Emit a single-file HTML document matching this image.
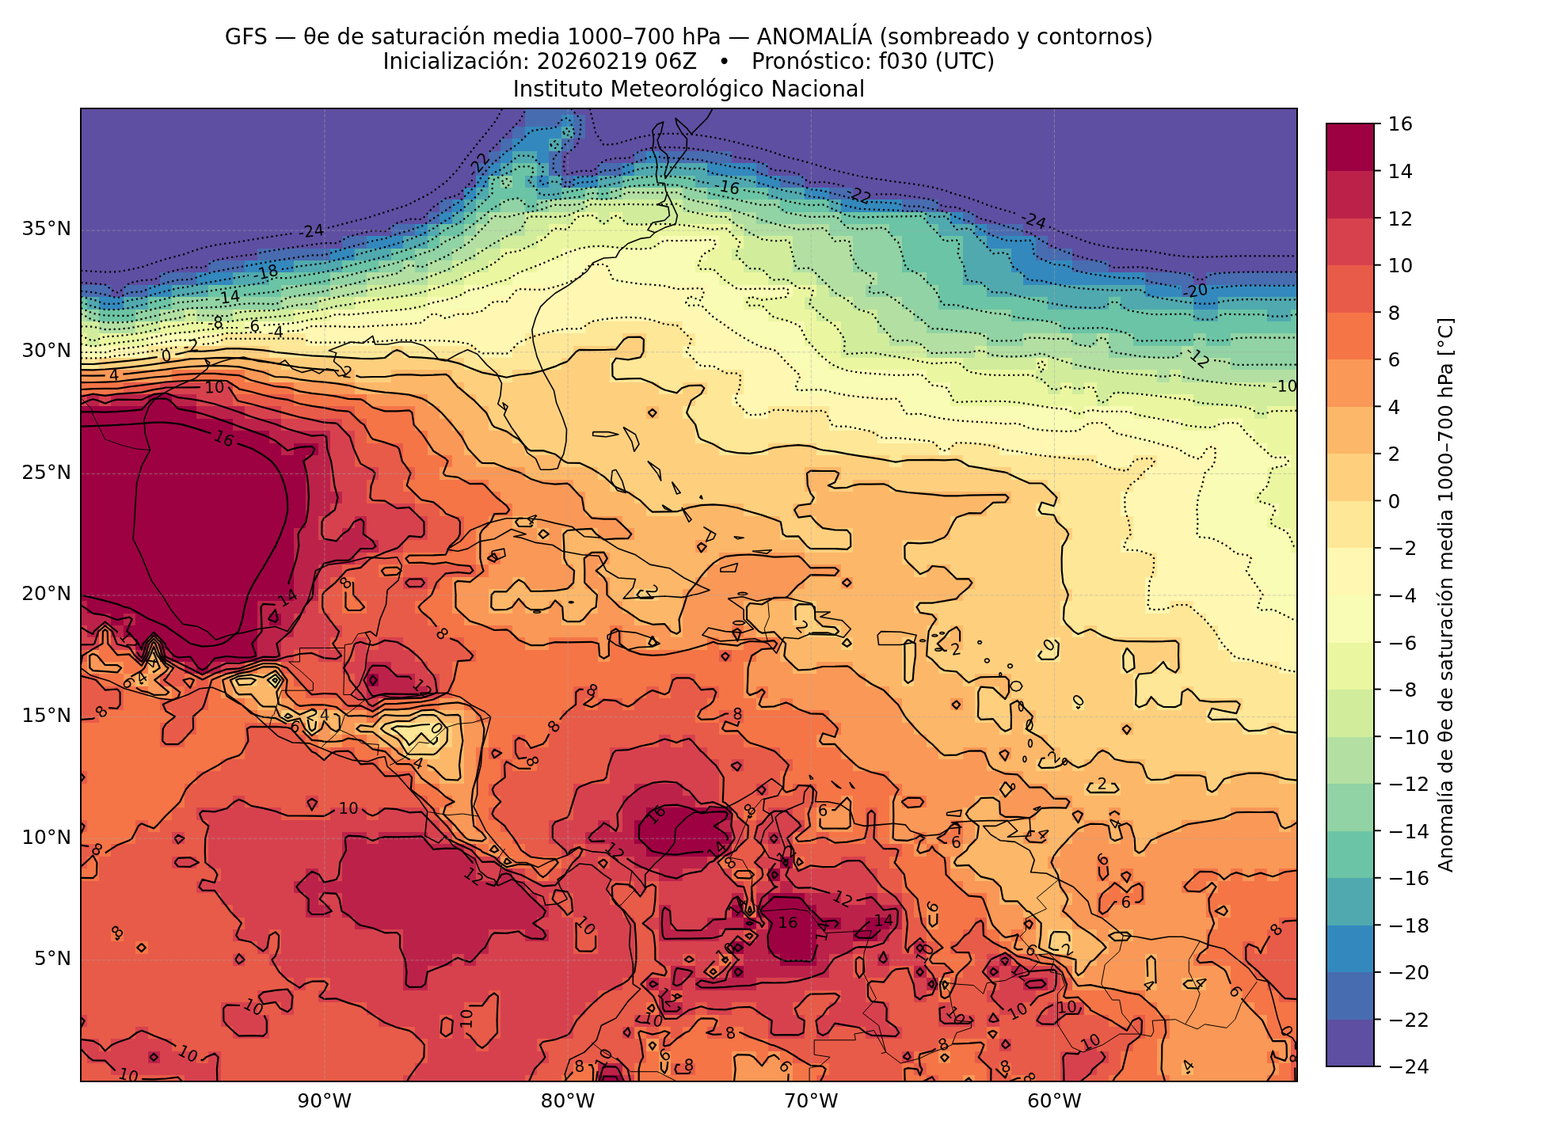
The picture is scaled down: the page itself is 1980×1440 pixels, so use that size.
<!DOCTYPE html>
<html lang="es"><head><meta charset="utf-8"><title>GFS — θe de saturación media 1000–700 hPa — ANOMALÍA</title>
<style>html,body{margin:0;padding:0;background:#fff}svg{display:block}</style></head>
<body>
<svg xmlns="http://www.w3.org/2000/svg" width="1980" height="1440" viewBox="0 0 1980 1440" font-family="'DejaVu Sans','Liberation Sans',sans-serif" fill="#000">
<rect width="1980" height="1440" fill="#fff"/>
<defs><clipPath id="ax"><rect x="102.0" y="137.0" width="1536.0" height="1229.0"/></clipPath></defs>
<g shape-rendering="crispEdges"><path fill="#5e4fa2" d="M724.1 137H1638V144.7H724.1ZM102 137H662.6V160H102ZM102 160H647.3V175.4H102ZM739.4 144.7H1638V175.4H739.4ZM102 175.4H631.9V190.8H102ZM724.1 175.4H1638V190.8H724.1ZM102 190.8H616.6V206.1H102ZM708.7 190.8H800.9V206.1H708.7ZM923.8 190.8H1638V206.1H923.8ZM708.7 206.1H754.8V221.5H708.7ZM969.8 206.1H1638V221.5H969.8ZM102 206.1H601.2V236.9H102ZM1015.9 221.5H1638V236.9H1015.9ZM102 236.9H585.8V252.2H102ZM1077.4 236.9H1638V252.2H1077.4ZM102 252.2H555.1V267.6H102ZM1184.9 252.2H1638V267.6H1184.9ZM102 267.6H539.8V282.9H102ZM1231 267.6H1638V282.9H1231ZM102 282.9H493.7V298.3H102ZM1292.4 282.9H1638V298.3H1292.4ZM102 298.3H432.2V313.7H102ZM1323.1 298.3H1638V313.7H1323.1ZM102 313.7H324.7V329H102ZM1353.8 313.7H1638V329H1353.8ZM102 329H263.3V344.4H102ZM1399.9 329H1638V344.4H1399.9ZM102 344.4H201.8V359.8H102ZM1507.4 344.4H1522.8V359.8H1507.4ZM140.4 359.8H155.8V375.1H140.4Z"/>
<path fill="#486cb0" d="M662.6 137H724.1V144.7H662.6ZM662.6 144.7H708.7V160H662.6ZM647.3 160H662.6V175.4H647.3ZM724.1 144.7H739.4V175.4H724.1ZM631.9 175.4H647.3V190.8H631.9ZM708.7 175.4H724.1V190.8H708.7ZM616.6 190.8H631.9V206.1H616.6ZM800.9 190.8H816.2V206.1H800.9ZM831.6 190.8H923.8V206.1H831.6ZM601.2 206.1H616.6V221.5H601.2ZM693.4 190.8H708.7V221.5H693.4ZM754.8 206.1H785.5V221.5H754.8ZM954.5 206.1H969.8V221.5H954.5ZM708.7 221.5H724.1V236.9H708.7ZM985.2 221.5H1015.9V236.9H985.2ZM1046.6 236.9H1077.4V252.2H1046.6ZM555.1 252.2H570.5V267.6H555.1ZM1138.8 252.2H1184.9V267.6H1138.8ZM539.8 267.6H555.1V282.9H539.8ZM1215.6 267.6H1231V282.9H1215.6ZM493.7 282.9H524.4V298.3H493.7ZM1246.3 282.9H1292.4V298.3H1246.3ZM432.2 298.3H463V313.7H432.2ZM1307.8 298.3H1323.1V313.7H1307.8ZM324.7 313.7H416.9V329H324.7ZM1307.8 313.7H1353.8V329H1307.8ZM263.3 329H309.4V344.4H263.3ZM1353.8 329H1399.9V344.4H1353.8ZM201.8 344.4H247.9V359.8H201.8ZM1446 344.4H1507.4V359.8H1446ZM1522.8 344.4H1638V359.8H1522.8ZM102 359.8H140.4V375.1H102ZM155.8 359.8H186.5V375.1H155.8ZM1492.1 359.8H1507.4V375.1H1492.1Z"/>
<path fill="#3389bd" d="M708.7 144.7H724.1V160H708.7ZM662.6 160H708.7V175.4H662.6ZM647.3 175.4H693.4V190.8H647.3ZM631.9 190.8H647.3V206.1H631.9ZM678 190.8H693.4V206.1H678ZM816.2 190.8H831.6V206.1H816.2ZM616.6 206.1H631.9V221.5H616.6ZM785.5 206.1H800.9V221.5H785.5ZM893 206.1H954.5V221.5H893ZM601.2 221.5H616.6V236.9H601.2ZM678 221.5H693.4V236.9H678ZM724.1 221.5H754.8V236.9H724.1ZM954.5 221.5H985.2V236.9H954.5ZM585.8 236.9H601.2V252.2H585.8ZM1015.9 236.9H1046.6V252.2H1015.9ZM570.5 252.2H585.8V267.6H570.5ZM1062 252.2H1138.8V267.6H1062ZM555.1 267.6H570.5V282.9H555.1ZM1200.2 267.6H1215.6V282.9H1200.2ZM524.4 282.9H539.8V298.3H524.4ZM1231 282.9H1246.3V298.3H1231ZM463 298.3H509V313.7H463ZM1246.3 298.3H1307.8V313.7H1246.3ZM416.9 313.7H447.6V329H416.9ZM1277 313.7H1307.8V329H1277ZM309.4 329H370.8V344.4H309.4ZM1277 329H1353.8V344.4H1277ZM247.9 344.4H294V359.8H247.9ZM1292.4 344.4H1446V359.8H1292.4ZM186.5 359.8H217.2V375.1H186.5ZM1446 359.8H1492.1V375.1H1446ZM1507.4 359.8H1638V375.1H1507.4ZM125 375.1H155.8V390.5H125ZM1507.4 375.1H1538.2V390.5H1507.4Z"/>
<path fill="#50a9af" d="M708.7 160H724.1V175.4H708.7ZM693.4 175.4H708.7V190.8H693.4ZM647.3 190.8H678V206.1H647.3ZM631.9 206.1H647.3V221.5H631.9ZM678 206.1H693.4V221.5H678ZM800.9 206.1H893V221.5H800.9ZM662.6 221.5H678V236.9H662.6ZM693.4 221.5H708.7V236.9H693.4ZM754.8 221.5H785.5V236.9H754.8ZM877.7 221.5H954.5V236.9H877.7ZM601.2 236.9H616.6V252.2H601.2ZM678 236.9H708.7V252.2H678ZM969.8 236.9H1015.9V252.2H969.8ZM585.8 252.2H601.2V267.6H585.8ZM1046.6 252.2H1062V267.6H1046.6ZM570.5 267.6H585.8V282.9H570.5ZM1169.5 267.6H1200.2V282.9H1169.5ZM539.8 282.9H555.1V298.3H539.8ZM1184.9 282.9H1231V298.3H1184.9ZM509 298.3H539.8V313.7H509ZM1215.6 298.3H1246.3V313.7H1215.6ZM447.6 313.7H493.7V329H447.6ZM370.8 329H432.2V344.4H370.8ZM1215.6 313.7H1277V344.4H1215.6ZM294 344.4H340.1V359.8H294ZM1215.6 344.4H1292.4V359.8H1215.6ZM217.2 359.8H263.3V375.1H217.2ZM1246.3 359.8H1446V375.1H1246.3ZM109.7 375.1H125V390.5H109.7ZM155.8 375.1H186.5V390.5H155.8ZM1323.1 375.1H1399.9V390.5H1323.1ZM1415.3 375.1H1507.4V390.5H1415.3ZM1538.2 375.1H1638V390.5H1538.2ZM1507.4 390.5H1538.2V405.8H1507.4ZM1599.6 390.5H1630.3V405.8H1599.6Z"/>
<path fill="#6bc4a5" d="M647.3 206.1H678V221.5H647.3ZM616.6 221.5H631.9V236.9H616.6ZM647.3 221.5H662.6V236.9H647.3ZM785.5 221.5H877.7V236.9H785.5ZM616.6 236.9H678V252.2H616.6ZM708.7 236.9H739.4V252.2H708.7ZM754.8 236.9H770.2V252.2H754.8ZM893 236.9H969.8V252.2H893ZM601.2 252.2H631.9V267.6H601.2ZM662.6 252.2H678V267.6H662.6ZM985.2 252.2H1046.6V267.6H985.2ZM585.8 267.6H601.2V282.9H585.8ZM1062 267.6H1169.5V282.9H1062ZM555.1 282.9H585.8V298.3H555.1ZM1123.4 282.9H1184.9V298.3H1123.4ZM539.8 298.3H555.1V313.7H539.8ZM493.7 313.7H524.4V329H493.7ZM432.2 329H478.3V344.4H432.2ZM1138.8 298.3H1215.6V344.4H1138.8ZM340.1 344.4H416.9V359.8H340.1ZM1169.5 344.4H1215.6V359.8H1169.5ZM263.3 359.8H355.4V375.1H263.3ZM1184.9 359.8H1246.3V375.1H1184.9ZM102 375.1H109.7V390.5H102ZM186.5 375.1H217.2V390.5H186.5ZM1184.9 375.1H1323.1V390.5H1184.9ZM1399.9 375.1H1415.3V390.5H1399.9ZM125 390.5H171.1V405.8H125ZM1277 390.5H1507.4V405.8H1277ZM1538.2 390.5H1599.6V405.8H1538.2ZM1630.3 390.5H1638V405.8H1630.3ZM1338.5 405.8H1638V421.2H1338.5ZM1430.6 421.2H1507.4V436.6H1430.6ZM1522.8 421.2H1553.5V436.6H1522.8Z"/>
<path fill="#91d3a4" d="M631.9 221.5H647.3V236.9H631.9ZM739.4 236.9H754.8V252.2H739.4ZM770.2 236.9H785.5V252.2H770.2ZM862.3 236.9H893V252.2H862.3ZM631.9 252.2H662.6V267.6H631.9ZM678 252.2H693.4V267.6H678ZM908.4 252.2H985.2V267.6H908.4ZM601.2 267.6H616.6V282.9H601.2ZM954.5 267.6H1062V282.9H954.5ZM585.8 282.9H601.2V298.3H585.8ZM1046.6 282.9H1123.4V298.3H1046.6ZM555.1 298.3H585.8V313.7H555.1ZM524.4 313.7H570.5V329H524.4ZM478.3 329H509V344.4H478.3ZM524.4 329H539.8V344.4H524.4ZM1077.4 298.3H1138.8V344.4H1077.4ZM416.9 344.4H463V359.8H416.9ZM1108.1 344.4H1169.5V359.8H1108.1ZM355.4 359.8H416.9V375.1H355.4ZM1092.7 359.8H1184.9V375.1H1092.7ZM217.2 375.1H355.4V390.5H217.2ZM1138.8 375.1H1184.9V390.5H1138.8ZM109.7 390.5H125V405.8H109.7ZM171.1 390.5H201.8V405.8H171.1ZM1154.2 390.5H1277V405.8H1154.2ZM1169.5 405.8H1338.5V421.2H1169.5ZM1246.3 421.2H1292.4V436.6H1246.3ZM1353.8 421.2H1384.6V436.6H1353.8ZM1399.9 421.2H1430.6V436.6H1399.9ZM1507.4 421.2H1522.8V436.6H1507.4ZM1553.5 421.2H1638V436.6H1553.5ZM1399.9 436.6H1492.1V451.9H1399.9ZM1507.4 436.6H1638V451.9H1507.4ZM1553.5 451.9H1638V467.3H1553.5Z"/>
<path fill="#b3e0a2" d="M785.5 236.9H862.3V252.2H785.5ZM693.4 252.2H739.4V267.6H693.4ZM862.3 252.2H908.4V267.6H862.3ZM616.6 267.6H662.6V282.9H616.6ZM923.8 267.6H954.5V282.9H923.8ZM601.2 282.9H662.6V298.3H601.2ZM939.1 282.9H1046.6V298.3H939.1ZM585.8 298.3H631.9V313.7H585.8ZM570.5 313.7H601.2V329H570.5ZM509 329H524.4V344.4H509ZM539.8 329H570.5V344.4H539.8ZM1000.6 298.3H1077.4V344.4H1000.6ZM463 344.4H539.8V359.8H463ZM1031.3 344.4H1108.1V359.8H1031.3ZM416.9 359.8H463V375.1H416.9ZM1046.6 359.8H1092.7V375.1H1046.6ZM355.4 375.1H401.5V390.5H355.4ZM1077.4 375.1H1138.8V390.5H1077.4ZM102 390.5H109.7V405.8H102ZM201.8 390.5H232.6V405.8H201.8ZM247.9 390.5H294V405.8H247.9ZM1108.1 390.5H1154.2V405.8H1108.1ZM125 405.8H171.1V421.2H125ZM1108.1 405.8H1169.5V421.2H1108.1ZM1123.4 421.2H1246.3V436.6H1123.4ZM1292.4 421.2H1353.8V436.6H1292.4ZM1384.6 421.2H1399.9V436.6H1384.6ZM1169.5 436.6H1231V451.9H1169.5ZM1246.3 436.6H1399.9V451.9H1246.3ZM1492.1 436.6H1507.4V451.9H1492.1ZM1353.8 451.9H1553.5V467.3H1353.8ZM1461.4 467.3H1476.7V482.7H1461.4ZM1492.1 467.3H1638V482.7H1492.1Z"/>
<path fill="#d1ed9c" d="M739.4 252.2H862.3V267.6H739.4ZM662.6 267.6H724.1V282.9H662.6ZM754.8 267.6H770.2V282.9H754.8ZM785.5 267.6H923.8V282.9H785.5ZM662.6 282.9H693.4V298.3H662.6ZM923.8 282.9H939.1V298.3H923.8ZM631.9 298.3H678V313.7H631.9ZM939.1 298.3H1000.6V313.7H939.1ZM601.2 313.7H631.9V329H601.2ZM923.8 313.7H1000.6V329H923.8ZM570.5 329H616.6V344.4H570.5ZM939.1 329H1000.6V344.4H939.1ZM539.8 344.4H585.8V359.8H539.8ZM969.8 344.4H1031.3V359.8H969.8ZM463 359.8H539.8V375.1H463ZM1031.3 359.8H1046.6V375.1H1031.3ZM401.5 375.1H447.6V390.5H401.5ZM1015.9 375.1H1077.4V390.5H1015.9ZM232.6 390.5H247.9V405.8H232.6ZM294 390.5H370.8V405.8H294ZM1031.3 390.5H1108.1V405.8H1031.3ZM102 405.8H125V421.2H102ZM171.1 405.8H201.8V421.2H171.1ZM1062 405.8H1108.1V421.2H1062ZM109.7 421.2H125V436.6H109.7ZM1062 421.2H1123.4V436.6H1062ZM1062 436.6H1169.5V451.9H1062ZM1231 436.6H1246.3V451.9H1231ZM1215.6 451.9H1307.8V467.3H1215.6ZM1323.1 451.9H1353.8V467.3H1323.1ZM1307.8 467.3H1461.4V482.7H1307.8ZM1476.7 467.3H1492.1V482.7H1476.7ZM1323.1 482.7H1338.5V498H1323.1ZM1353.8 482.7H1369.2V498H1353.8ZM1384.6 482.7H1638V498H1384.6ZM1384.6 498H1399.9V513.4H1384.6ZM1507.4 498H1638V513.4H1507.4ZM1584.2 513.4H1599.6V528.7H1584.2Z"/>
<path fill="#ebf7a0" d="M724.1 267.6H754.8V282.9H724.1ZM770.2 267.6H785.5V282.9H770.2ZM693.4 282.9H923.8V298.3H693.4ZM678 298.3H831.6V313.7H678ZM908.4 298.3H939.1V313.7H908.4ZM631.9 313.7H708.7V329H631.9ZM893 313.7H923.8V329H893ZM616.6 329H678V344.4H616.6ZM877.7 329H939.1V344.4H877.7ZM585.8 344.4H647.3V359.8H585.8ZM908.4 344.4H969.8V359.8H908.4ZM539.8 359.8H585.8V375.1H539.8ZM1000.6 359.8H1031.3V375.1H1000.6ZM447.6 375.1H539.8V390.5H447.6ZM939.1 375.1H1015.9V390.5H939.1ZM370.8 390.5H416.9V405.8H370.8ZM969.8 390.5H1031.3V405.8H969.8ZM201.8 405.8H309.4V421.2H201.8ZM102 421.2H109.7V436.6H102ZM125 421.2H186.5V436.6H125ZM1015.9 405.8H1062V436.6H1015.9ZM1031.3 436.6H1062V451.9H1031.3ZM1046.6 451.9H1215.6V467.3H1046.6ZM1307.8 451.9H1323.1V467.3H1307.8ZM1169.5 467.3H1307.8V482.7H1169.5ZM1200.2 482.7H1323.1V498H1200.2ZM1338.5 482.7H1353.8V498H1338.5ZM1369.2 482.7H1384.6V498H1369.2ZM1200.2 498H1384.6V513.4H1200.2ZM1399.9 498H1507.4V513.4H1399.9ZM1353.8 513.4H1369.2V528.7H1353.8ZM1430.6 513.4H1584.2V528.7H1430.6ZM1599.6 513.4H1638V528.7H1599.6ZM1492.1 528.7H1538.2V544.1H1492.1ZM1568.9 528.7H1638V544.1H1568.9ZM1584.2 544.1H1638V559.5H1584.2ZM1599.6 559.5H1638V574.8H1599.6ZM1630.3 574.8H1638V590.2H1630.3ZM1599.6 590.2H1638V620.9H1599.6ZM1584.2 620.9H1638V636.3H1584.2ZM1615 636.3H1638V651.6H1615ZM1599.6 651.6H1638V667H1599.6ZM1630.3 667H1638V697.7H1630.3Z"/>
<path fill="#f8fcb4" d="M831.6 298.3H908.4V313.7H831.6ZM708.7 313.7H893V329H708.7ZM678 329H739.4V344.4H678ZM770.2 329H877.7V344.4H770.2ZM647.3 344.4H724.1V359.8H647.3ZM770.2 344.4H908.4V359.8H770.2ZM585.8 359.8H647.3V375.1H585.8ZM893 359.8H1000.6V375.1H893ZM539.8 375.1H616.6V390.5H539.8ZM862.3 375.1H939.1V390.5H862.3ZM416.9 390.5H539.8V405.8H416.9ZM555.1 390.5H570.5V405.8H555.1ZM893 390.5H969.8V405.8H893ZM309.4 405.8H386.2V421.2H309.4ZM923.8 405.8H1015.9V421.2H923.8ZM186.5 421.2H247.9V436.6H186.5ZM939.1 421.2H1015.9V436.6H939.1ZM102 436.6H140.4V451.9H102ZM985.2 436.6H1031.3V451.9H985.2ZM1000.6 451.9H1046.6V467.3H1000.6ZM1015.9 467.3H1169.5V482.7H1015.9ZM1000.6 482.7H1200.2V498H1000.6ZM1138.8 498H1200.2V513.4H1138.8ZM1138.8 513.4H1353.8V528.7H1138.8ZM1369.2 513.4H1430.6V528.7H1369.2ZM1292.4 528.7H1369.2V544.1H1292.4ZM1399.9 528.7H1492.1V544.1H1399.9ZM1538.2 528.7H1568.9V544.1H1538.2ZM1430.6 544.1H1584.2V559.5H1430.6ZM1492.1 559.5H1522.8V574.8H1492.1ZM1538.2 559.5H1599.6V574.8H1538.2ZM1538.2 574.8H1630.3V590.2H1538.2ZM1522.8 590.2H1599.6V620.9H1522.8ZM1507.4 620.9H1584.2V636.3H1507.4ZM1507.4 636.3H1615V651.6H1507.4ZM1507.4 651.6H1599.6V667H1507.4ZM1507.4 667H1630.3V682.4H1507.4ZM1553.5 682.4H1630.3V697.7H1553.5ZM1584.2 697.7H1638V713.1H1584.2ZM1568.9 713.1H1638V728.5H1568.9ZM1584.2 728.5H1638V743.8H1584.2ZM1599.6 743.8H1638V759.2H1599.6ZM1584.2 759.2H1638V774.5H1584.2ZM1630.3 774.5H1638V789.9H1630.3Z"/>
<path fill="#fff7b2" d="M739.4 329H770.2V344.4H739.4ZM724.1 344.4H770.2V359.8H724.1ZM647.3 359.8H893V375.1H647.3ZM616.6 375.1H862.3V390.5H616.6ZM539.8 390.5H555.1V405.8H539.8ZM570.5 390.5H893V405.8H570.5ZM386.2 405.8H739.4V421.2H386.2ZM862.3 405.8H923.8V421.2H862.3ZM247.9 421.2H278.6V436.6H247.9ZM386.2 421.2H662.6V436.6H386.2ZM877.7 421.2H939.1V436.6H877.7ZM140.4 436.6H186.5V451.9H140.4ZM601.2 436.6H647.3V451.9H601.2ZM862.3 436.6H985.2V451.9H862.3ZM877.7 451.9H1000.6V467.3H877.7ZM939.1 467.3H1015.9V482.7H939.1ZM939.1 482.7H1000.6V498H939.1ZM923.8 498H1138.8V513.4H923.8ZM939.1 513.4H969.8V528.7H939.1ZM1046.6 513.4H1138.8V528.7H1046.6ZM1046.6 528.7H1292.4V544.1H1046.6ZM1369.2 528.7H1399.9V544.1H1369.2ZM1108.1 544.1H1430.6V559.5H1108.1ZM1184.9 559.5H1200.2V574.8H1184.9ZM1261.7 559.5H1492.1V574.8H1261.7ZM1522.8 559.5H1538.2V574.8H1522.8ZM1384.6 574.8H1430.6V590.2H1384.6ZM1461.4 574.8H1538.2V590.2H1461.4ZM1446 590.2H1522.8V605.6H1446ZM1430.6 605.6H1522.8V620.9H1430.6ZM1415.3 620.9H1507.4V651.6H1415.3ZM1430.6 651.6H1507.4V682.4H1430.6ZM1415.3 682.4H1553.5V697.7H1415.3ZM1461.4 697.7H1584.2V713.1H1461.4ZM1461.4 713.1H1568.9V728.5H1461.4ZM1446 728.5H1584.2V743.8H1446ZM1446 743.8H1599.6V759.2H1446ZM1446 759.2H1476.7V774.5H1446ZM1507.4 759.2H1584.2V774.5H1507.4ZM1522.8 774.5H1630.3V789.9H1522.8ZM1538.2 789.9H1638V820.6H1538.2ZM1553.5 820.6H1638V836H1553.5ZM1615 836H1638V851.4H1615Z"/>
<path fill="#fee797" d="M739.4 405.8H862.3V421.2H739.4ZM278.6 421.2H386.2V436.6H278.6ZM662.6 421.2H785.5V436.6H662.6ZM816.2 421.2H877.7V436.6H816.2ZM186.5 436.6H232.6V451.9H186.5ZM340.1 436.6H493.7V451.9H340.1ZM509 436.6H601.2V451.9H509ZM647.3 436.6H724.1V451.9H647.3ZM816.2 436.6H862.3V451.9H816.2ZM102 451.9H125V467.3H102ZM585.8 451.9H708.7V467.3H585.8ZM770.2 451.9H877.7V467.3H770.2ZM631.9 467.3H647.3V482.7H631.9ZM770.2 467.3H939.1V482.7H770.2ZM831.6 482.7H862.3V498H831.6ZM893 482.7H939.1V498H893ZM877.7 498H923.8V513.4H877.7ZM862.3 513.4H939.1V528.7H862.3ZM969.8 513.4H1046.6V528.7H969.8ZM877.7 528.7H1046.6V544.1H877.7ZM877.7 544.1H1108.1V559.5H877.7ZM908.4 559.5H969.8V574.8H908.4ZM1031.3 559.5H1184.9V574.8H1031.3ZM1200.2 559.5H1261.7V574.8H1200.2ZM1123.4 574.8H1138.8V590.2H1123.4ZM1215.6 574.8H1384.6V590.2H1215.6ZM1430.6 574.8H1461.4V590.2H1430.6ZM1277 590.2H1446V605.6H1277ZM1323.1 605.6H1430.6V620.9H1323.1ZM1338.5 620.9H1415.3V636.3H1338.5ZM1307.8 636.3H1415.3V651.6H1307.8ZM1338.5 651.6H1430.6V667H1338.5ZM1353.8 667H1430.6V682.4H1353.8ZM1338.5 682.4H1415.3V697.7H1338.5ZM1338.5 697.7H1461.4V728.5H1338.5ZM1338.5 728.5H1446V743.8H1338.5ZM1353.8 743.8H1446V759.2H1353.8ZM1338.5 759.2H1446V774.5H1338.5ZM1476.7 759.2H1507.4V774.5H1476.7ZM1338.5 774.5H1522.8V789.9H1338.5ZM1353.8 789.9H1369.2V805.3H1353.8ZM1384.6 789.9H1538.2V805.3H1384.6ZM1323.1 805.3H1338.5V820.6H1323.1ZM1492.1 805.3H1538.2V820.6H1492.1ZM1307.8 820.6H1338.5V836H1307.8ZM1492.1 820.6H1553.5V836H1492.1ZM1415.3 820.6H1430.6V851.4H1415.3ZM1461.4 836H1476.7V851.4H1461.4ZM1492.1 836H1615V851.4H1492.1ZM340.1 851.4H355.4V866.7H340.1ZM1430.6 851.4H1638V866.7H1430.6ZM1430.6 866.7H1492.1V882.1H1430.6ZM1507.4 866.7H1638V882.1H1507.4ZM1353.8 882.1H1369.2V897.4H1353.8ZM1430.6 882.1H1446V897.4H1430.6ZM1461.4 882.1H1492.1V897.4H1461.4ZM1568.9 882.1H1638V897.4H1568.9ZM1522.8 897.4H1638V912.8H1522.8ZM493.7 912.8H555.1V928.2H493.7ZM1568.9 912.8H1599.6V928.2H1568.9ZM1615 912.8H1638V928.2H1615ZM509 928.2H524.4V943.5H509ZM539.8 928.2H555.1V943.5H539.8Z"/>
<path fill="#fed07e" d="M785.5 421.2H816.2V436.6H785.5ZM232.6 436.6H340.1V451.9H232.6ZM493.7 436.6H509V451.9H493.7ZM724.1 436.6H816.2V451.9H724.1ZM125 451.9H201.8V467.3H125ZM355.4 451.9H585.8V467.3H355.4ZM708.7 451.9H770.2V467.3H708.7ZM447.6 467.3H493.7V482.7H447.6ZM570.5 467.3H631.9V482.7H570.5ZM647.3 467.3H770.2V482.7H647.3ZM585.8 482.7H831.6V498H585.8ZM862.3 482.7H893V498H862.3ZM601.2 498H877.7V513.4H601.2ZM616.6 513.4H816.2V528.7H616.6ZM831.6 513.4H862.3V528.7H831.6ZM616.6 528.7H877.7V544.1H616.6ZM647.3 544.1H877.7V559.5H647.3ZM662.6 559.5H908.4V574.8H662.6ZM969.8 559.5H1031.3V574.8H969.8ZM708.7 574.8H1123.4V590.2H708.7ZM1138.8 574.8H1215.6V590.2H1138.8ZM754.8 590.2H1015.9V605.6H754.8ZM1062 590.2H1277V605.6H1062ZM770.2 605.6H1015.9V620.9H770.2ZM1046.6 605.6H1077.4V620.9H1046.6ZM1123.4 605.6H1323.1V620.9H1123.4ZM800.9 620.9H1031.3V636.3H800.9ZM1277 620.9H1338.5V636.3H1277ZM816.2 636.3H862.3V651.6H816.2ZM939.1 636.3H1000.6V651.6H939.1ZM1246.3 636.3H1307.8V651.6H1246.3ZM985.2 651.6H1031.3V667H985.2ZM1200.2 651.6H1338.5V667H1200.2ZM985.2 667H1077.4V682.4H985.2ZM1200.2 667H1353.8V682.4H1200.2ZM1015.9 682.4H1077.4V697.7H1015.9ZM1138.8 682.4H1338.5V713.1H1138.8ZM1154.2 713.1H1169.5V728.5H1154.2ZM1200.2 713.1H1338.5V728.5H1200.2ZM1231 728.5H1338.5V743.8H1231ZM800.9 743.8H831.6V759.2H800.9ZM1215.6 743.8H1353.8V759.2H1215.6ZM1154.2 759.2H1338.5V774.5H1154.2ZM1000.6 759.2H1031.3V789.9H1000.6ZM1184.9 774.5H1338.5V789.9H1184.9ZM1015.9 789.9H1062V805.3H1015.9ZM1169.5 789.9H1200.2V805.3H1169.5ZM1215.6 789.9H1353.8V805.3H1215.6ZM1369.2 789.9H1384.6V805.3H1369.2ZM1062 805.3H1077.4V820.6H1062ZM1169.5 805.3H1184.9V820.6H1169.5ZM1215.6 805.3H1323.1V820.6H1215.6ZM1338.5 805.3H1492.1V820.6H1338.5ZM1169.5 820.6H1307.8V836H1169.5ZM1338.5 820.6H1415.3V836H1338.5ZM1430.6 820.6H1492.1V836H1430.6ZM1184.9 836H1415.3V851.4H1184.9ZM1430.6 836H1461.4V851.4H1430.6ZM1476.7 836H1492.1V851.4H1476.7ZM294 851.4H324.7V866.7H294ZM1138.8 805.3H1154.2V866.7H1138.8ZM1215.6 851.4H1231V866.7H1215.6ZM1231 866.7H1261.7V882.1H1231ZM1277 851.4H1430.6V882.1H1277ZM1492.1 866.7H1507.4V882.1H1492.1ZM1292.4 882.1H1353.8V897.4H1292.4ZM1369.2 882.1H1430.6V897.4H1369.2ZM1446 882.1H1461.4V897.4H1446ZM1492.1 882.1H1568.9V897.4H1492.1ZM355.4 897.4H370.8V912.8H355.4ZM524.4 897.4H555.1V912.8H524.4ZM1231 882.1H1277V912.8H1231ZM1307.8 897.4H1522.8V912.8H1307.8ZM386.2 897.4H401.5V928.2H386.2ZM478.3 912.8H493.7V928.2H478.3ZM1261.7 912.8H1277V928.2H1261.7ZM1292.4 912.8H1415.3V928.2H1292.4ZM1430.6 912.8H1568.9V928.2H1430.6ZM1599.6 912.8H1615V928.2H1599.6ZM524.4 928.2H539.8V943.5H524.4ZM555.1 912.8H570.5V943.5H555.1ZM1323.1 928.2H1638V943.5H1323.1ZM509 943.5H555.1V958.9H509ZM1338.5 943.5H1384.6V958.9H1338.5ZM1399.9 943.5H1638V958.9H1399.9ZM1307.8 958.9H1338.5V974.3H1307.8ZM1353.8 958.9H1369.2V974.3H1353.8ZM1446 958.9H1638V974.3H1446ZM1446 974.3H1476.7V989.6H1446ZM1522.8 974.3H1553.5V989.6H1522.8ZM1615 974.3H1638V989.6H1615ZM1369.2 989.6H1415.3V1005H1369.2ZM1522.8 989.6H1538.2V1005H1522.8ZM1323.1 1174H1353.8V1204.7H1323.1Z"/>
<path fill="#fdb768" d="M201.8 451.9H355.4V467.3H201.8ZM340.1 467.3H447.6V482.7H340.1ZM493.7 467.3H570.5V482.7H493.7ZM447.6 482.7H585.8V498H447.6ZM539.8 498H601.2V513.4H539.8ZM555.1 513.4H616.6V528.7H555.1ZM816.2 513.4H831.6V528.7H816.2ZM570.5 528.7H616.6V544.1H570.5ZM585.8 544.1H647.3V559.5H585.8ZM585.8 559.5H662.6V574.8H585.8ZM601.2 574.8H708.7V590.2H601.2ZM662.6 590.2H754.8V605.6H662.6ZM1015.9 590.2H1062V605.6H1015.9ZM724.1 605.6H770.2V620.9H724.1ZM1015.9 605.6H1046.6V620.9H1015.9ZM1077.4 605.6H1123.4V620.9H1077.4ZM739.4 620.9H800.9V636.3H739.4ZM1031.3 620.9H1277V636.3H1031.3ZM739.4 636.3H816.2V651.6H739.4ZM862.3 636.3H939.1V651.6H862.3ZM1000.6 636.3H1246.3V651.6H1000.6ZM647.3 651.6H678V667H647.3ZM785.5 651.6H985.2V667H785.5ZM1031.3 651.6H1200.2V667H1031.3ZM678 667H693.4V682.4H678ZM708.7 667H754.8V682.4H708.7ZM800.9 667H985.2V682.4H800.9ZM1077.4 667H1200.2V682.4H1077.4ZM708.7 682.4H877.7V697.7H708.7ZM893 682.4H1015.9V697.7H893ZM1077.4 682.4H1138.8V697.7H1077.4ZM708.7 697.7H739.4V713.1H708.7ZM770.2 697.7H908.4V713.1H770.2ZM1015.9 697.7H1138.8V713.1H1015.9ZM754.8 713.1H893V728.5H754.8ZM1062 713.1H1154.2V728.5H1062ZM1169.5 713.1H1200.2V728.5H1169.5ZM647.3 728.5H662.6V743.8H647.3ZM724.1 713.1H739.4V743.8H724.1ZM770.2 728.5H877.7V743.8H770.2ZM1015.9 728.5H1062V743.8H1015.9ZM1077.4 728.5H1231V743.8H1077.4ZM616.6 743.8H754.8V759.2H616.6ZM770.2 743.8H800.9V759.2H770.2ZM831.6 743.8H862.3V759.2H831.6ZM1000.6 743.8H1215.6V759.2H1000.6ZM616.6 759.2H647.3V774.5H616.6ZM662.6 759.2H693.4V774.5H662.6ZM708.7 759.2H754.8V774.5H708.7ZM785.5 759.2H862.3V774.5H785.5ZM1031.3 759.2H1154.2V774.5H1031.3ZM708.7 774.5H739.4V789.9H708.7ZM800.9 774.5H862.3V789.9H800.9ZM939.1 759.2H1000.6V789.9H939.1ZM1031.3 774.5H1184.9V789.9H1031.3ZM847 789.9H862.3V805.3H847ZM954.5 789.9H1015.9V805.3H954.5ZM1062 789.9H1169.5V805.3H1062ZM1200.2 789.9H1215.6V805.3H1200.2ZM816.2 805.3H831.6V820.6H816.2ZM985.2 805.3H1062V820.6H985.2ZM1077.4 805.3H1138.8V820.6H1077.4ZM1184.9 805.3H1215.6V820.6H1184.9ZM985.2 820.6H1138.8V836H985.2ZM1154.2 805.3H1169.5V836H1154.2ZM186.5 820.6H201.8V851.4H186.5ZM1000.6 836H1031.3V851.4H1000.6ZM1077.4 836H1138.8V851.4H1077.4ZM1154.2 836H1184.9V851.4H1154.2ZM171.1 851.4H186.5V866.7H171.1ZM324.7 851.4H340.1V866.7H324.7ZM1092.7 851.4H1138.8V866.7H1092.7ZM1154.2 851.4H1215.6V866.7H1154.2ZM1231 851.4H1277V866.7H1231ZM294 866.7H355.4V882.1H294ZM1123.4 866.7H1231V882.1H1123.4ZM1261.7 866.7H1277V882.1H1261.7ZM324.7 882.1H355.4V897.4H324.7ZM1138.8 882.1H1200.2V897.4H1138.8ZM1215.6 882.1H1231V897.4H1215.6ZM1277 882.1H1292.4V897.4H1277ZM370.8 897.4H386.2V912.8H370.8ZM401.5 897.4H432.2V912.8H401.5ZM478.3 897.4H524.4V912.8H478.3ZM555.1 897.4H585.8V912.8H555.1ZM1138.8 897.4H1231V912.8H1138.8ZM1277 897.4H1307.8V912.8H1277ZM416.9 912.8H432.2V928.2H416.9ZM447.6 912.8H478.3V928.2H447.6ZM1154.2 912.8H1261.7V928.2H1154.2ZM1277 912.8H1292.4V928.2H1277ZM1415.3 912.8H1430.6V928.2H1415.3ZM478.3 928.2H509V943.5H478.3ZM570.5 912.8H585.8V943.5H570.5ZM1169.5 928.2H1323.1V943.5H1169.5ZM555.1 943.5H585.8V958.9H555.1ZM1184.9 943.5H1215.6V958.9H1184.9ZM1246.3 943.5H1261.7V958.9H1246.3ZM1277 943.5H1338.5V958.9H1277ZM1384.6 943.5H1399.9V958.9H1384.6ZM539.8 958.9H585.8V974.3H539.8ZM1246.3 958.9H1307.8V974.3H1246.3ZM1338.5 958.9H1353.8V974.3H1338.5ZM1369.2 958.9H1446V974.3H1369.2ZM555.1 974.3H585.8V989.6H555.1ZM1292.4 974.3H1446V989.6H1292.4ZM1476.7 974.3H1522.8V989.6H1476.7ZM1553.5 974.3H1615V989.6H1553.5ZM1261.7 989.6H1277V1005H1261.7ZM1323.1 989.6H1369.2V1005H1323.1ZM1415.3 989.6H1522.8V1005H1415.3ZM1538.2 989.6H1638V1005H1538.2ZM1231 1005H1261.7V1020.3H1231ZM1353.8 1005H1638V1020.3H1353.8ZM1215.6 1020.3H1261.7V1035.7H1215.6ZM1307.8 1020.3H1353.8V1035.7H1307.8ZM1369.2 1020.3H1399.9V1035.7H1369.2ZM1415.3 1020.3H1553.5V1035.7H1415.3ZM1615 1020.3H1638V1035.7H1615ZM1231 1035.7H1369.2V1051.1H1231ZM1430.6 1035.7H1492.1V1051.1H1430.6ZM1615 1035.7H1630.3V1051.1H1615ZM1231 1051.1H1292.4V1066.4H1231ZM1323.1 1051.1H1353.8V1066.4H1323.1ZM1399.9 1035.7H1415.3V1066.4H1399.9ZM1430.6 1051.1H1461.4V1066.4H1430.6ZM1215.6 1066.4H1338.5V1081.8H1215.6ZM1430.6 1066.4H1446V1081.8H1430.6ZM1200.2 1081.8H1323.1V1097.2H1200.2ZM1231 1097.2H1338.5V1112.5H1231ZM1261.7 1112.5H1338.5V1127.9H1261.7ZM1261.7 1127.9H1353.8V1143.2H1261.7ZM1292.4 1143.2H1338.5V1158.6H1292.4ZM1307.8 1158.6H1353.8V1174H1307.8ZM1353.8 1174H1384.6V1189.3H1353.8ZM1399.9 1174H1430.6V1189.3H1399.9ZM1307.8 1174H1323.1V1204.7H1307.8ZM1353.8 1189.3H1399.9V1204.7H1353.8ZM1353.8 1204.7H1384.6V1220.1H1353.8ZM1353.8 1220.1H1369.2V1235.4H1353.8ZM1446 1204.7H1461.4V1250.8H1446ZM1492.1 1235.4H1522.8V1250.8H1492.1ZM1492.1 1343H1507.4V1358.3H1492.1Z"/>
<path fill="#fa9857" d="M102 467.3H217.2V482.7H102ZM309.4 467.3H340.1V482.7H309.4ZM370.8 482.7H447.6V498H370.8ZM463 498H539.8V513.4H463ZM524.4 513.4H555.1V528.7H524.4ZM524.4 528.7H570.5V544.1H524.4ZM539.8 544.1H585.8V574.8H539.8ZM570.5 574.8H601.2V590.2H570.5ZM555.1 590.2H662.6V605.6H555.1ZM616.6 605.6H724.1V620.9H616.6ZM631.9 620.9H739.4V636.3H631.9ZM647.3 636.3H739.4V651.6H647.3ZM616.6 651.6H647.3V667H616.6ZM678 651.6H785.5V667H678ZM601.2 667H678V682.4H601.2ZM693.4 667H708.7V682.4H693.4ZM754.8 667H800.9V682.4H754.8ZM601.2 682.4H708.7V697.7H601.2ZM877.7 682.4H893V697.7H877.7ZM601.2 697.7H616.6V713.1H601.2ZM631.9 697.7H708.7V713.1H631.9ZM739.4 697.7H770.2V713.1H739.4ZM908.4 697.7H1015.9V713.1H908.4ZM616.6 713.1H724.1V728.5H616.6ZM739.4 713.1H754.8V728.5H739.4ZM893 713.1H1062V728.5H893ZM570.5 728.5H647.3V743.8H570.5ZM662.6 728.5H724.1V743.8H662.6ZM739.4 728.5H770.2V743.8H739.4ZM877.7 728.5H1015.9V743.8H877.7ZM1062 728.5H1077.4V743.8H1062ZM754.8 743.8H770.2V759.2H754.8ZM862.3 743.8H1000.6V759.2H862.3ZM570.5 743.8H616.6V774.5H570.5ZM647.3 759.2H662.6V774.5H647.3ZM693.4 759.2H708.7V774.5H693.4ZM754.8 759.2H785.5V774.5H754.8ZM585.8 774.5H708.7V789.9H585.8ZM739.4 774.5H800.9V789.9H739.4ZM862.3 759.2H939.1V789.9H862.3ZM647.3 789.9H770.2V805.3H647.3ZM785.5 789.9H847V805.3H785.5ZM862.3 789.9H923.8V805.3H862.3ZM939.1 789.9H954.5V805.3H939.1ZM662.6 805.3H693.4V820.6H662.6ZM785.5 805.3H816.2V820.6H785.5ZM831.6 805.3H893V820.6H831.6ZM908.4 805.3H939.1V820.6H908.4ZM109.7 820.6H125V836H109.7ZM754.8 805.3H770.2V836H754.8ZM954.5 820.6H985.2V836H954.5ZM109.7 836H155.8V851.4H109.7ZM201.8 836H217.2V851.4H201.8ZM324.7 836H355.4V851.4H324.7ZM939.1 836H1000.6V851.4H939.1ZM1031.3 836H1077.4V851.4H1031.3ZM155.8 851.4H171.1V866.7H155.8ZM186.5 851.4H201.8V866.7H186.5ZM939.1 851.4H1092.7V866.7H939.1ZM186.5 866.7H217.2V882.1H186.5ZM278.6 851.4H294V882.1H278.6ZM939.1 866.7H954.5V882.1H939.1ZM969.8 866.7H1123.4V882.1H969.8ZM309.4 882.1H324.7V897.4H309.4ZM355.4 882.1H370.8V897.4H355.4ZM555.1 882.1H585.8V897.4H555.1ZM954.5 882.1H985.2V897.4H954.5ZM1000.6 882.1H1138.8V897.4H1000.6ZM1200.2 882.1H1215.6V897.4H1200.2ZM324.7 897.4H355.4V912.8H324.7ZM432.2 897.4H463V912.8H432.2ZM585.8 897.4H601.2V912.8H585.8ZM1046.6 897.4H1138.8V912.8H1046.6ZM401.5 912.8H416.9V928.2H401.5ZM432.2 912.8H447.6V928.2H432.2ZM1062 912.8H1154.2V928.2H1062ZM401.5 928.2H432.2V943.5H401.5ZM463 928.2H478.3V943.5H463ZM585.8 912.8H616.6V943.5H585.8ZM1031.3 928.2H1169.5V943.5H1031.3ZM493.7 943.5H509V958.9H493.7ZM1062 943.5H1184.9V958.9H1062ZM1215.6 943.5H1246.3V958.9H1215.6ZM1261.7 943.5H1277V958.9H1261.7ZM524.4 958.9H539.8V974.3H524.4ZM1077.4 958.9H1246.3V974.3H1077.4ZM524.4 974.3H555.1V989.6H524.4ZM585.8 943.5H601.2V989.6H585.8ZM1123.4 974.3H1292.4V989.6H1123.4ZM555.1 989.6H601.2V1005H555.1ZM1138.8 989.6H1261.7V1005H1138.8ZM1277 989.6H1323.1V1005H1277ZM570.5 1005H601.2V1020.3H570.5ZM1062 1005H1077.4V1020.3H1062ZM1123.4 1005H1138.8V1020.3H1123.4ZM1169.5 1005H1231V1020.3H1169.5ZM1261.7 1005H1353.8V1020.3H1261.7ZM555.1 1020.3H601.2V1035.7H555.1ZM1123.4 1020.3H1215.6V1035.7H1123.4ZM1261.7 1020.3H1307.8V1035.7H1261.7ZM1353.8 1020.3H1369.2V1035.7H1353.8ZM1399.9 1020.3H1415.3V1035.7H1399.9ZM1553.5 1020.3H1615V1035.7H1553.5ZM570.5 1035.7H601.2V1051.1H570.5ZM1031.3 1020.3H1077.4V1051.1H1031.3ZM1123.4 1035.7H1200.2V1051.1H1123.4ZM1369.2 1035.7H1399.9V1051.1H1369.2ZM1492.1 1035.7H1615V1051.1H1492.1ZM1630.3 1035.7H1638V1051.1H1630.3ZM585.8 1051.1H616.6V1066.4H585.8ZM1123.4 1051.1H1154.2V1066.4H1123.4ZM1169.5 1051.1H1184.9V1066.4H1169.5ZM1215.6 1035.7H1231V1066.4H1215.6ZM1292.4 1051.1H1323.1V1066.4H1292.4ZM1353.8 1051.1H1399.9V1066.4H1353.8ZM1415.3 1035.7H1430.6V1066.4H1415.3ZM1461.4 1051.1H1638V1066.4H1461.4ZM616.6 1066.4H631.9V1081.8H616.6ZM1154.2 1066.4H1169.5V1081.8H1154.2ZM1184.9 1066.4H1215.6V1081.8H1184.9ZM1338.5 1066.4H1430.6V1081.8H1338.5ZM1446 1066.4H1638V1081.8H1446ZM631.9 1081.8H647.3V1097.2H631.9ZM1323.1 1081.8H1384.6V1097.2H1323.1ZM1399.9 1081.8H1638V1097.2H1399.9ZM1200.2 1097.2H1231V1112.5H1200.2ZM1338.5 1097.2H1384.6V1112.5H1338.5ZM1399.9 1097.2H1415.3V1112.5H1399.9ZM1430.6 1097.2H1507.4V1112.5H1430.6ZM1538.2 1097.2H1553.5V1112.5H1538.2ZM1568.9 1097.2H1584.2V1112.5H1568.9ZM1599.6 1097.2H1615V1112.5H1599.6ZM1215.6 1112.5H1261.7V1127.9H1215.6ZM1338.5 1112.5H1399.9V1127.9H1338.5ZM1415.3 1112.5H1430.6V1127.9H1415.3ZM1446 1112.5H1492.1V1127.9H1446ZM1522.8 1112.5H1538.2V1127.9H1522.8ZM1246.3 1127.9H1261.7V1143.2H1246.3ZM1353.8 1127.9H1384.6V1143.2H1353.8ZM1446 1127.9H1522.8V1143.2H1446ZM1338.5 1143.2H1384.6V1158.6H1338.5ZM1399.9 1143.2H1522.8V1158.6H1399.9ZM1538.2 1143.2H1553.5V1158.6H1538.2ZM1169.5 1143.2H1184.9V1174H1169.5ZM1246.3 1143.2H1292.4V1174H1246.3ZM1353.8 1158.6H1538.2V1174H1353.8ZM1261.7 1174H1277V1189.3H1261.7ZM1292.4 1174H1307.8V1189.3H1292.4ZM1384.6 1174H1399.9V1189.3H1384.6ZM1430.6 1174H1522.8V1189.3H1430.6ZM1277 1189.3H1307.8V1204.7H1277ZM1399.9 1189.3H1522.8V1204.7H1399.9ZM1338.5 1204.7H1353.8V1220.1H1338.5ZM1384.6 1204.7H1446V1220.1H1384.6ZM1461.4 1204.7H1507.4V1220.1H1461.4ZM1369.2 1220.1H1446V1235.4H1369.2ZM1461.4 1220.1H1553.5V1235.4H1461.4ZM1184.9 1235.4H1200.2V1250.8H1184.9ZM1353.8 1235.4H1446V1250.8H1353.8ZM1461.4 1235.4H1492.1V1250.8H1461.4ZM1522.8 1235.4H1553.5V1250.8H1522.8ZM1446 1250.8H1568.9V1266.1H1446ZM1461.4 1266.1H1584.2V1281.5H1461.4ZM1476.7 1281.5H1599.6V1312.2H1476.7ZM816.2 1312.2H831.6V1327.6H816.2ZM1461.4 1312.2H1630.3V1327.6H1461.4ZM923.8 1327.6H954.5V1343H923.8ZM969.8 1327.6H985.2V1343H969.8ZM1184.9 1327.6H1200.2V1343H1184.9ZM1461.4 1327.6H1599.6V1343H1461.4ZM1615 1327.6H1630.3V1343H1615ZM831.6 1327.6H847V1358.3H831.6ZM1461.4 1343H1492.1V1358.3H1461.4ZM1507.4 1343H1615V1358.3H1507.4ZM923.8 1343H1000.6V1366H923.8ZM1215.6 1358.3H1231V1366H1215.6ZM1476.7 1358.3H1599.6V1366H1476.7Z"/>
<path fill="#f57547" d="M217.2 467.3H309.4V482.7H217.2ZM102 482.7H155.8V498H102ZM294 482.7H370.8V498H294ZM370.8 498H463V513.4H370.8ZM447.6 513.4H524.4V528.7H447.6ZM463 528.7H524.4V544.1H463ZM463 544.1H539.8V559.5H463ZM509 559.5H539.8V574.8H509ZM509 574.8H570.5V590.2H509ZM524.4 590.2H555.1V605.6H524.4ZM509 605.6H616.6V620.9H509ZM524.4 620.9H631.9V636.3H524.4ZM555.1 636.3H647.3V651.6H555.1ZM585.8 651.6H616.6V667H585.8ZM585.8 667H601.2V682.4H585.8ZM570.5 682.4H601.2V697.7H570.5ZM509 697.7H601.2V713.1H509ZM616.6 697.7H631.9V713.1H616.6ZM478.3 713.1H509V728.5H478.3ZM601.2 713.1H616.6V728.5H601.2ZM555.1 728.5H570.5V743.8H555.1ZM432.2 728.5H447.6V759.2H432.2ZM539.8 743.8H570.5V759.2H539.8ZM432.2 759.2H463V774.5H432.2ZM524.4 759.2H570.5V774.5H524.4ZM539.8 774.5H585.8V789.9H539.8ZM555.1 789.9H647.3V805.3H555.1ZM923.8 789.9H939.1V805.3H923.8ZM125 789.9H140.4V820.6H125ZM186.5 805.3H201.8V820.6H186.5ZM585.8 805.3H662.6V820.6H585.8ZM693.4 805.3H754.8V820.6H693.4ZM770.2 789.9H785.5V820.6H770.2ZM893 805.3H908.4V820.6H893ZM939.1 805.3H985.2V820.6H939.1ZM125 820.6H171.1V836H125ZM601.2 820.6H754.8V836H601.2ZM770.2 820.6H908.4V836H770.2ZM923.8 820.6H954.5V836H923.8ZM102 836H109.7V851.4H102ZM155.8 836H186.5V851.4H155.8ZM309.4 836H324.7V851.4H309.4ZM570.5 836H939.1V851.4H570.5ZM125 851.4H155.8V866.7H125ZM232.6 851.4H247.9V866.7H232.6ZM355.4 851.4H370.8V866.7H355.4ZM570.5 851.4H847V866.7H570.5ZM877.7 851.4H939.1V866.7H877.7ZM155.8 866.7H186.5V882.1H155.8ZM217.2 866.7H232.6V882.1H217.2ZM263.3 851.4H278.6V882.1H263.3ZM355.4 866.7H386.2V882.1H355.4ZM570.5 866.7H724.1V882.1H570.5ZM754.8 866.7H816.2V882.1H754.8ZM831.6 866.7H847V882.1H831.6ZM908.4 866.7H939.1V882.1H908.4ZM954.5 866.7H969.8V882.1H954.5ZM155.8 882.1H201.8V897.4H155.8ZM263.3 882.1H309.4V897.4H263.3ZM370.8 882.1H432.2V897.4H370.8ZM478.3 882.1H555.1V897.4H478.3ZM585.8 882.1H724.1V897.4H585.8ZM739.4 882.1H754.8V897.4H739.4ZM785.5 882.1H800.9V897.4H785.5ZM893 882.1H954.5V897.4H893ZM985.2 882.1H1000.6V897.4H985.2ZM125 897.4H217.2V912.8H125ZM247.9 897.4H324.7V912.8H247.9ZM463 897.4H478.3V912.8H463ZM601.2 897.4H708.7V912.8H601.2ZM877.7 897.4H908.4V912.8H877.7ZM939.1 897.4H1046.6V912.8H939.1ZM247.9 912.8H309.4V928.2H247.9ZM370.8 912.8H386.2V928.2H370.8ZM616.6 912.8H693.4V928.2H616.6ZM908.4 912.8H1062V928.2H908.4ZM102 912.8H201.8V943.5H102ZM232.6 928.2H309.4V943.5H232.6ZM386.2 928.2H401.5V943.5H386.2ZM432.2 928.2H463V943.5H432.2ZM616.6 928.2H647.3V943.5H616.6ZM662.6 928.2H693.4V943.5H662.6ZM939.1 928.2H1031.3V943.5H939.1ZM102 943.5H309.4V958.9H102ZM401.5 943.5H416.9V958.9H401.5ZM447.6 943.5H493.7V958.9H447.6ZM601.2 943.5H616.6V958.9H601.2ZM631.9 943.5H647.3V958.9H631.9ZM985.2 943.5H1062V958.9H985.2ZM102 958.9H278.6V974.3H102ZM478.3 958.9H524.4V974.3H478.3ZM647.3 958.9H678V974.3H647.3ZM1000.6 958.9H1077.4V974.3H1000.6ZM109.7 974.3H247.9V989.6H109.7ZM601.2 958.9H631.9V989.6H601.2ZM985.2 974.3H1123.4V989.6H985.2ZM524.4 989.6H555.1V1005H524.4ZM601.2 989.6H616.6V1005H601.2ZM985.2 989.6H1000.6V1005H985.2ZM1031.3 989.6H1138.8V1005H1031.3ZM102 989.6H232.6V1020.3H102ZM539.8 1005H570.5V1020.3H539.8ZM601.2 1005H631.9V1020.3H601.2ZM1031.3 1005H1062V1020.3H1031.3ZM1077.4 1005H1123.4V1020.3H1077.4ZM1138.8 1005H1169.5V1020.3H1138.8ZM102 1020.3H217.2V1035.7H102ZM601.2 1020.3H616.6V1035.7H601.2ZM939.1 1020.3H954.5V1035.7H939.1ZM109.7 1035.7H171.1V1051.1H109.7ZM186.5 1035.7H201.8V1051.1H186.5ZM601.2 1035.7H631.9V1051.1H601.2ZM1015.9 1020.3H1031.3V1051.1H1015.9ZM1077.4 1020.3H1092.7V1051.1H1077.4ZM1200.2 1035.7H1215.6V1051.1H1200.2ZM102 1051.1H171.1V1066.4H102ZM570.5 1051.1H585.8V1066.4H570.5ZM616.6 1051.1H647.3V1066.4H616.6ZM1000.6 1051.1H1031.3V1066.4H1000.6ZM1046.6 1051.1H1092.7V1066.4H1046.6ZM1108.1 1020.3H1123.4V1066.4H1108.1ZM1154.2 1051.1H1169.5V1066.4H1154.2ZM1184.9 1051.1H1215.6V1066.4H1184.9ZM125 1066.4H140.4V1081.8H125ZM601.2 1066.4H616.6V1081.8H601.2ZM631.9 1066.4H662.6V1081.8H631.9ZM1138.8 1066.4H1154.2V1081.8H1138.8ZM1169.5 1066.4H1184.9V1081.8H1169.5ZM109.7 1081.8H125V1097.2H109.7ZM647.3 1081.8H708.7V1097.2H647.3ZM908.4 1081.8H923.8V1097.2H908.4ZM1000.6 1081.8H1015.9V1097.2H1000.6ZM1123.4 1081.8H1200.2V1097.2H1123.4ZM102 1097.2H125V1112.5H102ZM678 1097.2H693.4V1112.5H678ZM923.8 1097.2H954.5V1112.5H923.8ZM1138.8 1097.2H1200.2V1112.5H1138.8ZM1384.6 1081.8H1399.9V1112.5H1384.6ZM1415.3 1097.2H1430.6V1112.5H1415.3ZM1507.4 1097.2H1538.2V1112.5H1507.4ZM1553.5 1097.2H1568.9V1112.5H1553.5ZM1584.2 1097.2H1599.6V1112.5H1584.2ZM1615 1097.2H1638V1112.5H1615ZM1138.8 1112.5H1215.6V1127.9H1138.8ZM1399.9 1112.5H1415.3V1127.9H1399.9ZM1430.6 1112.5H1446V1127.9H1430.6ZM1492.1 1112.5H1522.8V1127.9H1492.1ZM1538.2 1112.5H1638V1127.9H1538.2ZM1154.2 1127.9H1246.3V1143.2H1154.2ZM1384.6 1127.9H1446V1143.2H1384.6ZM1522.8 1127.9H1638V1143.2H1522.8ZM939.1 1143.2H954.5V1158.6H939.1ZM1154.2 1143.2H1169.5V1158.6H1154.2ZM1184.9 1143.2H1246.3V1158.6H1184.9ZM1384.6 1143.2H1399.9V1158.6H1384.6ZM1522.8 1143.2H1538.2V1158.6H1522.8ZM1553.5 1143.2H1638V1158.6H1553.5ZM1184.9 1158.6H1231V1174H1184.9ZM1292.4 1158.6H1307.8V1174H1292.4ZM1538.2 1158.6H1615V1174H1538.2ZM140.4 1174H155.8V1189.3H140.4ZM1169.5 1174H1215.6V1189.3H1169.5ZM1246.3 1174H1261.7V1189.3H1246.3ZM1277 1174H1292.4V1189.3H1277ZM1522.8 1174H1599.6V1189.3H1522.8ZM171.1 1189.3H186.5V1204.7H171.1ZM1184.9 1189.3H1200.2V1204.7H1184.9ZM1261.7 1189.3H1277V1204.7H1261.7ZM1522.8 1189.3H1568.9V1204.7H1522.8ZM1584.2 1189.3H1599.6V1204.7H1584.2ZM908.4 1204.7H923.8V1220.1H908.4ZM1169.5 1204.7H1231V1220.1H1169.5ZM1307.8 1204.7H1338.5V1220.1H1307.8ZM1507.4 1204.7H1568.9V1220.1H1507.4ZM893 1220.1H908.4V1235.4H893ZM1200.2 1220.1H1215.6V1235.4H1200.2ZM1338.5 1220.1H1353.8V1235.4H1338.5ZM1553.5 1220.1H1584.2V1235.4H1553.5ZM1553.5 1235.4H1599.6V1250.8H1553.5ZM1184.9 1250.8H1200.2V1266.1H1184.9ZM1338.5 1250.8H1446V1266.1H1338.5ZM1568.9 1250.8H1615V1266.1H1568.9ZM816.2 1266.1H831.6V1281.5H816.2ZM1369.2 1266.1H1461.4V1281.5H1369.2ZM1584.2 1266.1H1638V1281.5H1584.2ZM877.7 1281.5H908.4V1296.9H877.7ZM1399.9 1281.5H1430.6V1296.9H1399.9ZM800.9 1296.9H816.2V1312.2H800.9ZM831.6 1296.9H847V1312.2H831.6ZM862.3 1296.9H893V1312.2H862.3ZM923.8 1296.9H939.1V1312.2H923.8ZM1246.3 1296.9H1261.7V1312.2H1246.3ZM1446 1281.5H1476.7V1312.2H1446ZM1599.6 1281.5H1638V1312.2H1599.6ZM847 1312.2H969.8V1327.6H847ZM1184.9 1312.2H1246.3V1327.6H1184.9ZM1430.6 1312.2H1461.4V1327.6H1430.6ZM816.2 1327.6H831.6V1343H816.2ZM847 1327.6H923.8V1343H847ZM954.5 1327.6H969.8V1343H954.5ZM985.2 1327.6H1000.6V1343H985.2ZM1154.2 1327.6H1184.9V1343H1154.2ZM1200.2 1327.6H1231V1343H1200.2ZM1599.6 1327.6H1615V1343H1599.6ZM724.1 1343H754.8V1358.3H724.1ZM800.9 1343H831.6V1358.3H800.9ZM877.7 1343H923.8V1358.3H877.7ZM1000.6 1343H1046.6V1358.3H1000.6ZM1138.8 1343H1154.2V1358.3H1138.8ZM1169.5 1343H1246.3V1358.3H1169.5ZM1261.7 1343H1277V1358.3H1261.7ZM1415.3 1327.6H1461.4V1358.3H1415.3ZM1615 1343H1630.3V1358.3H1615ZM708.7 1358.3H754.8V1366H708.7ZM800.9 1358.3H923.8V1366H800.9ZM1000.6 1358.3H1031.3V1366H1000.6ZM1138.8 1358.3H1169.5V1366H1138.8ZM1184.9 1358.3H1215.6V1366H1184.9ZM1231 1358.3H1246.3V1366H1231ZM1277 1358.3H1307.8V1366H1277ZM1399.9 1358.3H1476.7V1366H1399.9ZM1599.6 1358.3H1630.3V1366H1599.6Z"/>
<path fill="#e85b48" d="M155.8 482.7H201.8V498H155.8ZM294 498H370.8V513.4H294ZM355.4 513.4H447.6V528.7H355.4ZM432.2 528.7H463V544.1H432.2ZM447.6 544.1H463V559.5H447.6ZM447.6 559.5H509V590.2H447.6ZM478.3 590.2H524.4V605.6H478.3ZM463 605.6H509V620.9H463ZM463 620.9H524.4V636.3H463ZM524.4 636.3H555.1V651.6H524.4ZM539.8 651.6H585.8V682.4H539.8ZM509 682.4H570.5V697.7H509ZM463 697.7H509V713.1H463ZM432.2 713.1H478.3V728.5H432.2ZM509 713.1H601.2V728.5H509ZM416.9 728.5H432.2V743.8H416.9ZM447.6 728.5H509V743.8H447.6ZM539.8 728.5H555.1V743.8H539.8ZM447.6 743.8H539.8V759.2H447.6ZM401.5 743.8H432.2V774.5H401.5ZM463 759.2H524.4V774.5H463ZM416.9 774.5H539.8V789.9H416.9ZM432.2 789.9H555.1V805.3H432.2ZM416.9 805.3H447.6V820.6H416.9ZM463 805.3H478.3V820.6H463ZM509 805.3H585.8V820.6H509ZM102 820.6H109.7V836H102ZM370.8 820.6H401.5V836H370.8ZM432.2 820.6H447.6V836H432.2ZM524.4 820.6H601.2V836H524.4ZM908.4 820.6H923.8V836H908.4ZM217.2 836H232.6V851.4H217.2ZM355.4 836H432.2V851.4H355.4ZM539.8 836H570.5V851.4H539.8ZM102 851.4H125V866.7H102ZM201.8 851.4H232.6V866.7H201.8ZM247.9 851.4H263.3V866.7H247.9ZM370.8 851.4H447.6V866.7H370.8ZM847 851.4H877.7V866.7H847ZM232.6 866.7H263.3V882.1H232.6ZM386.2 866.7H447.6V882.1H386.2ZM555.1 851.4H570.5V882.1H555.1ZM724.1 866.7H754.8V882.1H724.1ZM816.2 866.7H831.6V882.1H816.2ZM847 866.7H908.4V882.1H847ZM102 866.7H155.8V897.4H102ZM201.8 882.1H263.3V897.4H201.8ZM432.2 882.1H463V897.4H432.2ZM724.1 882.1H739.4V897.4H724.1ZM754.8 882.1H785.5V897.4H754.8ZM800.9 882.1H893V897.4H800.9ZM102 897.4H125V912.8H102ZM217.2 897.4H247.9V912.8H217.2ZM708.7 897.4H877.7V912.8H708.7ZM908.4 897.4H939.1V912.8H908.4ZM201.8 912.8H247.9V928.2H201.8ZM309.4 912.8H370.8V928.2H309.4ZM693.4 912.8H908.4V928.2H693.4ZM201.8 928.2H232.6V943.5H201.8ZM309.4 928.2H386.2V943.5H309.4ZM647.3 928.2H662.6V943.5H647.3ZM693.4 928.2H831.6V943.5H693.4ZM847 928.2H862.3V943.5H847ZM877.7 928.2H939.1V943.5H877.7ZM309.4 943.5H401.5V958.9H309.4ZM416.9 943.5H447.6V958.9H416.9ZM616.6 943.5H631.9V958.9H616.6ZM647.3 943.5H770.2V958.9H647.3ZM893 943.5H985.2V958.9H893ZM278.6 958.9H478.3V974.3H278.6ZM631.9 958.9H647.3V974.3H631.9ZM678 958.9H770.2V974.3H678ZM908.4 958.9H923.8V974.3H908.4ZM939.1 958.9H1000.6V974.3H939.1ZM102 974.3H109.7V989.6H102ZM247.9 974.3H524.4V989.6H247.9ZM631.9 974.3H770.2V989.6H631.9ZM908.4 974.3H985.2V989.6H908.4ZM232.6 989.6H524.4V1005H232.6ZM616.6 989.6H724.1V1005H616.6ZM908.4 989.6H954.5V1005H908.4ZM969.8 989.6H985.2V1005H969.8ZM1000.6 989.6H1031.3V1005H1000.6ZM232.6 1005H294V1020.3H232.6ZM309.4 1005H386.2V1020.3H309.4ZM401.5 1005H539.8V1020.3H401.5ZM631.9 1005H724.1V1020.3H631.9ZM908.4 1005H1031.3V1020.3H908.4ZM217.2 1020.3H247.9V1035.7H217.2ZM355.4 1020.3H416.9V1035.7H355.4ZM463 1020.3H478.3V1035.7H463ZM539.8 1020.3H555.1V1035.7H539.8ZM616.6 1020.3H724.1V1035.7H616.6ZM923.8 1020.3H939.1V1035.7H923.8ZM954.5 1020.3H969.8V1035.7H954.5ZM1000.6 1020.3H1015.9V1035.7H1000.6ZM102 1035.7H109.7V1051.1H102ZM171.1 1035.7H186.5V1051.1H171.1ZM201.8 1035.7H263.3V1051.1H201.8ZM555.1 1035.7H570.5V1051.1H555.1ZM631.9 1035.7H693.4V1051.1H631.9ZM171.1 1051.1H217.2V1066.4H171.1ZM232.6 1051.1H263.3V1066.4H232.6ZM647.3 1051.1H693.4V1066.4H647.3ZM939.1 1035.7H954.5V1066.4H939.1ZM1031.3 1051.1H1046.6V1066.4H1031.3ZM1092.7 1020.3H1108.1V1066.4H1092.7ZM102 1066.4H125V1081.8H102ZM140.4 1066.4H263.3V1081.8H140.4ZM662.6 1066.4H708.7V1081.8H662.6ZM724.1 1066.4H739.4V1081.8H724.1ZM923.8 1066.4H969.8V1081.8H923.8ZM1000.6 1066.4H1138.8V1081.8H1000.6ZM102 1081.8H109.7V1097.2H102ZM125 1081.8H217.2V1097.2H125ZM247.9 1081.8H263.3V1097.2H247.9ZM708.7 1081.8H724.1V1097.2H708.7ZM754.8 1081.8H770.2V1097.2H754.8ZM923.8 1081.8H954.5V1097.2H923.8ZM1015.9 1081.8H1062V1097.2H1015.9ZM1092.7 1081.8H1123.4V1097.2H1092.7ZM125 1097.2H278.6V1112.5H125ZM662.6 1097.2H678V1112.5H662.6ZM693.4 1097.2H708.7V1112.5H693.4ZM954.5 1097.2H969.8V1112.5H954.5ZM102 1112.5H247.9V1127.9H102ZM770.2 1112.5H800.9V1127.9H770.2ZM816.2 1112.5H831.6V1127.9H816.2ZM1108.1 1097.2H1138.8V1127.9H1108.1ZM102 1127.9H278.6V1143.2H102ZM693.4 1127.9H724.1V1143.2H693.4ZM770.2 1127.9H831.6V1143.2H770.2ZM939.1 1112.5H954.5V1143.2H939.1ZM102 1143.2H294V1158.6H102ZM708.7 1143.2H724.1V1158.6H708.7ZM785.5 1143.2H831.6V1158.6H785.5ZM1138.8 1127.9H1154.2V1158.6H1138.8ZM102 1158.6H309.4V1174H102ZM724.1 1158.6H739.4V1174H724.1ZM800.9 1158.6H816.2V1174H800.9ZM1231 1158.6H1246.3V1174H1231ZM1615 1158.6H1638V1174H1615ZM102 1174H140.4V1189.3H102ZM155.8 1174H294V1189.3H155.8ZM939.1 1174H954.5V1189.3H939.1ZM1138.8 1158.6H1169.5V1189.3H1138.8ZM1215.6 1174H1246.3V1189.3H1215.6ZM102 1189.3H171.1V1204.7H102ZM186.5 1189.3H324.7V1204.7H186.5ZM340.1 1174H355.4V1204.7H340.1ZM724.1 1174H754.8V1204.7H724.1ZM1138.8 1189.3H1154.2V1204.7H1138.8ZM1169.5 1189.3H1184.9V1204.7H1169.5ZM1200.2 1189.3H1261.7V1204.7H1200.2ZM1568.9 1189.3H1584.2V1204.7H1568.9ZM1599.6 1174H1638V1204.7H1599.6ZM102 1204.7H294V1220.1H102ZM309.4 1204.7H340.1V1220.1H309.4ZM800.9 1174H831.6V1220.1H800.9ZM862.3 1204.7H877.7V1220.1H862.3ZM1231 1204.7H1246.3V1220.1H1231ZM1277 1204.7H1307.8V1220.1H1277ZM1568.9 1204.7H1638V1220.1H1568.9ZM102 1220.1H355.4V1235.4H102ZM800.9 1220.1H847V1235.4H800.9ZM1077.4 1204.7H1092.7V1235.4H1077.4ZM1123.4 1220.1H1154.2V1235.4H1123.4ZM1169.5 1220.1H1200.2V1235.4H1169.5ZM1215.6 1220.1H1246.3V1235.4H1215.6ZM1584.2 1220.1H1638V1235.4H1584.2ZM102 1235.4H370.8V1250.8H102ZM386.2 1235.4H416.9V1250.8H386.2ZM785.5 1235.4H816.2V1250.8H785.5ZM1200.2 1235.4H1261.7V1250.8H1200.2ZM1338.5 1235.4H1353.8V1250.8H1338.5ZM1599.6 1235.4H1638V1250.8H1599.6ZM102 1250.8H324.7V1266.1H102ZM370.8 1250.8H401.5V1266.1H370.8ZM616.6 1250.8H631.9V1266.1H616.6ZM754.8 1250.8H831.6V1266.1H754.8ZM847 1250.8H862.3V1266.1H847ZM1015.9 1250.8H1062V1266.1H1015.9ZM1092.7 1235.4H1154.2V1266.1H1092.7ZM1169.5 1250.8H1184.9V1266.1H1169.5ZM1200.2 1250.8H1246.3V1266.1H1200.2ZM1307.8 1250.8H1338.5V1266.1H1307.8ZM1615 1250.8H1638V1266.1H1615ZM102 1266.1H278.6V1281.5H102ZM324.7 1266.1H355.4V1281.5H324.7ZM370.8 1266.1H463V1281.5H370.8ZM739.4 1266.1H816.2V1281.5H739.4ZM877.7 1266.1H893V1281.5H877.7ZM923.8 1266.1H954.5V1281.5H923.8ZM1000.6 1266.1H1046.6V1281.5H1000.6ZM1200.2 1266.1H1261.7V1281.5H1200.2ZM1292.4 1266.1H1323.1V1281.5H1292.4ZM109.7 1281.5H278.6V1296.9H109.7ZM340.1 1281.5H478.3V1296.9H340.1ZM724.1 1281.5H800.9V1296.9H724.1ZM831.6 1281.5H877.7V1296.9H831.6ZM908.4 1281.5H969.8V1296.9H908.4ZM1123.4 1266.1H1184.9V1296.9H1123.4ZM1231 1281.5H1246.3V1296.9H1231ZM1261.7 1281.5H1307.8V1296.9H1261.7ZM1338.5 1281.5H1399.9V1296.9H1338.5ZM1430.6 1281.5H1446V1296.9H1430.6ZM102 1296.9H171.1V1312.2H102ZM186.5 1296.9H294V1312.2H186.5ZM340.1 1296.9H524.4V1312.2H340.1ZM555.1 1281.5H570.5V1312.2H555.1ZM585.8 1266.1H631.9V1312.2H585.8ZM724.1 1296.9H785.5V1312.2H724.1ZM816.2 1296.9H831.6V1312.2H816.2ZM847 1296.9H862.3V1312.2H847ZM893 1296.9H923.8V1312.2H893ZM939.1 1296.9H969.8V1312.2H939.1ZM1015.9 1281.5H1031.3V1312.2H1015.9ZM1046.6 1296.9H1092.7V1312.2H1046.6ZM1138.8 1296.9H1246.3V1312.2H1138.8ZM1261.7 1296.9H1446V1312.2H1261.7ZM125 1312.2H140.4V1327.6H125ZM217.2 1312.2H539.8V1327.6H217.2ZM601.2 1312.2H616.6V1327.6H601.2ZM678 1312.2H816.2V1327.6H678ZM831.6 1312.2H847V1327.6H831.6ZM969.8 1312.2H1184.9V1327.6H969.8ZM1246.3 1312.2H1261.7V1327.6H1246.3ZM1277 1312.2H1369.2V1327.6H1277ZM1384.6 1312.2H1430.6V1327.6H1384.6ZM102 1327.6H109.7V1343H102ZM247.9 1327.6H263.3V1343H247.9ZM278.6 1327.6H539.8V1343H278.6ZM693.4 1327.6H816.2V1343H693.4ZM1000.6 1327.6H1138.8V1343H1000.6ZM1231 1327.6H1338.5V1343H1231ZM1399.9 1327.6H1415.3V1343H1399.9ZM102 1343H140.4V1358.3H102ZM278.6 1343H524.4V1358.3H278.6ZM678 1343H724.1V1358.3H678ZM785.5 1343H800.9V1358.3H785.5ZM847 1343H877.7V1358.3H847ZM1046.6 1343H1138.8V1358.3H1046.6ZM1154.2 1343H1169.5V1358.3H1154.2ZM1246.3 1343H1261.7V1358.3H1246.3ZM1277 1343H1338.5V1358.3H1277ZM1384.6 1343H1415.3V1358.3H1384.6ZM102 1358.3H232.6V1366H102ZM278.6 1358.3H509V1366H278.6ZM662.6 1358.3H708.7V1366H662.6ZM1031.3 1358.3H1138.8V1366H1031.3ZM1169.5 1358.3H1184.9V1366H1169.5ZM1246.3 1358.3H1277V1366H1246.3ZM1307.8 1358.3H1338.5V1366H1307.8ZM1369.2 1358.3H1399.9V1366H1369.2ZM1630.3 1312.2H1638V1366H1630.3Z"/>
<path fill="#d7414e" d="M201.8 482.7H294V498H201.8ZM102 498H109.7V513.4H102ZM125 498H140.4V513.4H125ZM247.9 498H294V513.4H247.9ZM309.4 513.4H355.4V528.7H309.4ZM355.4 528.7H432.2V544.1H355.4ZM416.9 544.1H447.6V590.2H416.9ZM416.9 590.2H478.3V605.6H416.9ZM416.9 605.6H463V620.9H416.9ZM432.2 620.9H463V636.3H432.2ZM416.9 636.3H524.4V651.6H416.9ZM401.5 651.6H447.6V667H401.5ZM401.5 667H432.2V682.4H401.5ZM463 651.6H539.8V682.4H463ZM478.3 682.4H509V697.7H478.3ZM447.6 697.7H463V713.1H447.6ZM401.5 713.1H432.2V728.5H401.5ZM401.5 728.5H416.9V743.8H401.5ZM509 728.5H539.8V743.8H509ZM386.2 759.2H401.5V774.5H386.2ZM370.8 774.5H416.9V789.9H370.8ZM102 789.9H109.7V805.3H102ZM370.8 789.9H432.2V805.3H370.8ZM102 805.3H125V820.6H102ZM140.4 805.3H171.1V820.6H140.4ZM355.4 805.3H416.9V820.6H355.4ZM447.6 805.3H463V820.6H447.6ZM478.3 805.3H509V820.6H478.3ZM355.4 820.6H370.8V836H355.4ZM401.5 820.6H432.2V836H401.5ZM447.6 820.6H524.4V836H447.6ZM278.6 836H309.4V851.4H278.6ZM432.2 836H463V851.4H432.2ZM493.7 836H539.8V851.4H493.7ZM524.4 851.4H555.1V866.7H524.4ZM447.6 851.4H463V882.1H447.6ZM539.8 866.7H555.1V882.1H539.8ZM463 882.1H478.3V897.4H463ZM831.6 928.2H847V943.5H831.6ZM862.3 928.2H877.7V943.5H862.3ZM770.2 943.5H893V958.9H770.2ZM923.8 958.9H939.1V974.3H923.8ZM770.2 958.9H908.4V989.6H770.2ZM724.1 989.6H800.9V1005H724.1ZM862.3 989.6H908.4V1005H862.3ZM954.5 989.6H969.8V1005H954.5ZM294 1005H309.4V1020.3H294ZM386.2 1005H401.5V1020.3H386.2ZM877.7 1005H908.4V1020.3H877.7ZM247.9 1020.3H355.4V1035.7H247.9ZM416.9 1020.3H463V1035.7H416.9ZM478.3 1020.3H539.8V1035.7H478.3ZM724.1 1005H785.5V1035.7H724.1ZM969.8 1020.3H1000.6V1035.7H969.8ZM263.3 1035.7H555.1V1051.1H263.3ZM693.4 1035.7H754.8V1051.1H693.4ZM770.2 1035.7H785.5V1051.1H770.2ZM954.5 1035.7H1015.9V1051.1H954.5ZM217.2 1051.1H232.6V1066.4H217.2ZM463 1051.1H478.3V1066.4H463ZM539.8 1051.1H570.5V1066.4H539.8ZM693.4 1051.1H739.4V1066.4H693.4ZM923.8 1035.7H939.1V1066.4H923.8ZM954.5 1051.1H969.8V1066.4H954.5ZM985.2 1051.1H1000.6V1066.4H985.2ZM585.8 1066.4H601.2V1081.8H585.8ZM708.7 1066.4H724.1V1081.8H708.7ZM739.4 1066.4H770.2V1081.8H739.4ZM969.8 1066.4H1000.6V1081.8H969.8ZM217.2 1081.8H247.9V1097.2H217.2ZM263.3 1051.1H432.2V1097.2H263.3ZM724.1 1081.8H754.8V1097.2H724.1ZM770.2 1081.8H800.9V1097.2H770.2ZM893 1081.8H908.4V1097.2H893ZM954.5 1081.8H985.2V1097.2H954.5ZM1062 1081.8H1092.7V1097.2H1062ZM278.6 1097.2H386.2V1112.5H278.6ZM401.5 1097.2H432.2V1112.5H401.5ZM601.2 1081.8H631.9V1112.5H601.2ZM647.3 1097.2H662.6V1112.5H647.3ZM708.7 1097.2H831.6V1112.5H708.7ZM862.3 1097.2H923.8V1112.5H862.3ZM985.2 1097.2H1108.1V1112.5H985.2ZM247.9 1112.5H370.8V1127.9H247.9ZM662.6 1112.5H770.2V1127.9H662.6ZM800.9 1112.5H816.2V1127.9H800.9ZM831.6 1112.5H939.1V1127.9H831.6ZM954.5 1112.5H985.2V1127.9H954.5ZM1000.6 1112.5H1108.1V1127.9H1000.6ZM278.6 1127.9H386.2V1143.2H278.6ZM401.5 1127.9H432.2V1143.2H401.5ZM678 1127.9H693.4V1143.2H678ZM724.1 1127.9H770.2V1143.2H724.1ZM831.6 1127.9H923.8V1143.2H831.6ZM1062 1127.9H1092.7V1143.2H1062ZM1108.1 1127.9H1138.8V1143.2H1108.1ZM294 1143.2H386.2V1158.6H294ZM416.9 1143.2H432.2V1158.6H416.9ZM693.4 1143.2H708.7V1158.6H693.4ZM724.1 1143.2H785.5V1158.6H724.1ZM847 1143.2H923.8V1158.6H847ZM309.4 1158.6H447.6V1174H309.4ZM678 1158.6H724.1V1174H678ZM739.4 1158.6H800.9V1174H739.4ZM816.2 1158.6H831.6V1174H816.2ZM847 1158.6H893V1174H847ZM954.5 1158.6H969.8V1174H954.5ZM294 1174H340.1V1189.3H294ZM616.6 1174H662.6V1189.3H616.6ZM693.4 1174H724.1V1189.3H693.4ZM908.4 1174H939.1V1189.3H908.4ZM1123.4 1174H1138.8V1189.3H1123.4ZM324.7 1189.3H340.1V1204.7H324.7ZM355.4 1174H509V1204.7H355.4ZM616.6 1189.3H724.1V1204.7H616.6ZM754.8 1174H800.9V1204.7H754.8ZM831.6 1189.3H923.8V1204.7H831.6ZM1077.4 1189.3H1138.8V1204.7H1077.4ZM294 1204.7H309.4V1220.1H294ZM340.1 1204.7H509V1220.1H340.1ZM570.5 1204.7H585.8V1220.1H570.5ZM601.2 1204.7H800.9V1220.1H601.2ZM831.6 1204.7H862.3V1220.1H831.6ZM877.7 1204.7H908.4V1220.1H877.7ZM923.8 1204.7H939.1V1220.1H923.8ZM1092.7 1204.7H1108.1V1220.1H1092.7ZM1123.4 1204.7H1169.5V1220.1H1123.4ZM1246.3 1204.7H1261.7V1220.1H1246.3ZM355.4 1220.1H509V1235.4H355.4ZM539.8 1220.1H800.9V1235.4H539.8ZM877.7 1220.1H893V1235.4H877.7ZM908.4 1220.1H923.8V1235.4H908.4ZM1046.6 1204.7H1077.4V1235.4H1046.6ZM1092.7 1220.1H1123.4V1235.4H1092.7ZM1261.7 1220.1H1277V1235.4H1261.7ZM1292.4 1220.1H1338.5V1235.4H1292.4ZM370.8 1235.4H386.2V1250.8H370.8ZM416.9 1235.4H509V1250.8H416.9ZM539.8 1235.4H785.5V1250.8H539.8ZM831.6 1235.4H847V1250.8H831.6ZM862.3 1235.4H877.7V1250.8H862.3ZM954.5 1235.4H1092.7V1250.8H954.5ZM1261.7 1235.4H1292.4V1250.8H1261.7ZM1323.1 1235.4H1338.5V1250.8H1323.1ZM324.7 1250.8H370.8V1266.1H324.7ZM401.5 1250.8H616.6V1266.1H401.5ZM631.9 1250.8H754.8V1266.1H631.9ZM862.3 1250.8H1015.9V1266.1H862.3ZM1062 1250.8H1092.7V1266.1H1062ZM1154.2 1235.4H1169.5V1266.1H1154.2ZM1246.3 1250.8H1307.8V1266.1H1246.3ZM278.6 1266.1H324.7V1281.5H278.6ZM355.4 1266.1H370.8V1281.5H355.4ZM463 1266.1H585.8V1281.5H463ZM631.9 1266.1H739.4V1281.5H631.9ZM862.3 1266.1H877.7V1281.5H862.3ZM893 1266.1H923.8V1281.5H893ZM954.5 1266.1H1000.6V1281.5H954.5ZM1046.6 1266.1H1123.4V1281.5H1046.6ZM1184.9 1266.1H1200.2V1281.5H1184.9ZM1261.7 1266.1H1292.4V1281.5H1261.7ZM1323.1 1266.1H1369.2V1281.5H1323.1ZM102 1281.5H109.7V1296.9H102ZM278.6 1281.5H340.1V1296.9H278.6ZM478.3 1281.5H555.1V1296.9H478.3ZM800.9 1281.5H831.6V1296.9H800.9ZM1031.3 1281.5H1123.4V1296.9H1031.3ZM1184.9 1281.5H1231V1296.9H1184.9ZM1246.3 1281.5H1261.7V1296.9H1246.3ZM1307.8 1281.5H1338.5V1296.9H1307.8ZM171.1 1296.9H186.5V1312.2H171.1ZM294 1296.9H340.1V1312.2H294ZM524.4 1296.9H555.1V1312.2H524.4ZM570.5 1281.5H585.8V1312.2H570.5ZM631.9 1281.5H724.1V1312.2H631.9ZM785.5 1296.9H800.9V1312.2H785.5ZM969.8 1281.5H1015.9V1312.2H969.8ZM1031.3 1296.9H1046.6V1312.2H1031.3ZM1092.7 1296.9H1138.8V1312.2H1092.7ZM102 1312.2H125V1327.6H102ZM140.4 1312.2H217.2V1327.6H140.4ZM539.8 1312.2H601.2V1327.6H539.8ZM616.6 1312.2H678V1327.6H616.6ZM1261.7 1312.2H1277V1327.6H1261.7ZM1369.2 1312.2H1384.6V1327.6H1369.2ZM109.7 1327.6H186.5V1343H109.7ZM201.8 1327.6H247.9V1343H201.8ZM263.3 1327.6H278.6V1343H263.3ZM539.8 1327.6H693.4V1343H539.8ZM1138.8 1327.6H1154.2V1343H1138.8ZM1338.5 1327.6H1399.9V1343H1338.5ZM140.4 1343H278.6V1358.3H140.4ZM524.4 1343H678V1358.3H524.4ZM1338.5 1343H1384.6V1358.3H1338.5ZM232.6 1358.3H278.6V1366H232.6ZM509 1358.3H662.6V1366H509ZM785.5 1358.3H800.9V1366H785.5ZM1338.5 1358.3H1369.2V1366H1338.5Z"/>
<path fill="#bc2249" d="M109.7 498H125V513.4H109.7ZM140.4 498H186.5V513.4H140.4ZM217.2 498H247.9V513.4H217.2ZM247.9 513.4H309.4V528.7H247.9ZM294 528.7H355.4V544.1H294ZM340.1 544.1H416.9V559.5H340.1ZM355.4 559.5H370.8V574.8H355.4ZM401.5 559.5H416.9V574.8H401.5ZM386.2 574.8H416.9V620.9H386.2ZM386.2 620.9H432.2V636.3H386.2ZM386.2 636.3H416.9V651.6H386.2ZM386.2 651.6H401.5V667H386.2ZM447.6 651.6H463V667H447.6ZM370.8 667H401.5V682.4H370.8ZM432.2 667H463V682.4H432.2ZM370.8 682.4H478.3V697.7H370.8ZM370.8 697.7H447.6V713.1H370.8ZM370.8 713.1H401.5V759.2H370.8ZM102 759.2H109.7V774.5H102ZM324.7 759.2H386.2V774.5H324.7ZM102 774.5H140.4V789.9H102ZM155.8 774.5H171.1V789.9H155.8ZM324.7 774.5H340.1V789.9H324.7ZM355.4 774.5H370.8V789.9H355.4ZM109.7 789.9H125V805.3H109.7ZM140.4 789.9H155.8V805.3H140.4ZM324.7 789.9H370.8V805.3H324.7ZM171.1 820.6H186.5V836H171.1ZM201.8 820.6H217.2V836H201.8ZM324.7 805.3H355.4V836H324.7ZM232.6 836H247.9V851.4H232.6ZM263.3 836H278.6V851.4H263.3ZM463 836H493.7V851.4H463ZM478.3 851.4H524.4V866.7H478.3ZM463 866.7H539.8V882.1H463ZM800.9 989.6H862.3V1005H800.9ZM785.5 1005H877.7V1020.3H785.5ZM785.5 1020.3H816.2V1035.7H785.5ZM754.8 1035.7H770.2V1051.1H754.8ZM785.5 1035.7H800.9V1051.1H785.5ZM908.4 1035.7H923.8V1051.1H908.4ZM432.2 1051.1H463V1066.4H432.2ZM478.3 1051.1H539.8V1066.4H478.3ZM739.4 1051.1H800.9V1066.4H739.4ZM969.8 1051.1H985.2V1066.4H969.8ZM432.2 1066.4H585.8V1081.8H432.2ZM770.2 1066.4H816.2V1081.8H770.2ZM908.4 1066.4H923.8V1081.8H908.4ZM800.9 1081.8H893V1097.2H800.9ZM386.2 1097.2H401.5V1112.5H386.2ZM432.2 1081.8H601.2V1112.5H432.2ZM631.9 1097.2H647.3V1112.5H631.9ZM831.6 1097.2H862.3V1112.5H831.6ZM370.8 1112.5H662.6V1127.9H370.8ZM985.2 1112.5H1000.6V1127.9H985.2ZM386.2 1127.9H401.5V1143.2H386.2ZM432.2 1127.9H678V1143.2H432.2ZM923.8 1127.9H939.1V1143.2H923.8ZM954.5 1127.9H969.8V1143.2H954.5ZM1015.9 1127.9H1062V1143.2H1015.9ZM1092.7 1127.9H1108.1V1143.2H1092.7ZM386.2 1143.2H416.9V1158.6H386.2ZM432.2 1143.2H693.4V1158.6H432.2ZM1031.3 1143.2H1138.8V1158.6H1031.3ZM447.6 1158.6H678V1174H447.6ZM831.6 1143.2H847V1174H831.6ZM893 1158.6H939.1V1174H893ZM1062 1158.6H1092.7V1174H1062ZM1123.4 1158.6H1138.8V1174H1123.4ZM662.6 1174H693.4V1189.3H662.6ZM831.6 1174H908.4V1189.3H831.6ZM954.5 1174H969.8V1189.3H954.5ZM1108.1 1174H1123.4V1189.3H1108.1ZM509 1174H616.6V1204.7H509ZM939.1 1189.3H969.8V1204.7H939.1ZM1031.3 1174H1077.4V1204.7H1031.3ZM1154.2 1189.3H1169.5V1204.7H1154.2ZM509 1204.7H570.5V1220.1H509ZM585.8 1204.7H601.2V1220.1H585.8ZM939.1 1204.7H985.2V1220.1H939.1ZM1031.3 1204.7H1046.6V1220.1H1031.3ZM1108.1 1204.7H1123.4V1220.1H1108.1ZM1261.7 1204.7H1277V1220.1H1261.7ZM847 1220.1H877.7V1235.4H847ZM939.1 1220.1H1046.6V1235.4H939.1ZM1154.2 1220.1H1169.5V1235.4H1154.2ZM1246.3 1220.1H1261.7V1235.4H1246.3ZM1277 1220.1H1292.4V1235.4H1277ZM509 1220.1H539.8V1250.8H509ZM816.2 1235.4H831.6V1250.8H816.2ZM847 1235.4H862.3V1250.8H847ZM877.7 1235.4H954.5V1250.8H877.7ZM1169.5 1235.4H1184.9V1250.8H1169.5ZM1292.4 1235.4H1323.1V1250.8H1292.4ZM831.6 1250.8H847V1266.1H831.6ZM831.6 1266.1H862.3V1281.5H831.6ZM186.5 1327.6H201.8V1343H186.5ZM754.8 1343H785.5V1358.3H754.8Z"/>
<path fill="#9e0142" d="M186.5 498H217.2V513.4H186.5ZM102 513.4H247.9V528.7H102ZM102 528.7H294V544.1H102ZM102 544.1H340.1V559.5H102ZM102 559.5H355.4V574.8H102ZM370.8 559.5H401.5V574.8H370.8ZM102 574.8H386.2V667H102ZM102 667H370.8V759.2H102ZM109.7 759.2H324.7V774.5H109.7ZM140.4 774.5H155.8V789.9H140.4ZM171.1 774.5H324.7V789.9H171.1ZM340.1 774.5H355.4V789.9H340.1ZM155.8 789.9H324.7V805.3H155.8ZM171.1 805.3H186.5V820.6H171.1ZM201.8 805.3H324.7V820.6H201.8ZM217.2 820.6H324.7V836H217.2ZM247.9 836H263.3V851.4H247.9ZM463 851.4H478.3V866.7H463ZM816.2 1020.3H923.8V1035.7H816.2ZM800.9 1035.7H908.4V1051.1H800.9ZM800.9 1051.1H923.8V1066.4H800.9ZM816.2 1066.4H908.4V1081.8H816.2ZM985.2 1081.8H1000.6V1097.2H985.2ZM969.8 1097.2H985.2V1112.5H969.8ZM969.8 1127.9H1015.9V1143.2H969.8ZM923.8 1143.2H939.1V1158.6H923.8ZM954.5 1143.2H1031.3V1158.6H954.5ZM939.1 1158.6H954.5V1174H939.1ZM969.8 1158.6H1062V1174H969.8ZM1092.7 1158.6H1123.4V1174H1092.7ZM1077.4 1174H1108.1V1189.3H1077.4ZM923.8 1189.3H939.1V1204.7H923.8ZM969.8 1174H1031.3V1204.7H969.8ZM985.2 1204.7H1031.3V1220.1H985.2ZM923.8 1220.1H939.1V1235.4H923.8ZM754.8 1358.3H785.5V1366H754.8Z"/></g>
<g clip-path="url(#ax)">
<path d="M744.8 137L747.1 147.1L748.7 152.4L752.1 167.7L762.4 183.1L762.5 183.1L763.2 183.1L777.8 181.9L793.2 177.2L808.6 173L823.9 170.2L839.3 168.9L854.6 168.8L870 169.5L885.4 171.1L900.7 173.6L916.1 176.6L931.4 180.2L941.1 183.1L946.8 184.2L962.2 188L977.5 192.8L992.9 198.1L993.8 198.4L1008.2 201.9L1023.6 206.1L1039 210.9L1047.7 213.8L1054.3 215.3L1069.7 218.9L1085 222.5L1100.4 225.1L1115.8 227.2L1127.4 229.2L1131.1 229.5L1146.5 231.5L1161.8 233.7L1177.2 236.5L1192.6 240.5L1203.6 244.5L1207.9 245.6L1223.3 250.1L1238.6 255.5L1249.5 259.9L1254 261.3L1269.4 265.7L1284.7 270.3L1285.4 270.5M1324.9 286.4L1330.8 289.3L1333.6 290.6L1346.2 295.5L1361.5 301.3L1373.7 306L1376.9 306.9L1392.2 310.5L1407.6 313.4L1423 315L1438.3 315.9L1453.7 317.5L1469 320.2L1474.7 321.4L1484.4 322.7L1499.8 324.2L1515.1 324.8L1530.5 324.5L1545.8 323.9L1561.2 323.5L1576.6 323.4L1591.9 323.3L1607.3 323.3L1622.6 323.3L1638 323.3M102 341.8L117.4 342.7L132.7 343.6L148.1 343.3L163.4 340.7L178.8 337.3L181.2 336.7L194.2 331.9L209.5 327.2L224.9 323.1L231.7 321.4L240.2 318.1L255.6 313.2L271 309.7L286.3 307.4L299 306L301.7 305.5L317 302.9L332.4 300.4L347.8 298.1L363.1 295.8L371.8 294.5M413.9 287.8L424.6 285.2L439.9 281.1L455.3 277.3L464.1 275.3L470.6 273L486 268L501.4 263.2L512 259.9L516.7 257.8L532.1 250.1L542.6 244.5L547.4 241.2L562.8 230L563.7 229.2L578.2 213.8L589.2 198.4L593.5 193.2L601.4 183.1L608.9 174L614.1 167.7L624.2 154.8L626.2 152.4L634.3 137M721 137L731.8 149.2L733.4 152.4L732.8 167.7L731.8 172.2L728.9 183.1L716.4 194L713.1 198.4L711.3 213.8L716.4 220L731.8 215.9L747.1 215.9L751.3 213.8L762.5 202.8L777.8 199.9L793.2 199.8L796.3 198.4L808.6 190.2L823.9 186.5L839.3 186.1L854.6 186.3L870 187.3L885.4 189.2L900.7 191.9L916.1 195L928.9 198.4L931.4 199L946.8 201.1L962.2 206.1L974.7 213.8L977.5 215L992.9 215.8L1008.2 219.8L1020.1 229.2L1023.6 230.8L1039 229.8L1054.3 232.2L1066.4 235.3M1105.9 245.5L1115.8 245.3L1131.1 245.3L1146.5 247.6L1161.8 249.5L1177.2 252.5L1189.6 259.9L1192.6 260.8L1207.9 262L1223.3 267.8L1236.8 275.3L1238.6 276.2L1254 280.4L1269.4 285.6L1284.7 289.9L1286.5 290.6L1300.1 293.6L1315.4 304.1L1319.1 306L1330.8 312.2L1346.2 318.4L1354.3 321.4L1361.5 323.7L1376.9 327.9L1392.2 331.2L1403.5 336.7L1407.6 338.1L1423 337.7L1438.3 337.3L1453.7 339L1469 341.6L1484.4 344.1L1499.8 346.3L1509.9 352.1L1515.1 353.9L1520.2 352.1L1530.5 346.1L1545.8 344.7L1561.2 343.9L1576.6 343.6L1591.9 343.5L1607.3 343.6L1622.6 343.6L1638 343.5M102 356.9L117.4 358.1L132.7 359.6L143 367.4L148.1 369.6L152.4 367.4L163.4 357.5L178.8 354.2L194.2 353.2L197 352.1L209.5 344.7L224.9 340.7L240.2 337.4L255.6 338.1L259.1 336.7L271 328.9L286.3 325.9L301.7 323.5L317 321.9L320 321.4L332.4 318.4L347.8 315.8L363.1 313.5L378.5 311.2L393.8 309.1L409.2 307L424.6 307.2L427.6 306L439.9 299.1L455.3 294.9L470.6 291.2L486 292.1L489.1 290.6L501.4 281.7L516.7 276.7L532.1 277L534.7 275.3L547.4 261.2L549.6 259.9L562.8 250.6L578.2 246.5L580.2 244.5L593.5 231.4L595.5 229.2L596 227M618.1 191.8L624.2 185.2L626.6 183.1L639.6 169.6L641.8 167.7L655 153.5L656.2 152.4L664.7 137M102 367.7L117.4 369.2L132.7 372.1L148.1 376.6L163.4 369.5L178.8 368.3L181.2 367.4L194.2 362.4L209.5 357.1L224.9 353.6L240.2 353.1L243.3 352.1L255.6 347.8L271 343.1L286.3 340.2L301.7 337.5L306.4 336.7L317 334.8L332.4 331.9L347.8 329.3L363.1 326.9L378.5 324.6L393.8 322.5L409.2 322.3L412.1 321.4L424.6 317.4L439.9 312.5L455.3 308.4L464.6 306L470.6 304.3L486 301.5L501.4 295.5L516.7 291.2L518 290.6L532.1 285.9L547.4 275.8L548.3 275.3L562.8 265.7L570.9 259.9L578.2 256.2L590.7 244.5L593.5 241.7L604.8 229.2L608.9 221.2L615.4 213.8L624.2 204.4L631.7 198.4L639.6 191.3L652 183.1L655 180.6L668.1 167.7L670.3 165.5L685.7 162.9L701 161.4L707.5 152.4L716.4 148.8L719.7 152.4L725.8 167.7L716.4 179.9L713.1 183.1L701 197.5L699.1 198.4L698.7 213.8L701 216.2L712.1 229.2L716.4 231.4L721.3 229.2L731.8 223.1L747.1 222.8L762.5 215.5L777.8 214.8L780.5 213.8L793.2 208.5L808.6 202.7L820.6 198.4L823.9 197.3L833.2 198.4L839.3 199.3L854.6 199.7L870 201L885.4 202.2L900.7 206L916.1 209L931.4 212L946.8 212.7L949.5 213.8L962.2 219.9L977.5 225.5L991.3 229.2L992.9 229.7L1008.2 232.9L1023.6 239.2L1039 240.9L1052.6 244.5L1054.3 245L1069.7 248.9L1085 254.4L1100.4 255.1L1115.8 255.7L1131.1 256.8L1142.8 259.9L1146.5 260.5L1161.8 260.7L1177.2 264.2L1192.6 267.1L1207.9 274.6L1209.3 275.3L1223.3 279.6L1238.6 290L1240.2 290.6L1254 297.7L1269.4 303.6L1284.7 304.4L1300.1 303.4L1303.5 306L1305.8 321.4L1315.4 327.3L1330.8 334L1346.2 335.3L1349.4 336.7L1361.5 342.9L1376.9 345.9L1392.2 348.2L1407.6 350.4L1423 351.5L1438.3 351L1442 352.1L1453.7 356.3L1469 359.2L1484.4 362.1L1489 364.3M1530.3 364.2L1530.5 364.2L1545.8 362.4L1561.2 361.1L1576.6 360.6L1591.9 360.7L1607.3 360.8L1622.6 360.8L1638 360.7M710.8 167.7L716.4 161.6L719.5 167.7L716.4 171.8L710.8 167.7M694.7 183.1L701 178.2L704.5 183.1L701 187.2L694.7 183.1M102 374.8L117.4 378.3L129.3 382.8L132.7 383.9L148.1 383.7L151.8 382.8L163.4 379.3L178.8 376.7L194.2 371.7L209.5 367.8L211.2 367.4L224.9 364L240.2 361.9L255.6 358.1L271 355.4L286.3 352.7L290.2 352.1L301.7 350.1L314 347.9M355.9 340L363.1 339.2L375.7 336.7L378.5 336.2L393.8 334.5L409.2 332.4L424.6 328.4L439.9 324.5L451.5 321.4L455.3 320.3L470.6 316.2L486 312.1L501.4 307.7L506.5 306L516.7 302.7L532.1 296.4L543.4 290.6L547.4 288.5L562.8 278.5L568.5 275.3L578.2 268.4L588.7 259.9L593.5 255.6L604.6 244.5L608.9 239.4L613.5 229.2L624.2 217.8L633.8 213.8L639.6 209.2L652.6 198.4L655 196.7L670.3 196.8L673.1 198.4L685.7 211.6L686.4 213.8L685.7 216.6L682.3 229.2L685.7 232.9L698.2 229.2L701 228.5L701.6 229.2L716.4 237L731.8 230.5L747.1 229.7L749.7 229.2L762.5 225.4L777.8 223L793.2 217.8L806.7 213.8L808.6 213.2L823.9 211.1L839.3 210.9L854.6 211.6L870 213.3L885.4 212.6L888.7 213.8L900.7 219.1L916.1 222.2L931.4 225L946.8 228.2L949.4 229.2L962.2 232.3L977.5 237.1L992.9 241.3L1008.2 243.9L1010.5 244.5L1023.6 248.4L1039 250.1L1054.3 256.1L1068.1 259.9L1069.7 260.4L1085 263.6L1100.4 264.6L1115.8 265.1L1131.1 265.6L1146.5 266.9L1161.8 266.7L1177.2 274.2L1192.6 273.4L1196.2 275.3L1207.9 290L1223.3 288.4L1226.5 290.6L1238.6 304.3L1241.3 306L1254 320.3L1269.4 319.1L1272.7 321.4L1278.9 336.7L1284.7 340.5L1296.9 352.1L1300.1 353.8L1315.4 354.7L1330.8 358.5L1346.2 361.6L1361.5 363.9L1376.9 365.2L1392.2 366L1407.6 366.8L1423 366.5L1438.3 365.6L1442.3 367.4L1453.7 374.4L1469 377.2L1484.4 379.7L1499.8 382.1L1508.3 382.8L1515.1 383.6L1530.5 383.7L1534.7 382.8L1545.8 380.4L1561.2 378.7L1576.6 378.1L1591.9 378.3L1607.3 378.7L1622.6 378.7L1638 378.4M102 381.8L105.3 382.8L117.4 387.2L132.7 391.2L148.1 391.2L163.4 389.1L178.8 385.3L188.6 382.8L194.2 381.3L209.5 377.3L224.9 373.4L240.2 371.1L255.6 368.8L265.7 367.4L271 366.6L286.3 364.3L301.7 362L317 359.7L332.4 357.1L344.4 352.1L347.8 350.9L363.1 351.3L378.5 348.7L393.8 346.4L409.2 343.5L424.6 340L437.4 336.7L439.9 336.1L455.3 332L470.6 328L486 323.9L494.7 321.4L501.4 319.4L516.7 314.6L532.1 308.7L538.3 306L547.4 301.6L561.1 290.6L562.8 289.5L578.2 282.6L587.7 275.3L593.5 270.7L606 259.9L608.9 257L621.5 244.5L621.8 229.2L624.2 226.6L639.6 218.9L651.3 213.8L655 210.6L670.3 210.1L674 213.8L670.3 226.2L666.2 229.2L670.3 230.8L681.6 244.5L685.7 246.3L701 245.6L706.1 244.5L716.4 242.7L731.8 239.5L747.1 236.7L762.5 235.3L777.8 231.5L787.6 229.2L793.2 227.8L808.6 224.4L823.9 222.8L839.3 222.4L854.6 223.3L870 225.5L882.9 229.2L885.4 229.9L897.1 231.6M939 240L946.8 241.7L962.2 243.7L964.6 244.5L977.5 248.5L992.9 253.9L1008.2 257.1L1023.6 259.3L1039 258.4L1042.2 259.9L1054.3 265.2L1069.7 272.4L1085 274.6L1100.4 274.1L1115.8 273.8L1131.1 273.5L1146.5 273.4L1161.8 272.8L1166.6 275.3L1177.2 288.3L1180.4 290.6L1192.6 304.7L1207.9 303.4L1211.1 306L1209.7 321.4L1217.4 336.7L1220.2 352.1L1223.3 354.8L1238.6 356.8L1250.2 367.4L1254 369.3L1269.4 369.4L1284.7 373.8L1300.1 377.5L1315.4 380.8L1325.4 382.8L1330.8 383.8L1346.2 386.5L1361.5 388.3L1376.9 388.8L1392.2 388.7L1401.5 382.8L1407.6 380.7L1412.5 382.8L1423 391.5L1438.3 394.5L1453.7 397L1469 397.1L1484.4 396.8L1499.8 396.5L1504.9 398.2L1515.1 403.7L1530.5 403.5L1541.1 398.2L1545.8 396.6L1561.2 397.1L1576.6 397.3L1591.9 397.2L1599.3 398.2L1607.3 399.6L1622.6 399.6L1630.4 398.2L1638 397.1M633.5 229.2L639.6 225.9L645.2 229.2L639.6 238L633.5 229.2M102 389.1L117.4 395.9L130.6 398.2L132.7 398.5L148.1 398.8L163.4 398.8L165.9 398.2L178.8 394.2L194.2 390.4L209.5 386.6L222.8 382.8L224.9 382.2L240.2 380.8L255.6 378.9L265.9 377.8M308.2 372.7L317 371.7L332.4 370L347.8 368.4L350.3 367.4L363.1 363.9L378.5 361L393.8 358.3L409.2 355.5L422.6 352.1L424.6 351.6L439.9 347.9L455.3 343.9L470.6 339.7L482.9 336.7L486 335.9L501.4 331.8L516.7 325.6L530.2 321.4L532.1 320.6L547.4 315.7L561.2 306L562.8 304.8L578.2 297.9L588.3 290.6L593.5 286.8L607.8 275.3L608.9 274.4L624.2 261.4L629 259.9L639.6 252.9L655 250.2L664.6 259.9L670.3 261.5L675.2 259.9L685.7 255L701 252.2L716.4 250.4L731.8 248.6L744.1 244.5L747.1 243.8L755.7 244.5L762.5 245.1L765.4 244.5L777.8 241L793.2 235.6L808.6 234.3L823.9 233.4L839.3 233.3L854.6 233.8L870 238.2L885.4 242L897.2 244.5L900.7 245.4L916.1 248.8L931.4 252.3L946.8 256.1L962.2 259.2L977.5 258.3L981.1 259.9L992.9 268.3L1008.2 271.5L1023.6 274L1039 273.7L1054.3 273.4L1057.9 275.3L1069.7 287.7L1085 289.6L1100.4 288.4L1115.8 287.5L1120 290.6L1131.1 303.9L1134.2 306L1139.1 321.4L1143.6 336.7L1146.5 339.7L1161.8 347.2L1166.6 352.1L1177.2 362.6L1181.7 367.4L1189.3 382.8L1192.6 385.2L1207.9 385.2L1223.3 389.4L1238.6 392.6L1254 395.7L1269.4 396.9L1274 398.2L1284.7 401.1L1300.1 402.9L1315.4 404.7L1330.8 407.2L1342 413.5L1346.2 414.9L1361.5 414.7L1376.9 414.4L1392.2 414L1407.6 416.7L1423 420.9L1434.1 428.9L1438.3 430.8L1453.7 430.3L1469 430.2L1484.4 430.3L1499.8 429.8L1508.9 428.9L1515.1 427.6L1523.1 428.9L1530.5 430L1545.8 430.2L1553.1 428.9L1561.2 427.2L1576.6 426.4L1591.9 426.4L1607.3 426.7L1622.6 426.7L1638 426.4M102 396.4L105.8 398.2L117.4 404.4L132.7 407.3L148.1 407.4L163.4 406.6L178.8 403L194.2 399.4L199.4 398.2L209.5 395.7L224.9 392.1L240.2 389.2L255.6 388.8L271 388L286.3 387L301.7 384.4L317 383.2L332.4 383.7L347.8 384.2L351.6 382.8L363.1 376L378.5 373.1L393.8 370.6L409.2 368L411.3 367.4L424.6 363.6L439.9 359.9L455.3 356.1L468.6 352.1L470.6 351.5L486 348.9L501.4 345.3L513.3 336.7L516.7 335.1L528.8 336.7L532.1 337.4L533.9 336.7L547.4 331.1L562.8 323.9L567.4 321.4L578.2 315.3L592.4 306L593.5 305.2L606.9 290.6L608.9 289L621.5 275.3L624.2 272.9L639.6 274.4L655 270.5L670.3 267.5L685.7 264.1L696.7 259.9L701 258.8L716.4 259.3L731.8 257.9L747.1 250.9L762.5 251.8L777.8 250L789.4 244.5L793.2 243L808.6 243.3L823.9 243.5L839.3 243.4L854.6 243L858.4 244.5L870 251.7L885.4 255.4L900.7 258.9L905 259.9L916.1 262.1L931.4 267.4L946.8 272.6L955.4 275.3L962.2 277.9L977.5 282.5L992.9 286.4L1008.2 289.8L1023.6 289.2L1039 288.1L1042.7 290.6L1054.3 304.9L1069.7 303.6L1073.3 306L1074.2 321.4L1082.6 336.7L1085 339.5L1100.4 349.2L1102.9 352.1L1100.4 356.1L1097 367.4L1100.4 370.6L1115.8 369.2L1131.1 379.1L1135.9 382.8L1146.5 390.8L1155.7 398.2L1161.8 402.1L1174 413.5L1177.2 415.2L1192.6 415.7L1207.9 418L1223.3 419.6L1238.6 421.7L1249.5 428.9L1254 430.8L1269.4 430.4L1284.7 430.2L1291.4 428.9L1300.1 426.7L1315.4 426.9L1330.8 428.1L1346.2 427.6L1350.4 428.9L1361.5 435.5L1376.9 437.6L1386.2 428.9L1392.2 426.2L1396.7 428.9L1404 444.2L1407.6 445.4L1423 447.5L1438.3 450L1453.7 451.4L1469 451.9L1484.4 451.4L1494.3 444.2L1494.5 444.2M1533.2 455.2L1545.8 456.7L1555.5 459.6L1561.2 461L1576.6 460.8L1591.9 460.7L1607.3 460.7L1622.6 460.7L1638 460.7M102 412.3L117.4 412.7L121.4 413.5L132.7 416.1L148.1 415.9L163.4 414.4L168.5 413.5L178.8 411.7L194.2 408.3L209.5 404.4L224.9 401.9L236.8 398.2L240.2 397.2L251.6 398.2L255.6 398.5L271 398.8L286.3 399.2L290.4 398.2L301.7 394.4L317 392.9L332.4 392.4L347.8 392L363.1 387.6L378.5 384.8L393.8 383.6L396.6 382.8L409.2 379L424.6 375.5L439.9 372.2L455.3 368.7L461.4 367.4L470.6 365.4L486 362.6L501.4 359.8L516.7 356.6L532.1 352.7L534.1 352.1L547.4 347.7L562.8 341.6L573.3 336.7L578.2 334.3L593.5 326L601.6 321.4L608.9 316.8L624.2 307.1L626.3 306L639.6 298.7L655 291.6L657 290.6L666.2 275.3L670.3 273.6L685.7 273.6L701 274.1L716.4 272.6L731.8 265.7L743.1 259.9L747.1 257.9L762.5 258.5L777.8 258.5L793.2 257.9L808.6 258.3L823.9 258.5L839.3 258.4L854.6 257.6L858.5 259.9L870 267L885.4 270.2L900.7 273.5L916.1 273.9L918.9 275.3L931.4 285.3L942.1 290.6L946.8 294.1L962.2 302.2L977.5 304.5L992.9 303.5L996.7 306L1000.8 321.4L1004.9 336.7L1008.2 339.3L1023.6 338.5L1036.9 352.1L1039 354L1052.2 367.4L1054.3 369.6L1069.7 378.8L1074.5 382.8L1085 391.1L1100.4 395.7L1103.3 398.2L1113.3 413.5L1115.8 415.1L1127.4 428.9L1131.1 430.9L1146.5 429.9L1161.8 434.1L1173.1 444.2L1177.2 446.2L1192.6 445.6L1207.9 445.1L1223.3 445.1L1228.4 444.2L1238.6 442.7L1243.1 444.2L1254 448.8L1269.4 450.3L1284.7 450.3L1300.1 449.2L1315.4 446.3L1330.8 452.4L1346.2 457.3L1354.7 459.6L1361.5 461.6L1376.9 464.7L1392.2 467.4L1407.6 469.7L1423 471.5L1438.3 472.9L1453.7 474.1L1461.4 475L1469 475.9L1475.2 475L1484.4 473.7L1490.2 475L1499.8 477.7L1515.1 480.1L1530.5 482.3L1545.8 484L1561.2 485.5L1576.6 486.7L1591.9 487.4L1600.7 487.5M102 423.5L112.6 428.9L117.4 430.5L122.8 428.9L132.7 425.2L148.1 424.5L163.4 422.8L178.8 420.5L194.2 417.1L207.6 413.5L209.5 413L224.9 411.2L240.2 408.2L255.6 407.8L256.9 407.7M286.9 406.5L301.7 404.3L317 402.4L332.4 401.3L347.8 400.1L363.1 398.6L365.6 398.2L378.5 395.8L393.8 393.7L409.2 390.6L424.6 386.8L439.9 384.7L450.4 382.8L455.3 381.9L470.6 379.3L486 377.2L501.4 375.3L516.7 372.9L532.1 369.4L538.9 367.4L547.4 364.9L562.8 359.8L578.2 353.8L582.4 352.1L593.5 347.2L608.9 340.1L616 336.7L624.2 332.3L636.9 321.4L639.6 319.6L655 317.1L670.3 309.9L678 306L685.7 302.4L697.6 290.6L701 288.7L716.4 289.9L727.7 275.3L731.8 273.1L747.1 271.8L753.2 275.3L762.5 282.7L772.3 275.3L777.8 272.6L783.4 275.3L793.2 283.3L808.6 283.6L823.9 283.3L839.3 282.9L854.6 283.5L870 285.2L885.4 287.5L900.7 289.8L916.1 287.9L919.2 290.6L931.4 303.6L934.3 306L931.4 315.6L929.1 321.4L931.4 324.1L943.7 336.7L946.8 339.1L962.2 339.7L973.5 352.1L977.5 353.6L992.9 352.5L1008.2 363.9L1023.6 364.4L1026.7 367.4L1023.6 378.7L1021.6 382.8L1023.6 385.2L1037.2 398.2L1039 400.1L1054.3 411.4L1056.5 413.5L1066.8 428.9L1066.1 444.2L1069.7 447.1L1085 446.1L1100.4 445.3L1115.8 448L1131.1 450.5L1146.5 453.1L1161.8 456.4L1177.2 459.1L1192.6 458.3L1207.9 457.8L1212.5 459.6L1223.3 469.6L1238.6 472.4L1254 473.9L1269.4 474L1284.7 473.8L1300.1 473.5L1305.3 475L1315.4 479.3L1326.5 490.3L1330.8 492.6L1340.6 490.3L1346.2 488.3L1355.6 490.3L1361.5 491.4L1366.6 490.3L1376.9 488.6L1381.7 490.3L1387.3 505.7L1392.2 508.3L1397.9 505.7L1407.6 495.7L1423 496.3L1438.3 497.6L1453.7 499.3L1469 501L1484.4 503.1L1499.8 504.6L1504.3 505.7L1515.1 508.8L1530.5 510.4L1545.8 511.3L1561.2 512.6L1576.6 515.2L1587.4 521.1L1591.9 523.2L1601.4 521.1L1607.3 519.2L1622.6 519.1L1638 518.7M1310.1 459.6L1315.4 456.6L1319.9 459.6L1315.4 470.8L1310.1 459.6M102 434.3L117.4 437.7L132.7 435.1L148.1 432.9L163.4 431.2L178.8 429.2L180.5 428.9L194.2 425.9L209.5 422.5L224.9 420.4L240.2 419.3L255.6 416.9L271 415.5L286.3 414L301.7 414L303.2 413.9M333 410.8L347.8 410L363.1 408.8L378.5 407L393.8 403.2L409.2 401.8L420.8 398.2L424.6 397L439.9 397.6L455.3 396.2L470.6 394.5L486 393L501.4 391.8L516.7 390.1L532.1 387.1L545 382.8L547.4 382.1L562.8 379L578.2 374.5L590.8 367.4L593.5 366.2L608.9 363.5L624.2 357.6L639.6 353.4L642.3 352.1L655 344.4L670.3 338.5L675.1 336.7L685.7 332.5L701 325.8L711.2 321.4L716.4 319.1L731.8 313.9L747.1 311.1L762.5 310.9L777.8 312.4L793.2 314.2L808.6 314.6L823.9 313.4L833.9 306L839.3 303.9L854.6 304.1L870 303.9L885.4 303.5L900.7 302.7L904.4 306L900.7 314.1L887.7 321.4L885.4 325L881.6 336.7L885.4 340.1L900.7 339.8L913.1 352.1L916.1 354.6L931.4 365.2L946.8 365L962.2 364.6L977.5 365.1L992.9 364L996.7 367.4L992.9 375L977.5 377.4L962.2 378.9L946.8 374.5L942.9 382.8L946.8 386.1L962.2 385.6L973.7 398.2L977.5 400.9L992.9 404.7L1008.2 410.8L1010.8 413.5L1018.4 428.9L1023.6 434.6L1032 444.2L1039 451.2L1049.6 459.6L1054.3 462.4L1069.7 468L1085 470.6L1100.4 471.9L1115.8 472.9L1131.1 474L1146.5 473.6L1161.8 472.9L1165.9 475L1177.2 486.6L1192.6 488.5L1196 490.3L1203.9 505.7L1207.9 508L1223.3 507.3L1238.6 506.9L1254 506.8L1269.4 507L1284.7 508.3L1300.1 510.6L1315.4 513.2L1330.8 515.5L1346.2 517L1355.3 521.1L1361.5 522.9L1368 521.1L1376.9 517.9L1392.2 519.8L1407.6 519.7L1423 520L1427.4 521.1L1438.3 524.4L1453.7 527.3L1469 530.1L1484.4 533.4L1495.2 536.4L1499.8 537.7L1515.1 539.3L1530.5 540.1L1538.6 536.4L1545.8 534.4L1561.2 534L1565.4 536.4L1576.6 550.2L1579.3 551.8L1591.9 564.1L1595.9 567.2L1607.3 578.1L1622.6 577.6L1626.9 582.5L1622.6 588.2L1607.3 591.1L1604.3 597.9L1600.8 613.2L1591.9 622L1588.4 628.6L1591.9 633.9L1607.3 638.4L1610.3 644L1607.3 650.3L1604 659.3L1607.3 663.2L1622.6 670.5L1627.1 674.7L1633.9 690.1L1638 693.5M102 445L117.4 445L132.7 445.1L136.7 444.2L148.1 441.1L163.4 439.4L178.8 437.4L194.2 434.6L209.5 431.9L224.9 429.5L240.2 429.6L243.9 428.9L255.6 425.9L271 424.4L286.3 420.8L301.7 421L317 419.9L332.4 419.5L333.2 419.5M363.1 418.5L378.5 417.6L389.4 413.5L393.8 412L409.2 412.2L424.6 412.2L439.9 412.8L455.3 412.8L470.6 411.8L486 410.9L501.4 410.1L516.7 409.2L532.1 407.5L543.2 398.2L547.4 396L555.5 398.2L562.8 402.3L573.6 398.2L578.2 396.8L593.5 396.5L608.9 392.6L620.5 382.8L624.2 380.9L639.6 381.1L651.2 367.4L655 365.1L670.3 365.7L685.7 366L701 362.4L716.4 357.3L727.6 352.1L731.8 350.4L742.5 336.7L747.1 334.1L762.5 334L767.1 336.7L773.4 352.1L777.8 354L793.2 356.6L808.6 358.7L823.9 359.6L839.3 361.2L854.6 365.1L870 364.7L885.4 364L889.1 367.4L885.4 379.7L870 373.9L866.1 382.8L870 386L885.4 385.4L898.1 398.2L900.7 400.4L916.1 411.2L919.2 413.5L931.4 421.9L943.2 428.9L946.8 431L962.2 438.6L977.5 442L980.5 444.2L992.9 457.5L995 459.6L1008.2 472.4L1010.8 475L1008.2 479L1004.2 490.3L1008.2 493.3L1023.6 492.3L1039 492.3L1054.3 496.4L1069.7 499.4L1085 501.3L1100.4 502.7L1115.8 504.3L1131.1 503.5L1135 505.7L1142.6 521.1L1146.5 523.3L1161.8 522.7L1177.2 526.3L1192.6 529.1L1207.9 531.1L1223.3 532.3L1238.6 533.1L1254 534.1L1269.4 535.3L1284.7 534.9L1289.5 536.4L1300.1 541L1315.4 543.2L1330.8 544.4L1346.2 544.8L1361.5 544.2L1371.5 536.4L1376.9 534.3L1392.2 534.2L1397.1 536.4L1407.6 546.8L1423 550.4L1429.3 551.8L1438.3 553.9L1453.7 557.5L1469 562.1L1484.4 565.7L1488.2 567.2L1499.8 574.9L1515.1 580.2L1523.7 567.2L1530.5 563.9L1534.9 567.2L1534.2 582.5L1530.5 589.4L1521.1 597.9L1518.1 613.2L1515.1 621.2L1512.7 628.6L1511.4 644L1512.5 659.3L1511.6 674.7L1515.1 678.4L1530.5 679.9L1545.8 687.4L1549.9 690.1L1561.2 699.2L1576.6 701.6L1580 705.4L1576.6 715.6L1573.8 720.8L1576.6 725.2L1584.3 736.1L1591.9 747.3L1594.7 751.5L1591.9 756.2L1588.2 766.9L1591.9 770.7L1607.3 769.8L1622.6 777.3L1632.5 782.2L1638 784.4M102 452.4L117.4 452.5L132.7 451.9L148.1 449.2L163.4 447.6L178.8 445.6L187.7 444.2L194.2 443.2L209.5 440.7L224.9 438.3L226.2 438.2M255.9 434.9L271 433.4L282.1 428.9L286.3 427.6L301.7 427.9L317 427.9L332.4 427.9L347.8 427.7L363.1 427.6L378.5 427.5L384.4 428.9L393.8 432.6L409.2 432.7L424.6 432.7L439.9 432.7L455.3 432.5L470.6 431.9L486 430.8L501.4 429.5L516.7 429.9L532.1 430.2L547.4 430.2L562.8 430.6L578.2 431.9L593.5 434.6L604.6 444.2L608.9 446.5L624.2 446.3L639.6 446.7L644.1 444.2L655 432.4L664.2 428.9L670.3 426.2L685.7 421.3L701 417.7L716.4 415.1L731.8 415.6L736.3 413.5L747.1 406L762.5 403.2L777.8 401.5L793.2 400.8L808.6 401.5L823.9 404.2L839.3 409.5L854.6 410.9L857.8 413.5L870 425.7L873.1 428.9L870 437L866.9 444.2L870 447.4L881.7 459.6L885.4 462.3L900.7 462.4L916.1 471.3L931.4 471.6L935.1 475L934.1 490.3L931.4 495.2L928.3 505.7L931.4 509.8L942.6 521.1L946.8 524.1L962.2 523.5L969.9 521.1L977.5 517.7L992.9 518L1008.2 519.6L1023.6 519.5L1039 518.7L1043 521.1L1050.6 536.4L1054.3 538.5L1069.7 538.6L1085 541.8L1100.4 545L1111.2 551.8L1115.8 553.6L1131.1 553L1146.5 554.5L1161.8 555.9L1177.2 557.6L1187.5 567.2L1192.6 569.2L1198.3 567.2L1207.9 559.3L1223.3 559.6L1238.6 560.9L1254 563.3L1265.2 567.2L1269.4 568.4L1284.7 570.2L1300.1 573.2L1315.4 575.4L1330.8 577.1L1346.2 578.5L1361.5 580.1L1376.9 580.8L1382.3 582.5L1392.2 587.2L1407.6 592.4L1423 595L1431.6 582.5L1438.3 579.4L1453.7 579.1L1457.9 582.5L1453.7 589.3L1442.3 597.9L1438.3 604L1426.4 613.2L1423 620.4L1420.3 628.6L1420.6 644L1423 651.9L1425.5 659.3L1427.8 674.7L1423 680.8L1419.2 690.1L1423 694.6L1438.3 695.4L1453.7 701L1457.2 705.4L1456.6 720.8L1453.7 729.6L1451.1 736.1L1450.6 751.5L1449.5 766.9L1453.7 770.2L1469 769.6L1479 766.9L1484.4 764L1499.8 764.2L1503.8 766.9L1515.1 776.9L1520.9 782.2L1530.5 793.2L1533.9 797.6L1543.4 813L1545.8 815.8L1557.7 828.3L1561.2 830.9L1576.6 833.2L1591.9 837.4L1607.3 841.3L1615 843.7L1622.6 846.1L1638 848.9" fill="none" stroke="#000" stroke-width="2.2" stroke-linejoin="round" stroke-dasharray="2.2 3.8"/>
<path d="M102 459.9L117.4 460L121.6 459.6L132.7 458.7L148.1 457.2L163.4 455.7L178.8 453.8L194.2 451.7L198.8 451M221.3 447.6L224.9 447.1L236.8 444.2L240.2 443.6L255.6 443.9L271 442.6L286.3 440.4L301.7 440.4L317 441.1L332.4 442.4L343.9 444.2L347.8 444.8L363.1 446.3L378.5 448L393.8 449.3L409.2 450.2L424.6 450.9L439.9 451.8L455.3 452.9L470.6 453.1L486 452L496.3 444.2L501.4 442.1L506.9 444.2L516.7 450.8L532.1 451.7L547.4 452.8L562.8 454.9L578.2 458.6L581 459.6L593.5 464.8L608.9 470.6L624.2 473.7L631.9 475L639.6 476.8L647.3 475L655 473.5L670.3 471.9L685.7 468L701 462.9L708.4 459.6L716.4 456.6L727.5 444.2L731.8 441.8L747.1 442.2L762.5 442L777.8 441.4L787.8 428.9L793.2 425.8L808.6 425.6L812.9 428.9L812.5 444.2L808.6 451.4L793.2 454.3L777.8 452.5L773.2 459.6L773.5 475L777.8 479.1L793.2 478.3L808.6 478L823.9 483.8L834.6 490.3L839.3 492.5L854.6 496.4L860.9 490.3L870 487.1L885.4 486.6L889.3 490.3L885.4 497.4L873 505.7L870 513.1L867.1 521.1L870 526.1L878.2 536.4L882.2 551.8L885.4 555.1L900.7 561.1L911.2 567.2L916.1 569.5L931.4 572.2L946.8 572.8L962.2 570.5L971.2 567.2L977.5 565.3L992.9 563.3L1008.2 562.2L1023.6 563.6L1033.8 567.2L1039 568.5L1054.3 570.3L1069.7 573.4L1085 575.8L1100.4 578.1L1115.8 580.6L1125.2 582.5L1131.1 583.7L1137.6 582.5L1146.5 581.1L1161.8 581.1L1177.2 580.9L1192.6 581.4L1207.9 580.5L1213.4 582.5L1223.3 588.7L1238.6 591.1L1254 594.1L1269.4 596.7L1272.7 597.9L1284.7 603.8L1300.1 610.5L1315.4 610.5L1319.3 613.2L1330.8 624.6L1334.5 628.6L1330.8 639.3L1315.4 634.5L1311.7 644L1315.4 648.8L1330.8 650.5L1335 659.3L1346.2 669.3L1349.4 674.7L1346.2 682.6L1341.4 690.1L1340.6 705.4L1340.8 720.8L1342.4 736.1L1346.2 744.2L1348.9 751.5L1346.2 760.3L1343.7 766.9L1342.9 782.2L1346.2 787.7L1356 797.6L1361.5 801L1369.8 797.6L1376.9 794.8L1382.8 797.6L1392.2 803.1L1407.6 808.7L1423 810.1L1438.3 810.2L1453.7 810.4L1469 810.1L1484.4 809.3L1488.3 813L1488 828.3L1488.6 843.7L1484.4 849.6L1473.8 843.7L1469 836L1461.4 843.7L1453.7 850L1438.3 851.5L1434.4 859L1434.7 874.4L1434.1 889.8L1438.3 893.5L1447.5 889.8L1453.7 880.2L1462.5 889.8L1469 892.8L1484.4 893.1L1491.2 889.8L1492.7 874.4L1499.8 870.1L1505.8 874.4L1515.1 884.9L1530.5 886.6L1545.8 886.1L1561.2 885.8L1565.7 889.8L1561.2 901.1L1545.8 898.2L1530.5 894.8L1525.6 905.1L1530.5 909.1L1545.8 908.7L1561.2 908.7L1571.5 920.5L1576.6 923.3L1591.9 922.6L1598.8 920.5L1607.3 918L1614.5 920.5L1622.6 923.8L1638 925.6M1315.8 822.1L1315.4 822.5L1311.1 828.3L1315.4 832.9L1330.8 832.8L1335.9 828.3L1336.9 813L1331.9 808.3M1423 818.5L1418.3 828.3L1418.7 843.7L1423 849.4L1432.6 843.7L1431.4 828.3L1423 818.5M347.8 856.6L344.4 859L347.8 862.3L349.9 859L347.8 856.6M1359.4 892.6L1361.5 894.8L1363.9 892.5M542.8 915L532.1 915.5L516.7 917.8L501.4 917.3L494.4 920.5L501.4 924.7L513.2 935.8L516.7 941.4L523 935.9L532.1 926L541.6 935.8L547.4 940.2L551.8 935.9L551.9 931.1M102 467.2L117.4 467.3L132.7 466.5L148.1 465.3L163.4 463.8L178.8 462.1L194.2 460.1L197.5 459.6L209.5 457.9L224.9 455.8L240.2 453.4L255.6 453L271 452.2L286.3 451.9L301.7 452.3L317 453.8L332.4 456.1L347.8 458.9L351.7 459.6L363.1 461.7L378.5 464L393.8 465.7L409.2 466.8L424.6 468L427.8 468.4M449.5 474.2L451.2 475L455.3 476.5L470.6 476L486 476L492.9 475L501.4 473.4L516.7 473.2L532.1 474.1L547.4 473.7L562.8 472.8L566.5 475L578.2 489L580.4 490.3L593.5 501.7L598.7 505.7L608.9 516.2L613.9 521.1L621.5 536.4L624.2 539.2L639.6 544.9L649.6 551.8L655 554.8L666.6 567.2L670.3 569.4L685.7 569.1L701 573.7L712.2 582.5L716.4 584.6L731.8 584.8L747.1 592L756.5 597.9L762.5 601.8L775 613.2L777.8 615.3L793.2 621.9L803.1 628.6L808.6 632.2L820.4 644L823.9 646.6L839.3 646.3L854.6 646.2L861.8 644L870 641.1L885.4 638.2L900.7 637.3L916.1 638.5L931.4 641.5L939.1 644L946.8 646.2L962.2 650.6L977.5 656L985.8 659.3L988.6 674.7L992.9 677.6L1008.2 677.3L1019.3 690.1L1023.6 693.2L1039 693L1054.3 693.2L1069.7 693.9L1074.3 690.1L1074 674.7L1069.7 669.6L1054.3 669.4L1039 667.2L1030 659.3L1023.6 651.6L1008.2 653.6L1003.1 644L1008.2 638.5L1023.6 636.3L1027.8 628.6L1023.6 623.2L1019.8 613.2L1019.1 597.9L1023.6 594.6L1039 595L1054.3 595L1059.3 597.9L1054.3 609.3L1045.8 613.2L1054.3 616.7L1069.7 615.8L1077.1 613.2L1085 611.6L1100.4 611.6L1115.8 611.3L1121.1 613.2L1131.1 619.7L1146.5 622L1161.8 623.4L1177.2 624.6L1192.6 626.4L1207.9 626.3L1223.3 625.7L1238.6 625.4L1254 625.1L1269.4 624.8L1273.5 628.6L1269.4 634.4L1254 634.8L1243.4 644L1238.6 648.3L1223.3 648.2L1207.9 653.5L1204.1 659.3L1196.2 674.7L1192.6 678.7L1177.2 685.1L1161.8 686.3L1146.5 685.6L1142.3 690.1L1142.6 705.4L1146.5 710.4L1157.4 720.8L1161.8 725.2L1172.2 720.8L1177.2 715L1192.6 716.5L1197.1 720.8L1207.9 731.3L1223.3 731.1L1227.4 736.1L1223.3 741.8L1211.8 751.5L1207.9 756.3L1192.6 759.2L1177.2 761.7L1161.8 761.5L1157.6 766.9L1161.8 773.8L1177.2 776.4L1182.3 782.2L1177.2 789.3L1172.7 797.6L1171.1 813L1170.1 828.3L1177.2 833.2L1187.1 843.7L1192.6 847L1207.9 848.4L1219.1 859L1223.3 862.2L1229.7 859L1238.6 855.3L1254 855L1269.4 854.8L1273.8 859L1274.1 874.4L1269.4 883.1L1259.7 874.4L1254 868.9L1238.6 867.6L1235.2 874.4L1235.5 889.8L1234.9 905.1L1238.6 908.9L1254 908.1L1264.3 920.5L1269.4 923.7L1276.7 920.5L1277 905.1L1275.9 889.8L1284.7 884.9L1289.2 889.8L1300.1 900.7L1304 905.1L1300.1 914.6L1295.7 920.5L1300.1 923.8L1315.4 932.2L1318.6 935.8L1330.8 947.7L1331.2 948M1319.6 957.4L1315.4 958.1L1311.5 966.6L1315.4 970.2L1330.8 969.7L1339.6 966.6L1346.2 959.9L1355.3 966.6L1361.5 969.6L1370.3 966.6L1376.9 962.6L1386.4 951.2L1392.2 947.7L1399.9 951.2L1407.6 959L1423 962.4L1438.3 963.3L1442.8 966.6L1448.6 981.9L1453.7 985.1L1469 984.5L1477.8 981.9L1484.4 979.4L1499.8 979.4L1515.1 979.5L1522.2 981.9L1525 997.3L1530.5 1000.5L1535.7 997.3L1545.8 984L1553 981.9L1561.2 979.3L1576.6 976.7L1591.9 976.6L1607.3 979L1616.2 981.9L1622.6 983.8L1638 985.7M818.6 521.1L823.9 516.8L828.6 521.1L823.9 526.6L818.6 521.1M812.6 746L808.6 745.9L804.4 751.5L808.6 755.6L823.9 755.7L825.3 754.4M1021.5 799.3L1023.6 801.2L1039 801.3L1054.3 801.9L1059.1 797.6L1054.3 792.3L1039 791.2L1029.4 782.2L1028.8 766.9L1023.6 763.4L1008.2 763.2L1004.4 766.9L1004.7 782.2L1005.5 783.3M1195.8 821.6L1192.6 822.2L1183.7 813L1192.6 805.2L1198 797.6L1207.9 791.9L1212.1 797.6L1212.1 810.4M1069.7 806.6L1063.9 813L1069.7 816.8L1074.7 813L1069.7 806.6M1146.5 808L1142.3 813L1142.5 828.3L1142.5 843.7L1142.4 859L1146.5 862.9L1152.7 859L1153.9 843.7L1156 828.3L1156 813L1146.5 808M301.7 857.4L298.1 859L301.7 865.3L317 864.5L322.9 859L317 856.8L301.7 857.4M347.8 851.8L337.8 859L347.8 868.7L354.1 859L347.8 851.8M363.1 901.2L359.8 905.1L363.1 907.1L369.1 905.1L363.1 901.2M388.6 908.8L390.9 920.5L393.8 923.4L398 920.5L399.1 910.8M532.1 903.2L527.8 905.1L516.7 911L501.4 910.8L486 914.9L480.9 920.5L486 925L501.4 933.1L504.3 935.9L513.6 951.2L516.7 953L532.1 952.9L547.4 953.1L550.9 951.2L562.8 938.9L564.6 935.9L565.1 920.5L562.8 918.3L551.6 905.1L547.4 903L532.1 903.2M1417.4 920.5L1423 916.2L1427.7 920.5L1423 927.3L1417.4 920.5M1380.6 989.5L1376.9 989.4L1372.6 997.3L1376.9 1001.1L1392.2 1000.9L1407.6 1001.1L1412.7 997.3L1407.6 989.8L1403.3 989.8M1350.7 1189.2L1350.2 1181.7L1346.2 1177.5L1330.8 1176.9L1327.2 1181.7L1324.8 1197L1330.8 1199.9L1337 1199.9M102 474.5L117.4 474.6L132.7 474.4M155.4 472.6L163.4 471.9L178.8 470.2L194.2 468.3L209.5 466.6L224.9 464.5L240.2 463.2L255.6 462.3L271 461.9L286.3 462.4L301.7 463.4L317 466.7L332.4 470L344.7 475L347.8 476L363.1 476.5L378.5 479.3L393.8 481.3L409.2 482.7L424.6 484.3L439.9 486.8L452.7 490.3L455.3 490.9L470.6 493.6L486 495.7L501.4 496.8L516.7 498.6L532.1 503.1L537.5 505.7L547.4 512.5L557.2 521.1L562.8 527.3L570.9 536.4L578.2 545.7L583 551.8L591.3 567.2L593.5 569.4L605.7 582.5L608.9 584.9L624.2 585.2L639.6 591.6L655 596.4L658.3 597.9L670.3 605L685.7 610L701 611.6L716.4 610.6L720.1 613.2L731.8 625.9L734.9 628.6L737.5 644L747.1 654.3L762.5 655.6L777.8 655.7L781.9 659.3L793.2 670.1L797.3 674.7L793.2 680.1L777.8 680.4L762.5 681.5L753 674.7L747.1 667.8L731.8 668.7L716.4 670L711.4 674.7L712.3 690.1L712.5 705.4L716.4 713.5L725.1 720.8L724.1 736.1L716.4 743.6L701 746.1L685.7 746.7L670.3 746.8L661.8 736.1L655 732.3L650.3 736.1L639.6 747.3L624.2 747.4L620.6 751.5L620.3 766.9L624.2 770.4L639.6 770L646.7 766.9L655 756.2L664.5 766.9L670.3 770.1L685.7 770.1L694.8 766.9L701 758.3L710.2 766.9L711.2 782.2L716.4 785.1L731.8 785.2L736.6 782.2L747.1 769.8L752.6 766.9L754 751.5L747.1 745.1L738.2 736.1L738.3 720.8L737.7 705.4L747.1 697.9L762.5 697.6L766.8 705.4L762.5 712.5L752.7 720.8L762.5 729.4L766.3 736.1L766.5 751.5L777.8 762.3L782.4 766.9L793.2 773.3L805.9 782.2L808.6 783.9L823.9 788.8L839.3 788.1L847.2 797.6L854.6 800.7L858.8 797.6L857.5 782.2L863.1 766.9L867.8 751.5L870 747.7L879.7 736.1L885.4 727.7L891.4 720.8L900.7 711.4L910 705.4L916.1 702.9L931.4 701.1L946.8 700.5L962.2 701.7L977.5 703.7L992.9 703.2L1008.2 702.5L1012.4 705.4L1023.6 717.4L1039 717.2L1054.3 717.1L1059.3 720.8L1054.3 726.8L1039 726.4L1023.6 726.1L1012.2 736.1L1008.2 738.8L996.4 751.5L992.9 754.6L977.5 754.9L962.2 763.5L946.8 762L942.9 766.9L943 782.2L946.8 785.6L958.3 797.6L962.2 799.6L977.5 798.2L992.2 813L990.3 828.3L992.9 832.3L1004.8 843.7L1008.2 846.5L1023.6 845.6L1031.4 843.7L1039 842L1054.3 841.9L1069.7 841.3L1074.3 843.7L1085 853.8L1093.3 859L1100.4 864L1115.8 871.8L1118.4 874.4L1131.1 887.2L1133.9 889.8L1142.9 905.1L1146.5 909.5L1156.1 920.5L1161.8 926.5L1172 935.8L1177.2 940L1188.2 951.2L1192.6 954.1L1207.9 953.6L1214.3 951.2L1223.3 948.7L1238.6 948.4L1243.5 951.2L1249.5 966.6L1254 971.3L1269.4 977.4L1284.7 978.4L1288.6 981.9L1300.1 994.7L1315.4 994.3L1319.7 997.3L1330.8 1008.8L1346.2 1008.8L1350.5 1012.7L1346.2 1020.7L1330.8 1020.1L1315.4 1020.8L1307.8 1028L1300.1 1033.4L1284.7 1031.8L1269.4 1031.9L1262.9 1028L1262 1012.7L1254 1007.5L1238.6 1008.1L1234.8 1012.7L1223.3 1022.4L1219.8 1028L1223.3 1033.4L1235.9 1043.4L1233.9 1058.8L1223.3 1069.4L1220.7 1074.1L1207.9 1084.2L1204.9 1089.5L1207.9 1093.7L1223.3 1092.9L1235.7 1104.8L1238.6 1107.4L1254 1111.1L1263.6 1120.2L1266.5 1135.6L1269.4 1138.4L1284.7 1138.3L1296.8 1150.9L1300.1 1151.7L1314.8 1166.3L1314.2 1181.7L1311.9 1197L1315.4 1199.3L1330.8 1206L1346.2 1208.7L1358.6 1212.4L1358.3 1227.7L1361.5 1232.2L1368 1227.7L1376.9 1214.8L1381.4 1212.4L1392.2 1201L1396.7 1197L1392.2 1191.5L1380.3 1181.7L1376.9 1179.2L1361.5 1169.2L1358.8 1166.3L1346.2 1153.9L1342.1 1150.9L1346.2 1142.1L1348.5 1135.6L1346.2 1130.3L1339.1 1120.2L1335.7 1104.8L1330.8 1096.1L1327.5 1089.5L1330.8 1081.2L1335.8 1074.1L1346.2 1063L1349.8 1058.8L1361.5 1047L1369.2 1043.4L1376.9 1040.7L1392.2 1041L1399.9 1043.4L1402.6 1058.8L1407.6 1062.1L1417.1 1058.8L1412.6 1043.4L1423 1039.8L1427.8 1043.4L1432.7 1058.8L1433.5 1074.1L1438.3 1077.5L1444.3 1074.1L1453.7 1061.2L1459.5 1058.8L1469 1054.3L1484.4 1047.9L1494.2 1043.4L1499.8 1041.2L1515.1 1038.8L1530.5 1036.3L1545.8 1033L1556.2 1028L1561.2 1026.2L1576.6 1025.9L1591.9 1026L1607.3 1025.6L1612 1028L1617.7 1043.4L1622.6 1046.6L1630.8 1043.4L1638 1038.8M660.6 654.6L655 654.6L651.1 659.3L655 664.9L670.3 665.1L672.7 662.9M685.7 669.1L680.5 674.7L685.7 679.9L692.8 674.7L685.7 669.1M880.7 690.1L885.4 685.8L891.8 690.1L885.4 697.5L880.7 690.1M1063.6 736.1L1069.7 731.1L1074.5 736.1L1069.7 740.9L1063.6 736.1M823.9 803.5L819.3 813L823.9 816.3L829.1 813L823.9 803.5M193.2 847.7L194.2 849.1L201.8 843.7L195.7 828.3L194.2 824.5L193.4 826.3M176.6 861.9L178.8 863.7L180.7 862M399.5 898.6L393.8 896.3L378.5 902.8L363.1 893.5L352.1 889.8L349.2 874.4L358.3 859L347.8 847L332.4 855.7L317 852.3L301.7 854.1L290.8 859L298.1 874.4L301.7 877.4L317 876.8L328.3 889.8L332.4 892.5L347.8 892.6L353.2 905.1L363.1 911.1L378.5 907.5L385.1 920.5L393.8 929.2L406.2 920.5L409.2 910.6L417.8 920.5L424.6 924.1L429 920.5L428.6 905.1L424.6 902L421.5 902.2M1202.2 889.8L1207.9 885.3L1212.2 889.8L1207.9 895.4L1202.2 889.8M539.5 966.5L539.8 966.6L547.4 969.9L559.1 981.9L562.8 984.7L578.2 985.5L581.5 981.9L580 966.6L581.7 951.2L584.4 935.9L582.2 920.5L581.1 905.1L578.2 902.8L562.8 903.5L547.4 896.6L532.1 897.4L516.7 903.9L501.4 904.2L486 903L482.4 905.1L470.6 918L455.3 916.2L450.3 920.5L455.3 924.2L470.6 924.5L485 935.9L486 936.4L501.4 948.6L502.9 951.2L516.7 959.1L517.9 959.6M1261.9 951.2L1269.4 947.6L1273.6 951.2L1269.4 960.9L1261.9 951.2M1269.4 987.5L1263 997.3L1269.4 1006.6L1278.1 997.3L1269.4 987.5M1354.3 1028L1361.5 1024.3L1367 1028L1361.5 1039.2L1354.3 1028M1402.6 1030.1L1401.5 1028L1407.6 1024.6L1412.9 1028L1412.2 1029.5M1321 1060.4L1315.4 1064.3L1300.1 1063.4L1295.3 1058.8L1300.1 1049.6L1306.7 1050.1M1407.6 1178L1400 1181.7L1407.6 1188.1L1423 1187.7L1427.8 1181.7L1423 1177.6L1407.6 1178M1459.6 1242.4L1459.1 1227.7L1458.7 1212.4L1453.7 1207.5L1448.4 1212.4L1449.1 1227.7L1449.2 1233.7M1505.9 1238.6L1499.8 1238.5L1494.4 1243.1L1499.8 1248.2L1514.5 1248.6M1498.6 1354.3L1499.8 1355.7L1502.6 1353.1M102 483.2L117.4 483L132.7 482.6L148.1 482L163.4 480.1L178.8 478.4L194.2 476.5L209.5 475.4L212.9 475L224.9 473.3L240.2 472.3L255.6 471.8L271 471.9L286.3 473.2L301.7 474.1L304.4 475L317 480.3L332.4 484.3L347.8 488.2L363.1 489.5L366.2 490.3L378.5 494.4L393.8 496.8L409.2 498.5L424.6 500.6L439.9 503.9L455.3 504.3L458.6 505.7L470.6 514.7L486 519.4L501.4 519.4L516.7 518.4L520.3 521.1L522.6 536.4L532.1 547.2L535.6 551.8L545.7 567.2L547.4 569.8L562.8 579.4L565.6 582.5L562.8 589.8L559.7 597.9L562.8 601L578.2 602.9L593.5 611.2L608.9 610.8L612.5 613.2L624.2 625.7L627.2 628.6L639.6 638.6L643.2 644L639.6 648.7L624.2 649.2L619.7 659.3L608.9 669.7L606.3 674.7L606.4 690.1L606.4 705.4L608.9 716.1L610.6 720.8L608.9 723L593.5 735.2L578.2 733.8L574.6 736.1L575.5 751.5L575.4 766.9L578.2 770.6L590.9 782.2L593.5 784.6L608.9 789.5L624.2 796L639.6 795.3L643.9 797.6L655 808.4L665.6 813L670.3 815.1L685.7 815.2L692.2 813L701 811.1L716.4 811.3L731.8 811.2L747.1 810.8L755.9 813L757.1 828.3L762.5 831.8L768.9 828.3L768.7 813L772.1 797.6L777.8 794.2L782.2 797.6L782.4 813L793.2 821.2L808.6 826.4L823.9 827.8L839.3 827L854.6 824L870 820.5L885.4 816L894.7 813L900.7 810.7L906.2 813L916.1 813.8L931.4 815.6L935.8 813L946.8 810L962.2 810.7L977.5 809.2L981.2 813L977.5 818.9L962.2 820L949.2 828.3L946.8 835.9L944.6 843.7L944.2 859L943.5 874.4L946.8 878.1L956.9 874.4L962.2 870.6L965.8 874.4L962.2 879.7L958.5 889.8L962.2 893.2L977.5 892.4L985.5 889.8L992.9 887.4L998.3 889.8L1008.2 895.8L1023.6 901.4L1039 901.9L1042.8 905.1L1054.3 916L1058 920.5L1054.3 931L1039 926.3L1035.1 935.9L1039 940.2L1054.3 939.9L1064.6 951.2L1069.7 956L1081.2 966.6L1085 969.5L1100.4 975.5L1115.8 979.1L1119.4 981.9L1131.1 993.9L1134.6 997.3L1131.1 1003.5L1128 1012.7L1128.3 1028L1128.2 1043.4L1127.6 1058.8L1131.1 1061.1L1146.5 1061.8L1157 1058.8L1161.8 1055.2L1167.4 1058.8L1161.8 1063L1158.3 1074.1L1161.8 1077.8L1173.4 1074.1L1177.2 1069L1180.2 1074.1L1192.6 1083.9L1193.6 1089.5L1194.6 1104.8L1207.9 1118.3L1210 1120.2L1223.3 1131.6L1238.6 1132.9L1241.4 1135.6L1247.2 1150.9L1252.5 1166.3L1254 1168.9L1265.9 1181.7L1269.4 1184.2L1282 1181.7L1284.7 1180.1L1286.1 1181.7L1284.7 1183.4L1280.8 1197L1284.7 1199.7L1291.5 1199M1312.1 1205.7L1315.4 1207.7L1330.8 1212L1332.2 1212.4L1346.2 1222.7L1348.8 1227.7L1359.5 1243.1L1361.5 1245.5L1376.9 1244.2L1392.2 1247.3L1407.6 1249.7L1423 1253.6L1438.3 1256.4L1441.4 1258.5L1453.7 1269.5L1459.5 1273.8L1469 1286.1L1471.1 1289.2L1472.3 1304.5L1469 1313.3L1467.3 1319.9L1467.2 1335.3L1466.6 1350.6L1469 1358.6L1471.1 1366M615.4 705.4L624.2 699.2L627.8 705.4L624.2 709.8L615.4 705.4M924.7 797.6L931.4 794L935.5 797.6L931.4 809.7L924.7 797.6M117.4 825.7L113.2 828.3L113.4 843.7L117.4 847.1L132.7 848.2L148.1 849.4L153.1 843.7L148.1 840.2L132.7 840L122.8 828.3L117.4 825.7M171.9 868.6L178.8 872.9L187 874.4L194.2 877.8L209.5 877.5L213.2 874.4L209.5 871.4L195.2 859L209.5 848.2L212.7 843.7L209.5 841.7L198.9 828.3L194.2 816.8L189.6 828.3L182.3 843.7L178.8 847.2L165.3 854.8M381.8 923L393.8 934.9L405.7 935.9L409.2 936.8L424.6 936.7L431.6 935.9L439.9 932.6L455.3 935L457.5 935.9L470.6 946.4L486 949.2L488.4 951.2L501.4 965.2L516.7 965.2L519.8 966.6L531.6 981.9L532.1 982.9L547.4 994L552.6 997.3L562.8 1006.5L573.6 1012.7L562.8 1018.1L559.7 1028L562.8 1031.2L575 1043.4L578.2 1047.5L588.4 1058.8L593.5 1061.2L608.9 1062.7L613.9 1058.8L608.9 1052L598.3 1043.4L596.6 1028L595.4 1012.7L597.1 997.3L601.7 981.9L604.8 966.6L607.3 951.2L608.9 941.8L610.2 935.9L611.4 920.5L608.9 912L606.8 905.1L593.5 891.8L588.2 889.8L578.2 887.4L562.8 888.6L553.8 889.8L547.4 890.2L532.1 891.7L516.7 895.1L501.4 896.3L486 896.1L471.1 905.1L470.6 905.6L466.5 905.1L455.3 903.8L439.9 904.6L424.6 893L409.2 890.4L393.8 890.4L378.5 891.8L374.5 889.8L363.1 878.2L361.1 874.4L362.6 859L351.3 843.7L347.8 842.4L332.4 842.2L328.2 843.7L317 847.8L301.7 850.9L286.3 856.8L281.1 859L284.6 874.4L286.3 879.2L301.7 888.5L304.7 889.8L317 901L329.1 905.1L332.4 905.7L347.8 907.1L361.8 914.3M1035.7 1033.6L1035.4 1043.4L1039 1046.6L1054.3 1046.5L1069.7 1046.7L1073.8 1043.4L1073.5 1028L1074.2 1012.7L1069.7 1007.5L1064.3 1012.7L1054.3 1023.2L1050.3 1023.2M1138.4 1012.7L1146.5 1007.6L1161.8 1007.8L1166.2 1012.7L1161.8 1018.9L1146.5 1020.1L1138.4 1012.7M1195.9 1064.7L1192.6 1065L1183.6 1058.8L1192.6 1053.9L1200.5 1043.4L1207.9 1038.8L1211.5 1043.4L1211.3 1053.9M624.2 1067.7L618.9 1074.1L624.2 1076.7L629.4 1074.1L624.2 1067.7M639.6 1084L636.8 1089.5L639.6 1091.4L645.4 1089.5L639.6 1084M1398.1 1094.2L1399.4 1104.8L1392.2 1111.8L1388.3 1104.8L1387.9 1094.8M1415.6 1104.8L1423 1101.3L1427.6 1104.8L1423 1114.4L1415.6 1104.8M1410.6 1139.1L1407.6 1139.1L1398.5 1150.9L1392.2 1154.6L1388.2 1150.9L1388.6 1135.6L1392.2 1128.5L1402.6 1120.2L1407.6 1115.1L1414.7 1120.2L1423 1127.3L1429.1 1120.2L1438.3 1115.9L1442.6 1120.2L1442.8 1135.6L1438.3 1139.7L1433.3 1139.6M1173.7 1155.7L1173.7 1166.3L1177.2 1170.6L1183.2 1166.3L1183.5 1153.9M1545.8 1144.2L1534.7 1150.9L1545.8 1156.2L1549.8 1150.9L1545.8 1144.2M1292.9 1166.3L1300.1 1162.6L1303.8 1166.3L1300.1 1173.2L1292.9 1166.3M1192.6 1238.7L1190.6 1243.1L1192.6 1249.3L1197 1243.1L1192.6 1238.7M823.9 1316L819.8 1319.9L823.9 1325.8L828 1319.9L823.9 1316M834.8 1341.2L834.9 1350.6L839.3 1355.7L842.1 1350.6L843.3 1341M1192.6 1331.2L1188.2 1335.3L1192.6 1340.9L1197.8 1335.3L1192.6 1331.2M995.1 1366L995.7 1356.4M984.3 1338.5L981.4 1335.3L977.5 1332.4L970.4 1335.3L962.2 1346.4L951.8 1335.3L946.8 1332.7L931.4 1332.2L927.1 1335.3L928.7 1350.6L927 1366M1227.3 1366L1223.3 1361.6L1217.9 1366M1599.9 1366L1607.3 1355.6L1609.4 1350.6L1607.3 1340.6L1605.1 1335.3L1607.3 1327.6L1609.9 1335.3L1622.6 1339.9L1624.9 1335.3L1624.6 1319.9L1622.6 1314.8L1607.3 1315.2L1601.3 1304.5L1594.2 1289.2L1591.9 1286.7L1578.9 1273.8L1576.6 1271.3L1567.6 1261.1M1554 1242.9L1548.1 1227.7L1545.8 1224.6L1530.5 1214.9L1515.1 1216.2L1511.2 1212.4L1515.1 1204.9L1525 1197L1526.4 1181.7L1530.5 1172.7L1533.1 1166.3L1530.5 1158.5L1527.4 1150.9L1526.4 1135.6L1530.5 1128.2L1535.6 1120.2L1530.5 1114.9L1524.8 1120.2L1515.1 1126.4L1499.8 1125.5L1495.4 1120.2L1499.8 1115L1510.5 1104.8L1515.1 1100.9L1530.5 1101.2L1539.4 1104.8L1545.8 1111L1553.9 1104.8L1561.2 1102.1L1569.9 1104.8L1576.6 1107.3L1584.2 1104.8L1591.9 1102.6L1598.7 1104.8L1607.3 1107.3L1614.3 1104.8L1622.6 1101.3L1638 1099.5M102 492L117.4 491.2L132.7 490.8L148.1 490.8L151.5 490.3L163.4 488.5L178.8 486.7L194.2 484.7L209.5 482.5L224.9 481.5L240.2 480.9L255.6 480.6L271 480.6L286.3 481L300.9 490.3L301.7 491.4L317 494.8L332.4 499L347.8 502.6L363.1 504.8L365.9 505.7L378.5 510L393.8 512.8L409.2 515.1L424.6 518.3L439.9 519.6L442.6 521.1L455.3 533.6L459.7 536.4L468.1 551.8L470.6 554.6L486 558.9L501.4 564.3L504 567.2L507.8 582.5L516.7 594.5L518.7 597.9L516.7 602.7L513.7 613.2L516.7 616.3L529.1 628.6L532.1 631.3L547.4 634.4L559.2 644L562.8 648.7L578.2 655.1L581 659.3L580.7 674.7L578.2 680.1L567.7 690.1L562.8 700.6L547.4 701.3L532.1 701.5L516.7 701.6L512.3 705.4L516.7 711L532.1 710.7L547.4 712.4L562.8 710.3L578.2 713.7L593.5 715L597.4 720.8L593.5 724.3L578.2 722.8L562.8 724.3L551.2 736.1L547.4 745.7L545 751.5L532.1 762.5L528.5 766.9L532.1 772.3L543.9 782.2L547.4 786.8L551.3 791.6M567.9 806.3L578.2 810.1L581.3 813L593.5 824L597.3 828.3L593.5 833.9L578.2 835.1L576.3 843.7L573.1 859L565.8 874.4L562.8 875.9L547.4 883.5L532.1 886.5L516.7 887.6L501.4 888.8L486 889.2L485.1 889.8L470.6 898.8L455.3 891.3L439.9 891.7L437 889.8L424.6 876.6L409.2 876L393.8 877.4L390.4 874.4L378.5 861.5L376.4 859L363.1 844.7L362.4 843.7L347.8 838.3L332.4 838L317 843.4L316.2 843.7L301.7 847.6L286.3 851.1L271 857.3L267.4 859L262.6 874.4L257.9 889.8L255.6 894.7L243.8 905.1L244.1 920.5L240.2 924.9L230.3 935.8L224.9 940.1L209.5 940.2L205.2 935.8L205.8 920.5L209.5 914.4L221.2 905.1L209.5 898.3L205.8 889.8L209.5 888.1L224.9 881L227.3 874.4L224.9 872.5L209.5 861.2L207 859L209.5 857.1L219.1 843.7L209.5 837.7L202 828.3L196.2 813L194.2 810.9L192.2 813L186.5 828.3L178.8 840.9L164.8 828.3L163.4 826.3L148.1 827.3L136.2 813L135.7 797.6L132.7 795.2L129.9 797.6L129.6 813L117.4 819.9L104 828.3L102 839.5M486 717.1L481.8 720.8L486 726.8L501.4 725.9L506.8 720.8L501.4 716.5L486 717.1M436.4 747.5L436.5 751.5L436.4 766.9L439.9 771L455.3 770.9L460.1 766.9L455.3 761.1L446.3 751.5L446.1 736.1L444.9 735.4M910.9 828.3L916.1 824.7L920.6 828.3L916.1 834.3L910.9 828.3M102 853.9L117.4 857.7L121.2 859L132.7 871.6L148.1 870.5L151.6 874.4L151.7 889.8L148.1 895L137.1 894.2M119.5 906.5L117.4 907.8L102 909M240.2 856.7L231.4 859L240.2 868.9L244.9 859L240.2 856.7M621.1 951.2L624.2 946.7L633.3 951.2L624.2 957.4L621.1 951.2M102 976.8L106.6 981.9L102 987.2M944.2 1030.5L946.8 1032.9L949.4 1030.5M102 1039L106.7 1043.4L102 1053.6M102 1067.6L112.1 1069.1M132.9 1077.5L137.8 1074.1L148.1 1067.5L163.4 1061.4L166.9 1058.8L174.7 1043.4L178.8 1040.2L186.3 1043.4L194.2 1046.4L197.5 1043.4L209.5 1030.3L211.9 1028L224.9 1015.4L227.2 1012.7L234.7 997.3L240.2 990.8L250.2 981.9L255.6 977.4L271 969L275.4 966.6L286.3 959.4L301.7 954.3L305.1 951.2L313.5 935.9L312 920.5L317 917.8L332.4 918.2L347.8 917.8L363.1 919L367.8 920.5L378.5 932.4L382 935.9L393.8 949.5L398.2 951.2L409.2 960.1L418.7 951.2L424.6 949.1L439.9 948.7L444.1 951.2L455.3 965.4L470.6 964.4L473.8 966.6L486 980.3L501.4 980.2L516.7 977.9L520 981.9L518.8 997.3L532.1 1007.5L537.7 1012.7L547.4 1022.1L549.6 1028L562.8 1041.7L564.5 1043.4L575.9 1058.8L578.2 1059.9L593.5 1067.1L607.3 1074.1L608.9 1075.9L624.2 1082.5L631.1 1089.5L639.6 1095.4L655 1091.7L670.3 1092.3L681.2 1104.8L685.7 1108.2L690.4 1104.8L701 1093.9L704.8 1089.5L701 1084.8L685.7 1084.5L670.3 1082.5L658.2 1074.1L655 1068.7L648.8 1058.8L639.6 1046.9L637.7 1043.4L624.2 1032.6L621.4 1028L624.2 1021.2L632.3 1012.7L624.2 1004L621.7 997.3L624.2 992.4L637.7 981.9L637 966.6L639.6 962L647.5 966.6L655 970.6L670.3 970.9M665.1 956.9L655 958.3L651 951.2L650.8 935.9L655 931.8L664.2 935.9L670.3 945L685.7 939.7L689.1 935.8L693.4 926.9M706.9 908.9L710.3 905.1L716.4 898.4L727.1 889.8L727.2 874.4L731.8 870.7L736.6 870.8M750.1 878.7L747.1 882.7L737 889.8L747.1 893.2L754.4 889.8L762.5 883.9L777.8 885.2L785.3 889.8L793.2 892.6L798.7 889.8L808.6 881.3L818.9 874.4L823.9 872L831 874.4L839.3 877.3L844.7 874.4L849.7 859L854.6 856.3L870 856.3L875.4 859L885.4 871.4L900.7 870.2L904.3 874.4L900.7 885.5L896.8 889.8L885.4 896.6L881.2 905.1L885.4 908.9L900.7 908.4L909.1 905.1L916.1 901.5L920.1 901.5M933.4 910.9L931.4 917L916.1 911.2L912.1 920.5L916.1 923.7L931.4 923.1L943.5 935.9L946.8 938.2L962.2 943L977.5 948.6L980.7 951.2L992.9 963L996 966.6L992.9 973.4L989.9 981.9L989.1 997.3L992.9 1000.9L1004.1 997.3L1008.2 992L1023.6 992.8L1026.9 997.3L1026 1012.7L1023.6 1020L1020.5 1028L1023.1 1043.4L1008.2 1055.7L1004.8 1058.8L1008.2 1063L1023.6 1061.8L1032.5 1058.8L1039 1057.8L1043.4 1058.8L1054.3 1064.6L1069.7 1063.6L1085 1060.7L1092.1 1058.8L1095.7 1043.4L1095.8 1028L1100.4 1023.6L1104.7 1028L1104.3 1043.4L1103.3 1058.8L1115.8 1072.2L1131.1 1072.2L1134.5 1074.1L1131.1 1086.4L1129.5 1089.5L1131.1 1091.5L1141.9 1104.8L1144.3 1120.2L1146.5 1123.1L1158.5 1135.6L1161 1150.9L1161.8 1153.5L1164.1 1166.3L1175.5 1181.7L1177.2 1184.1L1190.5 1197L1177.2 1205.8L1173.8 1212.4L1177.2 1216.9L1192.6 1217.2L1203.5 1227.7L1192.6 1229.9L1186.8 1243.1L1188.6 1258.5L1192.6 1261.2L1198.3 1258.5L1205.9 1243.1L1207.9 1232.4L1211.3 1227.7L1223.3 1216.9L1226.5 1212.4L1223.3 1203.1L1207.9 1203L1201.3 1197L1207.9 1193.7L1218.3 1181.7L1223.3 1178.6L1232.1 1166.3L1238.6 1162.7L1241.4 1166.3L1241.9 1181.7L1254 1190.5L1266.4 1197L1269.4 1197.4L1284.7 1207.9L1300.1 1211.3L1302.4 1212.4L1315.4 1216.6L1330.8 1218.4L1341.1 1227.7L1346.2 1241.5L1347.2 1243.1L1346.2 1247.7L1343.2 1258.5L1346.2 1260.6L1361.5 1259.7L1376.3 1273.8L1376.9 1275.9L1392.2 1283.9L1403.3 1289.2L1407.6 1292.1L1423 1301.7L1430.2 1289.2L1438.3 1285.6L1441.9 1289.2L1441.4 1304.5L1438.3 1309.9L1425.1 1319.9L1423 1327.8L1421.3 1335.3L1417.5 1350.6L1407.6 1361.6L1405.2 1366M1008.2 1083.6L1006.3 1089.5L1008.2 1093.1L1013.8 1089.5L1008.2 1083.6M931.4 1100L927.4 1104.8L931.4 1108.8L946.8 1109.7L952.1 1104.8L946.8 1099.8L931.4 1100M102 1108.9L117.4 1109.1L122 1104.8L122.4 1089.5L117.4 1080.5L108 1089.5L102 1094.6M946.8 1144.5L944.9 1150.9L946.8 1152.9L948.8 1150.9L946.8 1144.5M146 1184.7L148.1 1187L151 1184.2M178.8 1191.7L173.2 1197L178.8 1202.1L183.8 1197L178.8 1191.7M916.1 1209L911.9 1212.4L916.1 1216L919.2 1212.4L916.1 1209M900.7 1223.5L896.8 1227.7L900.7 1230.5L904.4 1227.7L900.7 1223.5M823.9 1268.5L818.1 1273.8L823.9 1278.1L826.4 1273.8L823.9 1268.5M1638 1262.1L1622.6 1261.1L1619.5 1258.5L1607.3 1245.2L1605.1 1243.1L1591.9 1230.7L1589.5 1227.7L1576.6 1216.6L1573.4 1212.4L1573.1 1197L1576.6 1192.5L1587.9 1197L1591.9 1204L1594.9 1197L1603.4 1182.2M1619.3 1166L1622.6 1163.7L1638 1162.6M1254 1301.7L1248 1304.5L1254 1311.3L1258.6 1304.5L1254 1301.7M872.2 1353.4L870 1355.8L854.6 1356L852.4 1350.6L854.6 1344.9L858.6 1344.9M1258.6 1350.5L1258.1 1350.6L1269.4 1361.5L1272.2 1355.3M748.8 1366L749.2 1350.6L747.1 1345L743.1 1345.4M723.4 1354L716.4 1361.7L712.9 1366M1035.8 1366L1039 1360.3L1042.7 1350.6L1039 1347L1023.6 1345.8L1008.2 1337L1006.1 1335.3L992.9 1327.2L977.5 1320.5L974.2 1319.9L962.2 1315.1L946.8 1309.8L935.7 1304.5L933.5 1303.7M911.3 1306.4L900.7 1306.9L892.1 1304.5L900.7 1301.5L905.6 1289.2L900.7 1286.7L885.4 1286.3L881.1 1289.2L870 1302.6L865.3 1304.5L854.6 1312L846 1319.9L839.3 1321.5L837.8 1319.9L839.3 1311.6L845.6 1304.5L839.3 1302.3L833.5 1304.5L823.9 1306.6L816.1 1304.5L808.6 1302.3L806.3 1304.5L808.6 1313.7L810 1319.9L812.1 1335.3L808.6 1342L806.7 1350.6L806.7 1366M1165.8 1366L1177.2 1360.3L1180.8 1366M1251.2 1366L1251.5 1350.6L1238.6 1338.5L1235.7 1335.3L1238.6 1330.3L1242.5 1319.9L1238.6 1316.6L1223.3 1317.9L1207.9 1318.5L1202.6 1318.5M1181.6 1324.6L1177.2 1327.5L1161.8 1331.4L1160.6 1335.3L1161.8 1346.7L1164.4 1350.6L1161.8 1358.3L1158.5 1350.6L1146.5 1349.1L1142.2 1350.6L1142.7 1366M1288.7 1361.8L1284.7 1361.9L1274.8 1366M1635.5 1366L1635.2 1350.6L1635.4 1348.5M1636 1325.8L1635.8 1319.9L1638 1314.9M102 501L117.4 497.7L132.7 499.9L148.1 497.7L163.4 496.7L178.8 495.6L194.2 492.1L205.5 490.3L209.5 489.5L224.9 489.5L240.2 489.4L253 489.2M288.1 489.3L289.7 490.3L299.6 505.7L301.7 506.7L317 510.2L332.4 514.5L347.8 518.6L356.9 521.1L363.1 522.9L378.5 527L393.8 530.1L409.2 533.7L424.6 534.7L427.2 536.4L439.9 549.7L441.9 551.8L446.9 567.2L453.8 582.5L455.3 585.6L470.6 594.2L473.6 597.9L470.6 608.8L468.7 613.2L467.4 628.6L470.6 632L486 632.7L501.4 642.1L516.7 640.9L520 644L532.1 655.7L535.4 659.3L535.6 674.7L532.1 678.4L516.7 677.1L504.4 690.1L501.4 692.4L486 697.7L470.6 704.4L467.9 705.4L455.3 717.1L439.9 719.7L437.3 720.8L424.6 734.8L423.4 736.1L409.2 747.9L407.3 751.5L407.1 766.9L409.2 773.1L415.8 782.2L424.6 793.7L428.1 797.6L424.6 807.3L420.3 813L424.6 819.6L431.2 828.3L424.6 832.3L409.2 831.1L401.6 828.3L393.8 824.9L378.5 826L370.2 828.3L363.1 829.3L347.8 834.2L332.4 833.8L317 839.1L304.2 843.7L301.7 844.4L286.3 845.3L271 850.8L255.6 858.4L240.2 850.5L226 843.7L224.9 843.1L209.5 833.8L205.2 828.3L200.3 813L194.2 806.8L188.4 813L183.4 828.3L178.8 835.9L170.4 828.3L163.4 817.6L148.1 813.7L147.5 813L141.7 797.6L132.7 790.3L124.3 797.6L119.3 813L117.4 814.1L102 814.4M511.8 736.1L516.7 731.5L532.1 731.3L536 736.1L532.1 740.8L516.7 741.2L511.8 736.1M447.9 813L455.3 810.8L461.4 813L470.6 815L477.4 813L486 808.8L501.4 811L504.7 813L516.7 819.8L526.7 828.3L532.1 833.7L538.9 843.7L547.4 853.3L549.8 859L551.9 874.4L547.4 876.8L532.1 881.7L516.7 882.2L501.4 882.7L486 882.8L474.5 889.8L470.6 892.2L466.1 889.8L455.3 875.1L454.1 874.4L441.7 859L439.9 853.1L434.1 843.7L439.9 834.9L443.2 828.3L447.9 813M923.1 966.6L931.4 962.7L935.7 966.6L931.4 973.6L923.1 966.6M955.8 997.3L962.2 992.7L966.5 997.3L962.2 1003.5L955.8 997.3M388.2 1012.7L393.8 1008.8L400.2 1012.7L393.8 1023.5L388.2 1012.7M220.8 1058.8L224.9 1054.7L232.4 1058.8L224.9 1065.7L220.8 1058.8M220.6 1089.5L224.9 1083.8L240.2 1083.1L251 1089.5L240.2 1094.8L224.9 1094.5L220.6 1089.5M762.5 1085.5L755.9 1089.5L762.5 1096.2L766.7 1089.5L762.5 1085.5M701 1124.1L697.6 1135.6L701 1139.5L712.7 1150.9L716.4 1156.1L723 1150.9L721.6 1135.6L716.4 1126.4L701 1124.1M728.1 1165.2L727.3 1166.3L727.8 1181.7L727.5 1197L731.8 1201.5L747.1 1201.7L752.2 1197L752.1 1181.8M946.8 1179L941.4 1181.7L946.8 1185.8L950.3 1181.7L946.8 1179M297.1 1212.4L301.7 1204.9L308.9 1212.4L301.7 1217.4L297.1 1212.4M870 1207.7L864.6 1212.4L870 1215.3L876.1 1212.4L870 1207.7M902.4 1213.4L900.7 1215.2L889 1227.7L900.7 1236.1L911.7 1227.7L916.1 1223.4L923 1215.3M1085 1208.6L1080.7 1212.4L1080.9 1227.7L1085 1235.2L1091.3 1227.7L1090.3 1212.4L1085 1208.6M1267.4 1275.2L1265.2 1273.8L1254 1262.5L1251.6 1258.5L1254 1254.1L1257.3 1243.1L1254 1242.1L1240.9 1227.7L1251.1 1212.4L1254 1210.5L1269.4 1203.4L1281.2 1212.4L1284.7 1216.2L1300.1 1227.1L1315.4 1225.9L1330.8 1224.8L1334.1 1227.7L1333.5 1243.1L1330.8 1251.2L1315.4 1257.3L1311.3 1258.5L1300.8 1270.3M326.5 1258.5L332.4 1253.4L347.8 1250.8L363.1 1249.5L369.5 1258.5L368 1273.8L363.1 1278.2L353.9 1273.8L347.8 1265.9L332.4 1268.4L326.5 1258.5M588.3 1304.8L593.5 1308.3L603 1319.9L608.9 1323.8L614.1 1319.9L624.2 1308.8L628.1 1304.5L627.6 1289.2L628.1 1273.8L628.9 1258.5L624.2 1254.5L618 1258.5L608.9 1270.5L593.5 1270.3L592.4 1271.1M854.6 1255.5L851.9 1258.5L854.6 1261.1L860.5 1258.5L854.6 1255.5M333.6 1282.6L336.8 1289.2L336.8 1304.5L332.4 1308.6L317 1308.1L301.7 1308.6L296.7 1304.5L286.3 1294.8L282.4 1289.2L282.2 1273.8L286.3 1269.4L301.7 1270L303 1270M1224 1284L1228.7 1289.2L1223.3 1292.8L1207.9 1292.7L1192.6 1292.8L1187.3 1289.2L1186.4 1273.8L1192.6 1271.8L1193.4 1272.1M1363.9 1272.6L1365.1 1273.8L1361.5 1280.7L1346.2 1280.9L1335.5 1289.2L1330.8 1293.9L1315.4 1293.3L1309.4 1289.2L1315.4 1278.9L1320.5 1273.8L1329.8 1269.1M102 1285L106.7 1289.2L102 1298.2M562.8 1285L557.9 1289.2L556.7 1304.6L562.8 1309.5L570.6 1304.5L571.7 1289.2L562.8 1285M819.8 1292.1L808.6 1291.5L802.7 1289.2L808.2 1282.4M1248.9 1289.2L1254 1280L1260.9 1289.2L1254 1291L1248.9 1289.2M787.1 1304.5L793.2 1298.3L795.7 1304.6L793.2 1309.5L787.1 1304.5M102 1312.8L117.4 1314.8L126.4 1319.9L132.7 1327.5L141.1 1319.9L148.1 1316.8L163.4 1311.5L172.7 1304.5L178.8 1301.8L186.2 1304.5L194.2 1308.3L209.5 1314L219.9 1319.9L222.3 1321.9M253.6 1338.4L255.6 1339.5L260.4 1335.3L271 1330.7L275.5 1335.3L273.9 1350.6L274.4 1366M1265 1319.9L1269.4 1313.6L1275.2 1319.9L1269.4 1324.3L1265 1319.9M1140.3 1335.3L1146.5 1329L1149.7 1335.3L1146.5 1338.5L1140.3 1335.3M229.9 1366L224.9 1360.7L209.5 1362.5L194.2 1363.4L179.1 1363.2M145.7 1352.3L143.7 1350.6L132.7 1339.7L117.4 1339.5L111.7 1335.3L102 1325M514 1366L516.7 1360.9L524 1350.6L532.1 1340.4L535.3 1335.3L535.9 1319.9L532.1 1315.1L521.1 1304.5L516.7 1301.9L501.4 1297.9L486 1291.7L481.8 1289.2L470.6 1281.9L459.2 1273.8L455.3 1271.4L439.9 1266.9L424.6 1261.3L409.2 1261.8L403.3 1258.5L409.2 1252.1L413.8 1243.1L409.2 1239.3L393.8 1239.7L384.3 1243.1L378.5 1247.9L371.2 1243.1L363.1 1238L352.5 1227.7L347.8 1220L343.2 1212.4L347.8 1207.4L351.6 1197L352.1 1181.7L347.8 1177.4L340.2 1181.7L337.4 1197L332.4 1201.5L325.9 1197L317 1190L301.7 1186.6L298.2 1181.7L301.7 1172.6L305 1166.3L301.7 1162.2L290.6 1150.9L286.3 1145L278.9 1135.6L271 1124.9L255.6 1124.7L251.4 1120.2L255.6 1110.8L271 1115L274.5 1104.8L271 1098.9L259.3 1089.5L258.8 1074.1L259.3 1058.8L263.4 1043.4L255.6 1036.9L252.1 1028L255.6 1024.3L271 1025.4L286.3 1021.3L296.2 1012.7L301.7 1009.9L308.9 1012.7L317 1017.9L332.4 1020.9L347.8 1024.7L356.3 1028L363.1 1030.4L378.5 1030.5L393.8 1030.7L409.2 1030.8L415 1028L422.7 1023.2M457.1 1022.2L464.4 1028L470.6 1030.5L476.6 1028L486 1021.2L501.4 1022.2L516.7 1026.3L532.1 1025.6L534.6 1028L547.4 1041.4L549.4 1043.4L562.8 1057.6L563.6 1058.8L578.2 1065.9L593.5 1073.1L595.5 1074.1L608.9 1088.8L624.2 1088.3L625.4 1089.5L639.6 1099.3L655 1104.2L657.4 1104.8L670.3 1111.4L685.7 1119.4L701 1118.2L713.8 1104.8L716.4 1099.8L723.4 1089.5L731.8 1081.6L735.4 1074.1L731.8 1069.8L720.9 1074.1L716.4 1079L714.1 1074.1L701 1062.5L697.8 1058.8L697.8 1043.4L701 1038.4L716.4 1032.5L718.9 1028L723.5 1012.7L728.5 997.3L731.8 994L747.1 988L762.5 985.1L765.6 981.9L768.6 966.6L774.3 951.2L777.8 948L793.2 947.2L808.6 942.5L823.9 939.4L832.4 935.9L839.3 933.5L848.1 935.9L854.6 938.1L859.3 935.9L870 933L873.9 935.9L885.4 949.2L888.1 951.2L900.7 963.9L903.9 966.6L913.8 981.9L913.4 997.3L912.7 1012.7L916.1 1014.2L930.4 1028L931.4 1031.7L945 1043.4L944.2 1058.8L931.4 1070.9L929.6 1074.1L916.1 1080.7L906.3 1089.5L916.1 1104.1L916.9 1104.8L931.4 1119.1L939.2 1120.2L943.8 1135.6L941 1150.9L946.8 1156.8L952.8 1150.9L950.2 1135.6L949 1120.2L962.2 1108.5L963.3 1104.8L962.2 1097.8L953 1089.5L962.2 1079.8L965.8 1074.1L962.2 1067.8L952.7 1058.8L956.5 1043.4L962.2 1040.2L972.2 1028L977.5 1024.7L992.9 1024.5L996 1028L1008.2 1038.7L1011.3 1043.4L1008.2 1045.9L993.8 1058.8L1002.3 1074.1L1002.5 1089.5L1008.2 1100.3L1023.6 1093.3L1039 1095.1L1054.3 1094.8L1063.7 1089.5L1069.7 1087.4L1085 1087L1089 1089.5L1100.4 1103.2L1102.1 1104.8L1113.5 1120.2L1115.8 1121.8L1131.1 1133.4L1132.7 1135.6L1143.9 1150.9L1146 1166.3L1144.6 1181.7L1143.3 1197L1146.5 1202.8L1147.8 1197L1161.8 1185L1166.9 1190.6M1167.4 1218.7L1174.7 1227.7L1177.2 1230.2L1183 1243.1L1177.2 1256.2L1165.7 1258.5L1161.8 1262.5L1155.7 1258.5L1153.7 1243.1L1147.6 1227.7L1146.5 1222.8L1131.1 1224.3L1126 1227.7L1115.8 1240.7L1100.4 1239.4L1095.8 1243.1L1096 1258.5L1100.4 1264.8L1115.8 1266.7L1119.7 1273.8L1119.4 1289.2L1131.1 1297.5L1135.2 1304.5L1131.1 1309.1L1115.8 1308.3L1100.4 1307.8L1093.2 1304.5L1085 1298L1069.7 1295.3L1054.3 1292.7L1045.9 1304.5L1039 1307.9L1033 1304.5L1030.5 1289.2L1039 1282.5L1044.8 1273.8L1054.3 1267.1L1060.2 1258.5L1054.3 1254.8L1039 1255.5L1023.6 1255.6L1019.1 1258.5L1008.2 1270.5L1003.7 1273.8L1008.2 1285.1L1015.9 1289.2L1014.6 1304.5L1008.2 1307.3L992.9 1307.1L977.5 1307.3L973.6 1304.5L974.7 1289.2L962.2 1281.7L951.3 1273.8L946.8 1271.9L931.4 1272.5L924.7 1273.8L916.1 1275.3L900.7 1274.8L892.9 1273.8L885.4 1271.2L877.2 1273.8L870 1275.9L854.6 1286.7L839.3 1286.8L831.8 1273.8L825.2 1258.5L823.9 1257.2L809.3 1243.1L823.9 1229.1L839.3 1232.4L841.7 1227.7L839.3 1221.6L827.4 1212.4L827.3 1197L825.8 1181.7L823.9 1176.4L811.7 1166.3L823.9 1156L825.7 1150.9L827.4 1135.6L828 1120.2L823.9 1117L816.5 1120.2L808.6 1132.5L798.2 1120.2L793.2 1117.3L777.8 1116.4L772.8 1120.2L773.5 1135.6L777.8 1141.7L788.7 1150.9L793.2 1156.4L801.5 1166.3L802.7 1181.7L803.4 1197L803.4 1212.4L801.3 1227.7L793.2 1238.2L785.8 1243.1L777.8 1246.8L762.5 1255.4L758.7 1258.5L747.1 1268.8L742.1 1273.8L731.8 1285L728 1289.2L719.8 1304.5L716.4 1307.5L701 1313.2L685.7 1316L681.9 1319.9L685.7 1328.7L688.4 1335.3L685.7 1339.1L674.8 1350.6L670.3 1360.8L668 1366M752.7 1366L754.6 1353M778.7 1336.6L792.7 1350.6L793.2 1352.9L796 1366M1343.5 1366L1343.2 1350.6L1342.4 1335.3L1346.2 1330.4L1361.5 1331.4L1364.1 1327.7M1389.9 1328.2L1392.2 1330.4L1395.5 1335.3L1392.2 1340.2L1379.6 1350.6L1376.9 1355.9L1364.6 1366M102 510.4L112.5 505.7L117.4 504.2L123.3 505.7L132.7 509.6L143.2 505.7L148.1 504.6L163.4 504.9L178.8 505L194.2 497.9L209.5 496.5L224.9 502.1L240.2 504L250.1 505.7L255.6 506.7L271 510.2L286.3 515.3L301.7 520.5L303.4 521.1L317 526.3L332.4 531L347.8 535.7L349.8 536.4L363.1 541.7L378.5 546.3L393.8 550.6L409.2 549.5L412.1 551.8L413.2 567.2L418.1 582.5L420.4 597.9L422.4 613.2L424.6 621.6L426.6 628.6L424.6 637.2L422.8 644L409.2 654.3L406.5 659.3L406.3 674.7L409.2 680.6L424.6 683.4L432.6 674.7L439.9 669.8L446.9 659.3L455.3 655.4L459.3 659.3L458.8 674.7L470.6 683.2L474.4 690.1L470.6 693L455.3 693L443.8 705.4L439.9 707.9L424.6 707.9L409.2 711.7L403.6 720.8L395.8 736.1L395.1 751.5L393.8 755.3L384.1 766.9L378.5 779.5L377 782.2L366.9 797.6L363.1 800.8L349.4 813L352.8 828.3L347.8 830.2L332.4 829.6L317 834.8L301.7 837.9L286.3 837.5L272.8 843.7L271 844.3L255.6 852.3L240.2 844.3L238.9 843.7L224.9 836.8L209.5 829.8L208.3 828.3L204.5 813L194.2 802.7L184.6 813L180.3 828.3L178.8 830.8L176 828.3L173.2 823.5M148.7 798.9L148.1 798.5L147.7 797.6L132.7 785.5L118.6 797.6L117.4 800.9L110.5 797.6L102 792.2M528.8 876.8L516.7 876.8L501.4 876.7L486 876.4L470.6 879.5L466.8 874.4L459.4 859L467.5 843.7L470.6 840.7L486 841L490.3 843.7L501.4 854.5L516.7 854.6L519.7 858.4M763.4 1063.1L762.5 1062.3L747.1 1063L743.4 1058.8L747.1 1053.2L759.2 1043.4L762.5 1039.4L769.7 1043.4L777.8 1049.8L780.4 1043.4L779.4 1028L788.5 1012.7L793.2 1007.5L805.4 997.3L808.6 995.1L823.9 988.9L839.3 987.1L854.6 988.5L866.3 997.3L870 998.9L881.7 1012.7L885.4 1015.3L900.7 1013.2L916.1 1019.8L924.6 1028L923.3 1043.4L927.9 1058.8L917.5 1074.1L916.1 1074.8L900.7 1087.9L895.9 1089.5L885.4 1100.4L870 1103.2L864.3 1104.8L854.6 1109.6L839.3 1106.3L836.1 1104.8L823.9 1100.8L808.6 1094.5L799.1 1089.5L793.2 1085.3L791.5 1084.3M613.6 1115.8L624.2 1119.1L633.1 1104.8L639.6 1103.3L644.1 1104.8L655 1117.6L658.5 1120.2L670.3 1133L673.4 1135.6L685.7 1147.3L689 1150.9L685.7 1158.1L673.1 1166.3L685.7 1175L689.3 1181.7L685.7 1186.2L670.3 1185.3L661.4 1181.7L655 1176.4L639.6 1178.8L624.2 1178.3L620.3 1181.7L612.4 1197L608.9 1199.7L597.8 1212.4L593.5 1215.3L584.1 1212.4L578.2 1209.8L573.1 1212.4L562.8 1218.8L547.4 1224.8L539.8 1227.7L536.9 1243.1L532.1 1246.6L516.7 1246.9L512.5 1243.1L513.5 1227.7L511.7 1212.4L505 1197L505.1 1181.7L501.4 1178L486 1178.3L470.6 1172.3L455.3 1168.8L451.2 1166.3L439.9 1156L431.5 1150.9L428.6 1135.6L424.6 1128.9L409.2 1127.9L403.6 1135.6L409.2 1140.5L419 1150.9L409.2 1154.8L393.8 1155L389.5 1150.9L389.7 1135.6L378.5 1126L374.4 1120.2L378.5 1115.2L389.2 1104.8L393.8 1100.8L403 1104.8L409.2 1114.6L424.6 1111L427.9 1104.8L429.2 1089.5L437.1 1074.1L435.8 1058.8L439.9 1055.7L455.3 1056.4L464.4 1058.8L470.6 1061.9L478.9 1058.8L486 1057.1L501.4 1057.3L516.7 1057.1L532.1 1056.3L535 1058.8L547.4 1072.9L562.8 1071.6L578.2 1071.9L582.9 1074.1L593.5 1085.9L596.7 1089.5L596.6 1090.7M972.8 1058.8L977.5 1054.3L981.8 1058.8L977.5 1064.7L972.8 1058.8M996.6 1094.9L992.9 1104.4L992.4 1104.8L992.9 1106.6L1004.3 1120.2L1008.2 1121.6L1023.6 1121.2L1039 1125.6L1048.2 1128.3M1081.6 1137.2L1085 1137.1L1089.1 1135.6L1100.4 1133.2L1103.5 1135.6L1115.8 1149.5L1131.1 1147.6L1133.8 1150.9L1133.2 1166.3L1131.1 1171.6L1121.9 1181.7L1115.8 1191.2L1100.4 1196.3L1085 1196.1L1080.5 1197L1069.7 1203.5L1054.3 1210.3L1052.2 1212.4L1041 1227.7L1039 1229.1L1023.6 1234.7L1008.2 1238.9L992.9 1241.1L977.5 1241.5L962.2 1241.1L955.2 1243.1L946.8 1244.8L931.4 1245.5L916.1 1246.9L900.7 1247.6L885.4 1247.3L879.2 1243.1L885.4 1238.4L900.7 1241.7L916.1 1238.3L919.4 1227.7L931.4 1212.9L933.3 1212.4L931.4 1211.9L918.3 1197L931.4 1182.4L946.8 1194.1L957.2 1181.7L946.8 1173.8L931.4 1173.4L916.1 1173.7L911.5 1181.7L900.7 1184.8L885.4 1185.3L870 1185.6L854.6 1185.7L839.3 1186L836.8 1181.7L835.8 1166.3L836.7 1150.9L839.3 1146.1L846.2 1150.9L847.1 1166.3L854.6 1175.2L870 1175.4L885.4 1175L895.5 1166.3L900.7 1161.7L916.1 1160.8L916.8 1150.9L925.2 1135.6L931.4 1132.4L933.8 1135.6L937.2 1150.9L946.8 1160.7L959.5 1166.3L962.2 1170.9L965.2 1166.3L962.2 1163.4L956.8 1150.9L961.7 1135.6L962.2 1134.1L977.5 1121.6L981.5 1120.2L977.5 1119.1L969 1104.8L977.5 1092.3L979.4 1090.5M1157.2 1197L1161.8 1193L1165.5 1197L1161.8 1202.3L1157.2 1197M1110.1 1212.4L1115.8 1202.1L1120.1 1212.4L1115.8 1216.1L1110.1 1212.4M1263.9 1212.4L1269.4 1209.4L1273.3 1212.4L1269.4 1219.1L1263.9 1212.4M852.3 1227.7L854.6 1222.9L870 1225.6L874.4 1227.7L870 1233.5L860.2 1243.1L854.6 1245.2L850.1 1243.1L852.3 1227.7M1157.4 1227.7L1161.8 1222.9L1165.8 1227.7L1161.8 1232.7L1157.4 1227.7M1250.2 1227.7L1254 1222.9L1260 1227.7L1254 1231.9L1250.2 1227.7M820 1243.1L823.9 1239.4L830.5 1243.1L823.9 1246.8L820 1243.1M1171.9 1243.1L1177.2 1238.8L1179.1 1243.1L1177.2 1247.5L1171.9 1243.1M1294.5 1243.1L1300.1 1239.4L1315.4 1237.9L1320.6 1243.1L1315.4 1247.2L1300.1 1247.8L1294.5 1243.1M855.9 1271.4L859.1 1273.8L854.6 1277.4L839.3 1277.5L837.2 1273.8L836.4 1262.2M189.2 1335.3L194.2 1330.7L198.9 1335.3L194.2 1339.9L189.2 1335.3M756.6 1366L760.7 1350.6L762.5 1347.1L777.8 1347.7L780.8 1350.6L788.1 1366M102 520.3L117.4 520.1L132.7 520.6L148.1 519.9L163.4 518.8L178.8 517.4L189.9 505.7L194.2 503.6L209.5 503.5L214.3 505.7L224.9 516.3L240.2 519.1L249.3 521.1L255.6 522.8L271 527.6L286.3 533L296.1 536.4L301.7 538.6L317 544.1L332.4 549.5L338 551.8L347.8 556.8L360.8 567.2L363.1 569.2L369 567.2L378.5 564.9L393.8 563.9L397.3 567.2L393.8 574.6L383.2 582.5L387.4 597.9L389.2 613.2L389.9 628.6L389 644L386.4 659.3L378.5 670.7L376.5 674.7L377.3 690.1L374.5 705.4L369.6 720.8L364.5 736.1L364.6 738.2M347.7 763.9L332.4 762.9L329.5 766.9L330.2 782.2L330.5 797.6L318.1 813L323.5 828.3L317 830.5L301.7 830.5L286.3 829L271 831.7L260.6 843.7L255.6 846.3L250.6 843.7L240.2 829.5L224.9 830.5L219.4 828.3L209.5 817.1L208.6 813L194.2 798.6L180.7 813L178.8 820.6L174.9 813L163.4 799.8L160.3 797.6L163.4 789.5L166.7 782.2L163.4 779.7L151 782.2L148.1 783L146 782.2L132.7 777.2L117.4 774.9L106 766.9L102 764.7M338.7 782.2L347.8 770.2L350.7 782.2L347.8 785.7L338.7 782.2M466.9 859L470.6 853.4L476 859L470.6 865.5L466.9 859M888.2 1076.1L885.4 1075.9L870 1077.1L854.6 1079.7L839.3 1078.8L823.9 1075.3L822 1074.1L808.6 1061L806.9 1058.8L807.2 1043.4L808.6 1040.9L818.4 1028L823.9 1023.5L839.3 1017.3L854.6 1016.6L870 1020.2L885.4 1027.5L900.7 1025.5L916.1 1025.4L918.8 1028L916.1 1034.6L901.6 1043.4L916.1 1053.2L919.2 1058.8L917.3 1061.5M988.7 1089.5L992.9 1086L994.8 1089.5L992.9 1094.5L988.7 1089.5M974.7 1104.8L977.5 1100.7L982.5 1104.8L977.5 1109.6L974.7 1104.8M1032.6 1193.3L1031 1197L1026.5 1212.4L1023.6 1214.7L1008.2 1213.4L992.9 1214.1L987.3 1212.4L977.5 1207.2L970.3 1197L969.3 1181.7L975.2 1166.3L962.2 1154L960.8 1150.9L962.2 1147L974.5 1135.6L977.5 1132.9L992.9 1133.3L1008.2 1133.8L1012 1135.6L1023.6 1149.5L1026.1 1150.9L1039 1164.1L1054.3 1162.5L1058.7 1166.3L1054.3 1171.4L1053.6 1171.5M942 1166.3L946.8 1164.6L950.6 1166.3L946.8 1168.5L942 1166.3M1112 1174.4L1104.3 1181.7L1100.4 1184.8L1085 1184.6L1079.6 1181.7L1085 1175.5L1094.7 1166.3L1098.4 1163.8M927.3 1197L931.4 1192.4L937.8 1197L931.4 1201.7L927.3 1197M927.5 1227.7L931.4 1222.9L937.4 1227.7L931.4 1233.1L927.5 1227.7M760.5 1366L762.5 1359.5L777.8 1360L781.1 1366M102 538.7L117.4 538.2L132.7 537.6L148.1 536.8L153.4 536.4L163.4 536L178.8 534.9L194.2 533.7L209.5 533.7L224.9 535.4L230.4 536.4L240.2 539.1L255.6 543.9L266.5 547.5M299.6 560.1L301.7 560.9L317 566.2L319.3 567.2L332.4 574.9L342.6 582.5L347.8 588.7L353.9 597.9L359.5 613.2L362.8 628.6L363.1 637.3L363.3 644L363.1 645.1L360.2 659.3L354.5 674.7L347.8 690L347.7 690.1L339 705.4L332.4 717L329.9 720.8L320.6 736.1L317 743L313.2 751.5L308.9 766.9L306.1 782.2L301.7 796.2L301.1 797.6L286.3 810.1L280.7 813L271 815.5L255.6 816.6L240.7 813L240.2 812.8L224.9 801.8L218.5 797.6L209.5 791L194.2 784.3L188.5 782.2L178.8 776.5L163.4 767.9L157.7 766.9L148.1 763.1L132.7 758.9L117.4 755.1L102 751.6" fill="none" stroke="#000" stroke-width="2.2" stroke-linejoin="round"/>
<path d="M189.6 568.4L183.4 548.7L181.9 530.3L188 513.4L197.2 502.6L212.6 493.4L228 485.7L246.4 478L261.7 465.8L264.8 458.1L258.7 453.5L263.3 462.7L280.2 456.5L290.9 453.5L307.8 451L326.3 456.5L341.6 458.1L352.4 459.6L360 455L369.3 465.8L381.6 470.4L393.8 467.3L403.1 471.9L412.3 465.8L421.5 467.3L427.6 475L436.8 473.4L430.7 464.2L421.5 456.5L424.6 445.8L415.3 442.7L427.6 438.1L443 432L458.4 433.5L470.6 424.3L473.7 435L489.1 435L504.4 432L519.8 432L535.2 436.6L547.4 445.8L553.6 454.1L562.8 455.9L578.2 447.3L590.4 441.8L602.7 447.3L615 461.1L627.3 471.9L633.5 484.2L631.9 499.6L628.8 510.3L638.1 518L635 508.8L641.1 513.4L636.5 524.1L645.7 539.5L653.4 550.3L661.1 561L665.7 571.8L676.5 579.4L682.6 593.3L694.9 593.3L704.1 591.7L707.2 582.5L711.8 573.3L714.9 557.9L715.5 542.6L710.3 527.2L702.6 508.8L699.5 493.4L693.4 482.7L685.7 468.8L678 450.4L673.4 432L671.9 416.6L676.5 401.2L682.6 387.4L690.3 379.7L701 370.5L716.4 361.3L728.7 352.1L741 342.9L748.7 332.1L762.5 326L777.8 325L782.4 316.7L793.2 307.5L808.6 301.4L820.8 299.8L827 293.7L839.3 287.6L853.1 282.9L855.3 272.2L847 253.8L840.8 241.5L839.3 231.6M827 293.7L817.8 290.6L823.9 281.4L839.3 278.3L845.4 272.2L843.9 261.4L830.1 258.4L839.3 253.8L842.4 244.5M839.3 231.6L830.1 230.7L828.5 220L830.1 210.7L828.5 200L823.9 189.2L825.5 176.9L823.9 164.7L830.1 157L837.7 153.9L834.7 167.7L830.1 176.9L833.1 187.7L842.4 195.4L843.9 204.6L839.3 220L840.2 225.5L848.5 213.8L857.7 201.5L866.9 189.2L867.5 175.4L860.8 167.7L854.6 157L853.1 149.3L866.9 161.6L873.1 169.3L882.3 160L893 149.3L899.2 138.5L900.7 130.9M189.6 568.4L178.8 588.7L172.7 610.2L171.1 634.7L169.6 662.4L168 680.8L177.3 699.3L184.9 717.7L191.1 733.1L206.4 754.6L215.7 769.9L221.8 777.6L231 788.4L249.5 791.4L261.7 797.6L272.5 808.3L289.4 802.2L307.8 799.1L326.3 794.5L347.8 791.4L363.1 797.6L369.3 788.4L381.6 773L389.2 757.6L395.4 736.1L398.4 720.8L415.3 713.1L439.9 710L464.5 703.9L486 705.4L501.4 703.9L507.5 714.6L502.9 733.1L489.1 745.4L487.5 763.8L479.9 782.2L475.2 803.7L467.6 797.6L461.4 799.1L467.6 809.9L463 828.3L461.4 845.2L453.7 865.2L443 877.5L452.2 883.6L464.5 883.6L479.9 877.5L492.1 880.5L507.5 881.2L525.9 879L541.3 875.9L562.8 875.3L581.2 880.5L596.6 891.3L612 899L619.6 905.7L615 923.6L608.9 945.1L607.3 966.6L602.7 985L602.7 1003.4L598.1 1018.8L604.3 1031.1L613.5 1049.5L627.3 1066.4L642.7 1083.3L651.9 1089.5L664.2 1089.5L679.5 1095.6L694.9 1087.9L716.4 1080.3L730.2 1071L747.1 1075.6L765.6 1077.2L784 1091L797.8 1100.2L810.1 1114.1L814.7 1121.7L814.7 1104.8L827 1091L842.4 1077.2L851.6 1064.9L853.1 1046.5L866.9 1032.6L876.1 1026.5L891.5 1025L896.1 1018.8L916.1 1020.3L931.4 1012.7L949.9 1001.9L963.7 991.2L974.4 983.5L988.3 994.2L982.1 1005L965.2 1009.6L963.7 1023.4L974.4 1029.6L976 1037.2L965.2 1049.5L960.6 1064.9L971.4 1083.3L986.7 1087.9L991.3 1071L983.7 1049.5L979.1 1032.6L983.7 1028L996 1021.9L1014.4 1014.2L1015.9 1000.4L1023.6 991.2L1031.3 1000.4L1029.7 1012.7L1045.1 1012.7L1060.5 1015.7L1074.3 1025L1078.9 1040.3L1091.2 1043.4L1109.6 1041.9L1128 1040.3L1143.4 1041.9L1149.6 1049.5L1168 1055.7L1186.4 1054.1L1198.7 1046.5L1214.1 1044.9L1201.8 1038.8L1226.4 1037.2L1247.9 1036.6L1272.4 1036.6L1257.1 1043.4L1241.7 1043.4L1250.9 1054.1L1263.2 1061.8L1281.6 1063.4L1300.1 1074.1L1306.2 1086.4L1301.6 1101.8L1321.6 1103.3L1336.9 1111L1355.4 1120.2L1373.8 1138.6L1378.4 1154L1392.2 1160.1L1407.6 1172.4L1418.4 1181.7L1435.2 1183.2L1453.7 1186.9L1475.2 1183.2L1493.6 1183.2L1512 1187.8L1527.4 1193.9L1545.8 1198.5L1561.2 1210.8L1576.6 1223.1L1587.3 1237L1601.1 1240L1607.3 1261.5L1613.4 1286.1L1619.6 1304.5L1631.9 1310.7L1641.1 1326.1M95.9 839.1L114.3 852.9L138.9 860.6L157.3 869.8L178.8 875.9L200.3 882.1L218.7 884.2L237.2 877.5L252.5 869.8L267.9 868.3L283.2 874.4L298.6 885.2L317 899L335.5 915.9L350.8 929.7L369.3 938L390.8 938.9L409.2 946.6L427.6 954.3L446.1 960.4L464.5 962L476.8 957.4L486 955.8L489.1 968.1L501.4 978.9L513.6 992.7L529 1009.6L539.8 1025L538.2 1040.3L536.7 1055.7L553.6 1064.9L562.8 1055.7L572 1068L584.3 1075.6L599.7 1084.9L605.8 1100.2L615 1107.9L624.2 1111L628.8 1118.7L645.7 1111L661.1 1115.6L673.4 1127.9L685.7 1132.5L688.8 1143.2L704.1 1141.7L716.4 1135.6L707.2 1120.2L704.1 1111L719.5 1100.2L731.8 1091L747.1 1092.5L762.5 1104.8L771.7 1111L765.6 1123.3L774.8 1135.6L787.1 1150.9L796.3 1169.4L794.7 1193.9L799.3 1218.5L799.3 1243.1L808.6 1249.2L793.2 1264.6L777.8 1286.1L759.4 1295.3L753.3 1313.8L737.9 1329.1L719.5 1338.3L713.3 1356.8L716.4 1372.1M564.3 694L581.2 683.9L593.5 670.1L615 660.9L639.6 654.7L664.2 654.7L682.6 656.3L701 660.9L722.5 665.5L737.9 677.8L759.4 679.3L780.9 693.1L802.4 700.8L820.8 713.1L845.4 717.7L863.9 730L885.4 740.7L896.1 745.4L882.3 750L860.8 754.6L839.3 753L811.6 754.6L787.1 756.1L799.3 742.3L802.4 731.5L780.9 730L765.6 720.8L756.3 702.3L734.8 700.8L710.3 696.2L698 688.5L676.5 685.4L658 679.3L648.8 677.8L664.2 674.7L645.7 668.5L624.2 680.8L605.8 683.9L590.4 693.1L578.2 696.2L564.3 694M621.2 696.2L636.5 693.1L638.1 702.3L627.3 706.9L621.2 702.3L621.2 696.2M767.1 802.2L780.9 797L802.4 799.1L820.8 805.3L833.1 813L823.9 816.9L805.5 817.6L793.2 820.6L777.8 814.5L767.1 806.8L767.1 802.2M919.2 756.1L937.6 753.7L956 759.2L971.4 756.1L992.9 754.6L1011.3 759.2L1025.1 762.3L1029.7 773L1048.2 773L1035.9 779.2L1054.3 782.2L1063.5 783.8L1074.3 794.5L1065.1 805.3L1045.1 799.1L1026.7 799.1L1008.2 806.8L989.8 805.3L980.6 825.2L969.8 813L952.9 806.8L934.5 808.3L909.9 809.9L886.9 802.2L894.6 793L916.1 797.6L937.6 799.1L951.4 794.5L939.1 782.2L939.1 769.9L928.4 762.3L919.2 756.1M1108.1 802.2L1112.7 797.6L1137.3 798.2L1157.2 802.2L1154.2 811.4L1137.3 814.5L1109.6 814.5L1108.1 802.2M777.8 593.3L785.5 607.1L790.1 622.5L779.4 619.4L771.7 607.1L773.2 594.8L777.8 593.3M748.7 545.6L768.6 545.6L780.9 548.7L765.6 551.8L748.7 550.3L748.7 545.6M787.1 539.5L802.4 548.7L807 561L800.9 570.2L797.8 557.9L787.1 539.5M817.8 582.5L833.1 593.3L834.7 607.1L830.1 597.9L817.8 582.5M848.5 608.6L859.2 622.5L854.6 624L848.5 608.6M860.8 640.9L873.1 656.3L870 659.3L860.8 640.9M836.2 637.8L848.5 645.5L839.3 642.4L836.2 637.8M885.4 625.5L886.9 630.1L883.8 628.6L885.4 625.5M888.4 665.5L903.8 674.7L900.7 680.8L891.5 683.9L897.6 671.6L888.4 665.5M926.8 677.8L939.1 679.3L931.4 680.8L926.8 677.8M909.9 717.7L931.4 711.6L928.4 722.3L909.9 722.3L909.9 717.7M949.9 696.2L974.4 694.7L968.3 699.3L949.9 696.2M1272.4 1037.2L1300.1 1032.6L1301.6 1055.7L1272.4 1057.2L1284.7 1049.5L1272.4 1037.2M1304.7 1021.9L1313.9 1018.8L1309.3 1023.4L1304.7 1021.9M1195.6 1026.5L1214.1 1023.4L1212.5 1031.1L1195.6 1029.6L1195.6 1026.5M1022.1 978.9L1026.7 983.5L1023.6 984.4L1022.1 978.9M1049.7 986.5L1062 995.8L1057.4 994.2L1049.7 986.5M1072.8 988.1L1078.9 995.8L1075.8 994.2L1072.8 988.1M1275.5 866.7L1278.6 861.8L1283.2 860.6L1287.8 861.8L1290.9 866.7L1287.8 871.6L1283.2 872.9L1278.6 871.6L1275.5 866.7M1286.3 892.2L1287.5 887.3L1289.3 886.1L1291.2 887.3L1292.4 892.2L1291.2 897.1L1289.3 898.4L1287.5 897.1L1286.3 892.2M1296.1 915.9L1297.7 910.5L1300.1 909.1L1302.5 910.5L1304.1 915.9L1302.5 921.3L1300.1 922.6L1297.7 921.3L1296.1 915.9M1298.5 938.9L1299.5 935L1301 934L1302.5 935L1303.5 938.9L1302.5 942.9L1301 943.8L1299.5 942.9L1298.5 938.9M1291.8 958.9L1292.6 955.9L1293.9 955.2L1295.2 955.9L1296.1 958.9L1295.2 961.8L1293.9 962.6L1292.6 961.8L1291.8 958.9M1276.7 993.6L1277.7 990.7L1279.2 989.9L1280.7 990.7L1281.6 993.6L1280.7 996.6L1279.2 997.3L1277.7 996.6L1276.7 993.6M1341.6 962L1342.8 958.5L1344.6 957.7L1346.5 958.5L1347.7 962L1346.5 965.4L1344.6 966.3L1342.8 965.4L1341.6 962M1272.4 841.2L1273.7 839.3L1275.5 838.8L1277.3 839.3L1278.6 841.2L1277.3 843.2L1275.5 843.7L1273.7 843.2L1272.4 841.2M1243.2 834.5L1244.5 832.5L1246.3 832L1248.2 832.5L1249.4 834.5L1248.2 836.4L1246.3 836.9L1244.5 836.4L1243.2 834.5M1234.6 811.4L1235.6 809.9L1237.1 809.6L1238.6 809.9L1239.6 811.4L1238.6 812.9L1237.1 813.3L1235.6 812.9L1234.6 811.4M1180.3 820.6L1182.1 819.4L1184.9 819.1L1187.6 819.4L1189.5 820.6L1187.6 821.9L1184.9 822.2L1182.1 821.9L1180.3 820.6M1176.6 802.8L1178.1 801.8L1180.3 801.6L1182.5 801.8L1184 802.8L1182.5 803.8L1180.3 804L1178.1 803.8L1176.6 802.8M1186.4 799.7L1187.6 798.8L1189.5 798.5L1191.3 798.8L1192.6 799.7L1191.3 800.7L1189.5 801L1187.6 800.7L1186.4 799.7M1261.7 852L1262.3 850.3L1263.2 849.8L1264.1 850.3L1264.8 852L1264.1 853.7L1263.2 854.1L1262.3 853.7L1261.7 852M1161.2 809.3L1162.7 808.3L1164.9 808L1167.1 808.3L1168.6 809.3L1167.1 810.2L1164.9 810.5L1162.7 810.2L1161.2 809.3M673.4 773L675.2 772L678 771.8L680.8 772L682.6 773L680.8 774L678 774.2L675.2 774L673.4 773M717.9 760.7L719.2 760L721 759.8L722.9 760L724.1 760.7L722.9 761.5L721 761.6L719.2 761.5L717.9 760.7M925.3 786.8L928.4 784.9L933 784.4L937.6 784.9L940.7 786.8L937.6 788.8L933 789.3L928.4 788.8L925.3 786.8M931.4 750L933.9 748.7L937.6 748.4L941.3 748.7L943.7 750L941.3 751.2L937.6 751.5L933.9 751.2L931.4 750" fill="none" stroke="#000" stroke-width="1.6" stroke-linejoin="round"/>
<path d="M189.6 568.4L172.7 567.1L154.2 562.5L132.7 554.9L126.6 542.6L117.4 524.1L115.8 516.5L102 502.6L92.8 496.5M340.1 919L343.2 905.1L346.2 902.1L355.4 872.2L395.4 872.2L395.4 862.1L378.5 846.7L364.7 836L378.5 836L378.5 818.5L435.3 818.5L435.3 814.5L444.5 813L452.2 800.7L461.4 799.1M435.3 818.5L433.8 877.5L443 877.5M461.4 883.6L446.1 895.9L435.3 903.6L429.2 922L421.5 929.7L406.1 943.5M429.2 922L446.1 929.7L456.8 938.9L478.3 940.5L476.8 954.3M492.1 966.6L510.6 957.4L529 937.4L541.3 938.9L562.8 919L578.2 914.3L596.6 912.8L619.6 905.7M541.3 1025.6L565.9 1029.6L584.3 1028L604.3 1031.1M637.8 1072L627.3 1086.4L633.5 1092.5L627.3 1118.7M797.8 1100.2L794.7 1120.2L802.4 1123.3L785.5 1141.7L780.9 1144.8M982.1 1005L962.2 1009.6L946.8 1028L931.4 1064.9L922.2 1083.3L937.6 1086.4L949.9 1107.9L948.3 1138.6L962.2 1150.9L1002.1 1147.9L1020.5 1150.9L1042 1178.6L1100.4 1175.5L1091.2 1203.2L1089.6 1227.7L1106.5 1261.5L1089.6 1280L1109.6 1295.3L1118.8 1329.1L1112.7 1330.7M1118.8 1329.1L1103.5 1301.5L1078.9 1306.1L1080.4 1313.8L1028.2 1313.8L1028.2 1332.2L1048.2 1335.3L1035.9 1346L1022.1 1349.1L1022.1 1372.1M747.1 1316.8L762.5 1329.1L784 1341.4L796.3 1353.7L830.1 1353.7L860.8 1369.1M1118.8 1329.1L1137.3 1343L1161.8 1336.8L1174.1 1330.7L1201.8 1319.9L1207.9 1304.5L1226.4 1298.4L1226.4 1290.7L1207.9 1289.2L1201.8 1270.8L1198.7 1252.3L1186.4 1240L1207.9 1243.1L1229.4 1244.6L1241.7 1255.4L1246.3 1241.6L1269.4 1238.5L1284.7 1230.8L1301.6 1226.2L1312.4 1213.9L1307.8 1206.2M1307.8 1206.2L1287.8 1183.2L1295.5 1175.5L1295.5 1160.1L1321.6 1147.9L1309.3 1134L1336.9 1111M1307.8 1206.2L1324.7 1204.7L1331.7 1210.8L1326.2 1227.7L1340 1230.8L1344.6 1244.6L1335.4 1255.4L1335.4 1293.8L1353.8 1323L1367.7 1329.1L1392.2 1319.9L1413.7 1306.1L1438.3 1306.1M1418.4 1181.7L1413.7 1201.6L1395.3 1218.5L1390.7 1243.1L1404.5 1263.1L1413.7 1263.1L1416.8 1280L1438.3 1306.1M1515.1 1189.3L1501.3 1212.4L1501.3 1227.7L1515.1 1255.4L1509 1273.8L1496.7 1293.8M1438.3 1306.1L1453.7 1309.2L1456.8 1303L1455.2 1289.2L1484.4 1287.7L1496.7 1293.8L1512 1299.9L1521.3 1293.8L1548.9 1298.4L1559.7 1287.7L1567.3 1267.7L1587.3 1240M969.8 760.7L971.4 779.2L965.2 794.5L969.8 811.4" fill="none" stroke="#000" stroke-width="1" stroke-linejoin="round"/>
<g font-size="20" text-anchor="middle">
<text transform="translate(603.9 207.8) rotate(-50.4)" y="7.3">-22</text>
<text transform="translate(918.1 235.7) rotate(11.1)" y="7.3">-16</text>
<text transform="translate(392.9 291.7) rotate(-7.2)" y="7.3">-24</text>
<text transform="translate(335 344) rotate(-13.8)" y="7.3">-18</text>
<text transform="translate(287 375.3) rotate(-7.1)" y="7.3">-14</text>
<text transform="translate(271.9 407.1) rotate(-1.9)" y="7.3">-8</text>
<text transform="translate(318 411.6) rotate(-3.2)" y="7.3">-6</text>
<text transform="translate(348.1 419) rotate(-2.2)" y="7.3">-4</text>
<text transform="translate(241.1 436.5) rotate(-6.3)" y="7.3">-2</text>
<text transform="translate(210 449.2) rotate(-8.1)" y="7.3">0</text>
<text transform="translate(144 473.6) rotate(-4.1)" y="7.3">4</text>
<text transform="translate(439 469.8) rotate(6.9)" y="7.3">2</text>
<text transform="translate(270.8 488.8) rotate(-1.3)" y="7.3">10</text>
<text transform="translate(283.1 553.4) rotate(24)" y="7.3">16</text>
<text transform="translate(671.6 655.5) rotate(37.9)" y="7.3">4</text>
<text transform="translate(1084.6 245.9) rotate(23.4)" y="7.3">-22</text>
<text transform="translate(1305.3 278) rotate(20.3)" y="7.3">-24</text>
<text transform="translate(1509.2 367.1) rotate(-10.5)" y="7.3">-20</text>
<text transform="translate(1512.7 450.7) rotate(39.8)" y="7.3">-12</text>
<text transform="translate(1622 487.3) rotate(-0.7)" y="7.3">-10</text>
<text transform="translate(823.9 746) rotate(50.9)" y="7.3">2</text>
<text transform="translate(363 755) rotate(-30)" y="7.3">14</text>
<text transform="translate(436.1 736.1) rotate(-46.1)" y="7.3">8</text>
<text transform="translate(558.6 800.2) rotate(45.9)" y="7.3">8</text>
<text transform="translate(163.4 808.8) rotate(49)" y="7.3">12</text>
<text transform="translate(191.2 837.4) rotate(-81.1)" y="7.3">4</text>
<text transform="translate(178.8 855.1) rotate(-34.8)" y="7.3">4</text>
<text transform="translate(162.5 862.3) rotate(49.1)" y="7.3">6</text>
<text transform="translate(127.8 898.9) rotate(-45.3)" y="7.3">8</text>
<text transform="translate(533.5 869.4) rotate(43.3)" y="7.3">12</text>
<text transform="translate(394.7 902.6) rotate(26.4)" y="7.3">2</text>
<text transform="translate(410.1 902.6) rotate(-2.2)" y="7.3">4</text>
<text transform="translate(372.7 917.5) rotate(14.4)" y="7.3">6</text>
<text transform="translate(551.8 919.9) rotate(49.5)" y="7.3">0</text>
<text transform="translate(528.6 963.5) rotate(20.2)" y="7.3">4</text>
<text transform="translate(699.3 917.4) rotate(-47.3)" y="7.3">8</text>
<text transform="translate(672.6 961.7) rotate(67.7)" y="7.3">8</text>
<text transform="translate(747.8 871.5) rotate(28.8)" y="7.3">8</text>
<text transform="translate(931.4 901.3) rotate(-0.8)" y="7.3">8</text>
<text transform="translate(440 1020.5) rotate(0.7)" y="7.3">10</text>
<text transform="translate(828 1029) rotate(-45)" y="7.3">16</text>
<text transform="translate(946.8 1022.4) rotate(-46.7)" y="7.3">8</text>
<text transform="translate(904.7 1073.9) rotate(-43.3)" y="7.3">14</text>
<text transform="translate(776.4 1075.2) rotate(40.8)" y="7.3">12</text>
<text transform="translate(122.7 1072.6) rotate(27)" y="7.3">8</text>
<text transform="translate(921.8 1089.5) rotate(-40.4)" y="7.3">8</text>
<text transform="translate(598.5 1106.9) rotate(35.7)" y="7.3">12</text>
<text transform="translate(931.4 1144.9) rotate(-51.1)" y="7.3">14</text>
<text transform="translate(740.1 1168.8) rotate(45.5)" y="7.3">10</text>
<text transform="translate(148.1 1176.6) rotate(-45.3)" y="7.3">8</text>
<text transform="translate(916.1 1202.2) rotate(-39.1)" y="7.3">10</text>
<text transform="translate(842.9 1259.3) rotate(43.3)" y="7.3">12</text>
<text transform="translate(320.3 1271.5) rotate(27.2)" y="7.3">10</text>
<text transform="translate(824.8 1287.6) rotate(15.1)" y="7.3">10</text>
<text transform="translate(588.6 1287.3) rotate(-88.1)" y="7.3">10</text>
<text transform="translate(922.4 1304.5) rotate(-10.2)" y="7.3">8</text>
<text transform="translate(237.6 1330.6) rotate(27)" y="7.3">10</text>
<text transform="translate(839.3 1332.3) rotate(-33.5)" y="7.3">6</text>
<text transform="translate(870 1344.8) rotate(-0.4)" y="7.3">8</text>
<text transform="translate(731.8 1346.4) rotate(-5.1)" y="7.3">8</text>
<text transform="translate(761.9 1337) rotate(-62.9)" y="7.3">10</text>
<text transform="translate(162.3 1357.9) rotate(14.6)" y="7.3">10</text>
<text transform="translate(1013.3 791.6) rotate(43.5)" y="7.3">2</text>
<text transform="translate(1206.9 819.7) rotate(-9.8)" y="7.3">2</text>
<text transform="translate(1324.2 814.5) rotate(-42.3)" y="7.3">0</text>
<text transform="translate(1361.5 884.5) rotate(-46.4)" y="7.3">0</text>
<text transform="translate(1330.8 955.6) rotate(-44.5)" y="7.3">2</text>
<text transform="translate(1391.9 989.6) rotate(0.6)" y="7.3">2</text>
<text transform="translate(1039 1023.2) rotate(-0.2)" y="7.3">6</text>
<text transform="translate(1407.7 1039.9) rotate(-66.3)" y="7.3">4</text>
<text transform="translate(1317.3 1052.7) rotate(45)" y="7.3">4</text>
<text transform="translate(1207.2 1063.5) rotate(-5.9)" y="7.3">6</text>
<text transform="translate(1392.2 1085.6) rotate(-39.8)" y="7.3">6</text>
<text transform="translate(992.9 1079) rotate(-39.8)" y="7.3">12</text>
<text transform="translate(1064.5 1135.1) rotate(26.5)" y="7.3">12</text>
<text transform="translate(1177.2 1145.4) rotate(-57.7)" y="7.3">6</text>
<text transform="translate(1115.8 1162.2) rotate(-1.4)" y="7.3">14</text>
<text transform="translate(1422 1139.2) rotate(0.2)" y="7.3">6</text>
<text transform="translate(995 1165) rotate(0)" y="7.3">16</text>
<text transform="translate(1038.4 1176.7) rotate(-79.5)" y="7.3">14</text>
<text transform="translate(1611.4 1174.2) rotate(-46.5)" y="7.3">8</text>
<text transform="translate(1348 1198.9) rotate(-31.7)" y="7.3">2</text>
<text transform="translate(1167.7 1204.5) rotate(-55.7)" y="7.3">10</text>
<text transform="translate(1302.4 1199.7) rotate(31.7)" y="7.3">6</text>
<text transform="translate(1289 1227.7) rotate(36.2)" y="7.3">12</text>
<text transform="translate(1450.9 1244.4) rotate(40)" y="7.3">4</text>
<text transform="translate(1516.6 1240.4) rotate(45.6)" y="7.3">4</text>
<text transform="translate(1560.6 1252.2) rotate(54.4)" y="7.3">6</text>
<text transform="translate(1347.1 1271.6) rotate(-5)" y="7.3">10</text>
<text transform="translate(1207 1282.9) rotate(45.6)" y="7.3">10</text>
<text transform="translate(1284.7 1277.4) rotate(-28.1)" y="7.3">10</text>
<text transform="translate(1376.9 1316.2) rotate(-27.2)" y="7.3">10</text>
<text transform="translate(1191.3 1319) rotate(-19.9)" y="7.3">8</text>
<text transform="translate(1499.8 1345.5) rotate(-50.7)" y="7.3">4</text>
<text transform="translate(1269.4 1346.9) rotate(-18.3)" y="7.3">8</text>
<text transform="translate(992 1346.8) rotate(47.3)" y="7.3">6</text>
<text transform="translate(1300.1 1361.6) rotate(51.1)" y="7.3">8</text>
<text transform="translate(1625 1302) rotate(60)" y="7.3">0</text>
<text transform="translate(1636.1 1337.2) rotate(-86.4)" y="7.3">8</text>
</g>
<g stroke="#a8a8a8" stroke-opacity="0.5" stroke-width="1" stroke-dasharray="4.6 2" fill="none">
<line x1="409.9" x2="409.9" y1="137.0" y2="1366.0"/>
<line x1="717.1" x2="717.1" y1="137.0" y2="1366.0"/>
<line x1="1024.3" x2="1024.3" y1="137.0" y2="1366.0"/>
<line x1="1331.5" x2="1331.5" y1="137.0" y2="1366.0"/>
<line x1="102.0" x2="1638.0" y1="1212.9" y2="1212.9"/>
<line x1="102.0" x2="1638.0" y1="1059.2" y2="1059.2"/>
<line x1="102.0" x2="1638.0" y1="905.6" y2="905.6"/>
<line x1="102.0" x2="1638.0" y1="752" y2="752"/>
<line x1="102.0" x2="1638.0" y1="598.4" y2="598.4"/>
<line x1="102.0" x2="1638.0" y1="444.8" y2="444.8"/>
<line x1="102.0" x2="1638.0" y1="291.1" y2="291.1"/>
</g>
</g>
<rect x="102.0" y="137.0" width="1536.0" height="1229.0" fill="none" stroke="#000" stroke-width="2"/>
<text x="870" y="56.4" font-size="27.5" text-anchor="middle" xml:space="preserve">GFS — θe de saturación media 1000–700 hPa — ANOMALÍA (sombreado y contornos)</text>
<text x="870" y="87.3" font-size="27.5" text-anchor="middle" xml:space="preserve">Inicialización: 20260219 06Z   •   Pronóstico: f030 (UTC)</text>
<text x="870" y="122.4" font-size="27.5" text-anchor="middle" xml:space="preserve">Instituto Meteorológico Nacional</text>
<text x="90.2" y="1219.2" font-size="25" text-anchor="end">5°N</text>
<text x="90.2" y="1065.5" font-size="25" text-anchor="end">10°N</text>
<text x="90.2" y="911.9" font-size="25" text-anchor="end">15°N</text>
<text x="90.2" y="758.3" font-size="25" text-anchor="end">20°N</text>
<text x="90.2" y="604.7" font-size="25" text-anchor="end">25°N</text>
<text x="90.2" y="451.1" font-size="25" text-anchor="end">30°N</text>
<text x="90.2" y="297.4" font-size="25" text-anchor="end">35°N</text>
<text x="409.8" y="1399" font-size="25" text-anchor="middle">90°W</text>
<text x="717" y="1399" font-size="25" text-anchor="middle">80°W</text>
<text x="1024.2" y="1399" font-size="25" text-anchor="middle">70°W</text>
<text x="1331.4" y="1399" font-size="25" text-anchor="middle">60°W</text>
<g shape-rendering="crispEdges">
<rect x="1675" y="1287.5" width="60" height="60" fill="#5e4fa2"/>
<rect x="1675" y="1227.9" width="60" height="60" fill="#486cb0"/>
<rect x="1675" y="1168.3" width="60" height="60" fill="#3389bd"/>
<rect x="1675" y="1108.8" width="60" height="60" fill="#50a9af"/>
<rect x="1675" y="1049.2" width="60" height="60" fill="#6bc4a5"/>
<rect x="1675" y="989.7" width="60" height="60" fill="#91d3a4"/>
<rect x="1675" y="930.2" width="60" height="60" fill="#b3e0a2"/>
<rect x="1675" y="870.6" width="60" height="60" fill="#d1ed9c"/>
<rect x="1675" y="811.1" width="60" height="60" fill="#ebf7a0"/>
<rect x="1675" y="751.5" width="60" height="60" fill="#f8fcb4"/>
<rect x="1675" y="692" width="60" height="60" fill="#fff7b2"/>
<rect x="1675" y="632.4" width="60" height="60" fill="#fee797"/>
<rect x="1675" y="572.9" width="60" height="60" fill="#fed07e"/>
<rect x="1675" y="513.3" width="60" height="60" fill="#fdb768"/>
<rect x="1675" y="453.8" width="60" height="60" fill="#fa9857"/>
<rect x="1675" y="394.2" width="60" height="60" fill="#f57547"/>
<rect x="1675" y="334.7" width="60" height="60" fill="#e85b48"/>
<rect x="1675" y="275.1" width="60" height="60" fill="#d7414e"/>
<rect x="1675" y="215.5" width="60" height="60" fill="#bc2249"/>
<rect x="1675" y="156" width="60" height="60" fill="#9e0142"/>
</g>
<rect x="1675" y="156" width="60" height="1191" fill="none" stroke="#000" stroke-width="2"/>
<line x1="1735" x2="1743.75" y1="1347" y2="1347" stroke="#000" stroke-width="2"/>
<text x="1752.5" y="1356.4" font-size="25">−24</text>
<line x1="1735" x2="1743.75" y1="1287.5" y2="1287.5" stroke="#000" stroke-width="2"/>
<text x="1752.5" y="1296.9" font-size="25">−22</text>
<line x1="1735" x2="1743.75" y1="1227.9" y2="1227.9" stroke="#000" stroke-width="2"/>
<text x="1752.5" y="1237.3" font-size="25">−20</text>
<line x1="1735" x2="1743.75" y1="1168.3" y2="1168.3" stroke="#000" stroke-width="2"/>
<text x="1752.5" y="1177.8" font-size="25">−18</text>
<line x1="1735" x2="1743.75" y1="1108.8" y2="1108.8" stroke="#000" stroke-width="2"/>
<text x="1752.5" y="1118.2" font-size="25">−16</text>
<line x1="1735" x2="1743.75" y1="1049.2" y2="1049.2" stroke="#000" stroke-width="2"/>
<text x="1752.5" y="1058.7" font-size="25">−14</text>
<line x1="1735" x2="1743.75" y1="989.7" y2="989.7" stroke="#000" stroke-width="2"/>
<text x="1752.5" y="999.1" font-size="25">−12</text>
<line x1="1735" x2="1743.75" y1="930.2" y2="930.2" stroke="#000" stroke-width="2"/>
<text x="1752.5" y="939.6" font-size="25">−10</text>
<line x1="1735" x2="1743.75" y1="870.6" y2="870.6" stroke="#000" stroke-width="2"/>
<text x="1752.5" y="880" font-size="25">−8</text>
<line x1="1735" x2="1743.75" y1="811.1" y2="811.1" stroke="#000" stroke-width="2"/>
<text x="1752.5" y="820.5" font-size="25">−6</text>
<line x1="1735" x2="1743.75" y1="751.5" y2="751.5" stroke="#000" stroke-width="2"/>
<text x="1752.5" y="760.9" font-size="25">−4</text>
<line x1="1735" x2="1743.75" y1="692" y2="692" stroke="#000" stroke-width="2"/>
<text x="1752.5" y="701.4" font-size="25">−2</text>
<line x1="1735" x2="1743.75" y1="632.4" y2="632.4" stroke="#000" stroke-width="2"/>
<text x="1752.5" y="641.8" font-size="25">0</text>
<line x1="1735" x2="1743.75" y1="572.9" y2="572.9" stroke="#000" stroke-width="2"/>
<text x="1752.5" y="582.2" font-size="25">2</text>
<line x1="1735" x2="1743.75" y1="513.3" y2="513.3" stroke="#000" stroke-width="2"/>
<text x="1752.5" y="522.7" font-size="25">4</text>
<line x1="1735" x2="1743.75" y1="453.8" y2="453.8" stroke="#000" stroke-width="2"/>
<text x="1752.5" y="463.1" font-size="25">6</text>
<line x1="1735" x2="1743.75" y1="394.2" y2="394.2" stroke="#000" stroke-width="2"/>
<text x="1752.5" y="403.6" font-size="25">8</text>
<line x1="1735" x2="1743.75" y1="334.7" y2="334.7" stroke="#000" stroke-width="2"/>
<text x="1752.5" y="344.1" font-size="25">10</text>
<line x1="1735" x2="1743.75" y1="275.1" y2="275.1" stroke="#000" stroke-width="2"/>
<text x="1752.5" y="284.5" font-size="25">12</text>
<line x1="1735" x2="1743.75" y1="215.5" y2="215.5" stroke="#000" stroke-width="2"/>
<text x="1752.5" y="224.9" font-size="25">14</text>
<line x1="1735" x2="1743.75" y1="156" y2="156" stroke="#000" stroke-width="2"/>
<text x="1752.5" y="165.4" font-size="25">16</text>
<text transform="translate(1834 751.5) rotate(-90)" font-size="25" text-anchor="middle">Anomalía de θe de saturación media 1000–700 hPa [°C]</text>
</svg>
</body></html>
